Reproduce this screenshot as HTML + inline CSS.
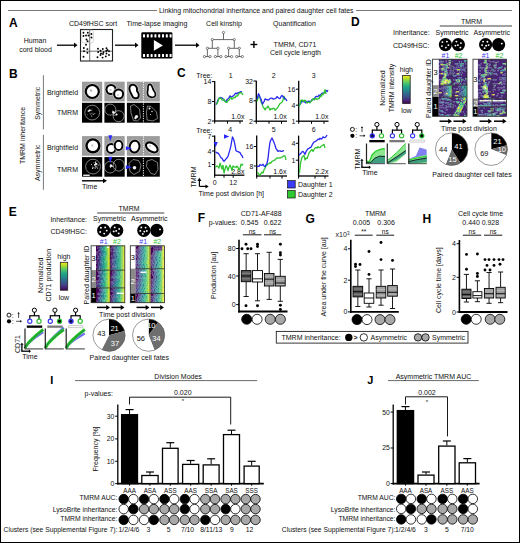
<!DOCTYPE html>
<html><head><meta charset="utf-8"><style>
html,body{margin:0;padding:0;background:#fff;}
svg{display:block;font-family:"Liberation Sans",sans-serif;}
</style></head><body>
<svg width="520" height="543" viewBox="0 0 520 543">
<rect x="0" y="0" width="520" height="543" fill="#fff"/>
<rect x="0.50" y="0.50" width="519.00" height="542.00" fill="none" stroke="#000" stroke-width="1" />
<line x1="8.00" y1="10.50" x2="157.00" y2="10.50" stroke="#555" stroke-width="0.8" />
<text x="159.00" y="12.82" font-size="7" text-anchor="start" font-weight="normal" fill="#111" textLength="194.5" lengthAdjust="spacingAndGlyphs">Linking mitochondrial inheritance and paired daughter cell fates</text>
<line x1="356.00" y1="10.50" x2="512.00" y2="10.50" stroke="#555" stroke-width="0.8" />
<text x="9.00" y="27.45" font-size="12" font-weight="bold" fill="#000">A</text>
<text x="35.00" y="43.02" font-size="7" text-anchor="middle" font-weight="normal" fill="#111" >Human</text>
<text x="35.50" y="51.52" font-size="7" text-anchor="middle" font-weight="normal" fill="#111" >cord blood</text>
<line x1="57.00" y1="45.20" x2="74.50" y2="45.20" stroke="#000" stroke-width="1.3" />
<polygon points="74.00,42.60 77.50,45.20 74.00,47.80" fill="#000" stroke="none" stroke-width="1" />
<text x="93.00" y="25.72" font-size="7" text-anchor="middle" font-weight="normal" fill="#111" >CD49fHSC sort</text>
<rect x="80.50" y="29.50" width="32.00" height="31.50" fill="none" stroke="#222" stroke-width="1.1" />
<line x1="89.70" y1="29.50" x2="89.70" y2="61.00" stroke="#333" stroke-width="0.7" />
<line x1="80.50" y1="51.20" x2="112.50" y2="51.20" stroke="#333" stroke-width="0.7" />
<rect x="81.80" y="30.20" width="11.50" height="12.60" fill="none" stroke="#bbb" stroke-width="0.6" rx="1.5"/>
<circle cx="83.50" cy="32.70" r="0.95" fill="#000" stroke="none" stroke-width="1" />
<circle cx="87.80" cy="32.70" r="0.95" fill="#000" stroke="none" stroke-width="1" />
<circle cx="91.40" cy="34.00" r="0.95" fill="#000" stroke="none" stroke-width="1" />
<circle cx="83.50" cy="36.00" r="0.95" fill="#000" stroke="none" stroke-width="1" />
<circle cx="86.00" cy="35.50" r="0.95" fill="#000" stroke="none" stroke-width="1" />
<circle cx="88.50" cy="35.50" r="0.95" fill="#000" stroke="none" stroke-width="1" />
<circle cx="91.50" cy="37.50" r="0.95" fill="#000" stroke="none" stroke-width="1" />
<circle cx="86.50" cy="39.50" r="0.95" fill="#000" stroke="none" stroke-width="1" />
<circle cx="87.60" cy="41.30" r="0.95" fill="#000" stroke="none" stroke-width="1" />
<circle cx="86.00" cy="44.70" r="0.95" fill="#000" stroke="none" stroke-width="1" />
<circle cx="83.80" cy="48.00" r="0.95" fill="#000" stroke="none" stroke-width="1" />
<circle cx="87.40" cy="49.10" r="0.95" fill="#000" stroke="none" stroke-width="1" />
<circle cx="84.00" cy="51.30" r="0.95" fill="#000" stroke="none" stroke-width="1" />
<circle cx="87.40" cy="52.80" r="0.95" fill="#000" stroke="none" stroke-width="1" />
<circle cx="83.50" cy="56.80" r="0.95" fill="#000" stroke="none" stroke-width="1" />
<circle cx="98.00" cy="48.80" r="0.95" fill="#000" stroke="none" stroke-width="1" />
<circle cx="100.50" cy="50.80" r="0.95" fill="#000" stroke="none" stroke-width="1" />
<circle cx="102.80" cy="49.00" r="0.95" fill="#000" stroke="none" stroke-width="1" />
<circle cx="106.50" cy="48.30" r="0.95" fill="#000" stroke="none" stroke-width="1" />
<circle cx="98.20" cy="52.00" r="0.95" fill="#000" stroke="none" stroke-width="1" />
<circle cx="101.00" cy="53.50" r="0.95" fill="#000" stroke="none" stroke-width="1" />
<circle cx="103.50" cy="52.20" r="0.95" fill="#000" stroke="none" stroke-width="1" />
<circle cx="106.20" cy="51.00" r="0.95" fill="#000" stroke="none" stroke-width="1" />
<circle cx="109.00" cy="51.20" r="0.95" fill="#000" stroke="none" stroke-width="1" />
<circle cx="100.50" cy="55.00" r="0.95" fill="#000" stroke="none" stroke-width="1" />
<circle cx="103.00" cy="54.00" r="0.95" fill="#000" stroke="none" stroke-width="1" />
<circle cx="106.50" cy="53.50" r="0.95" fill="#000" stroke="none" stroke-width="1" />
<circle cx="109.00" cy="55.00" r="0.95" fill="#000" stroke="none" stroke-width="1" />
<circle cx="97.50" cy="57.30" r="0.95" fill="#000" stroke="none" stroke-width="1" />
<circle cx="102.60" cy="57.60" r="0.95" fill="#000" stroke="none" stroke-width="1" />
<circle cx="105.80" cy="56.40" r="0.95" fill="#000" stroke="none" stroke-width="1" />
<circle cx="107.50" cy="50.00" r="0.95" fill="#000" stroke="none" stroke-width="1" />
<line x1="115.00" y1="45.20" x2="135.50" y2="45.20" stroke="#000" stroke-width="1.3" />
<polygon points="135.00,42.60 138.50,45.20 135.00,47.80" fill="#000" stroke="none" stroke-width="1" />
<text x="157.00" y="25.72" font-size="7" text-anchor="middle" font-weight="normal" fill="#111" >Time-lapse imaging</text>
<rect x="141.30" y="32.20" width="31.10" height="26.40" fill="#000" stroke="none" stroke-width="1" rx="1.3"/>
<rect x="143.00" y="34.20" width="2.00" height="3.20" fill="#fff" stroke="none" stroke-width="1" rx="0.4"/>
<rect x="143.00" y="53.90" width="2.00" height="3.20" fill="#fff" stroke="none" stroke-width="1" rx="0.4"/>
<rect x="146.80" y="34.20" width="2.00" height="3.20" fill="#fff" stroke="none" stroke-width="1" rx="0.4"/>
<rect x="146.80" y="53.90" width="2.00" height="3.20" fill="#fff" stroke="none" stroke-width="1" rx="0.4"/>
<rect x="150.60" y="34.20" width="2.00" height="3.20" fill="#fff" stroke="none" stroke-width="1" rx="0.4"/>
<rect x="150.60" y="53.90" width="2.00" height="3.20" fill="#fff" stroke="none" stroke-width="1" rx="0.4"/>
<rect x="154.40" y="34.20" width="2.00" height="3.20" fill="#fff" stroke="none" stroke-width="1" rx="0.4"/>
<rect x="154.40" y="53.90" width="2.00" height="3.20" fill="#fff" stroke="none" stroke-width="1" rx="0.4"/>
<rect x="158.20" y="34.20" width="2.00" height="3.20" fill="#fff" stroke="none" stroke-width="1" rx="0.4"/>
<rect x="158.20" y="53.90" width="2.00" height="3.20" fill="#fff" stroke="none" stroke-width="1" rx="0.4"/>
<rect x="162.00" y="34.20" width="2.00" height="3.20" fill="#fff" stroke="none" stroke-width="1" rx="0.4"/>
<rect x="162.00" y="53.90" width="2.00" height="3.20" fill="#fff" stroke="none" stroke-width="1" rx="0.4"/>
<rect x="165.80" y="34.20" width="2.00" height="3.20" fill="#fff" stroke="none" stroke-width="1" rx="0.4"/>
<rect x="165.80" y="53.90" width="2.00" height="3.20" fill="#fff" stroke="none" stroke-width="1" rx="0.4"/>
<rect x="169.60" y="34.20" width="2.00" height="3.20" fill="#fff" stroke="none" stroke-width="1" rx="0.4"/>
<rect x="169.60" y="53.90" width="2.00" height="3.20" fill="#fff" stroke="none" stroke-width="1" rx="0.4"/>
<polygon points="153.90,40.00 153.90,50.80 162.90,45.40" fill="#fff" stroke="none" stroke-width="1" />
<line x1="175.00" y1="45.20" x2="196.50" y2="45.20" stroke="#000" stroke-width="1.3" />
<polygon points="196.00,42.60 199.50,45.20 196.00,47.80" fill="#000" stroke="none" stroke-width="1" />
<text x="224.00" y="25.72" font-size="7" text-anchor="middle" font-weight="normal" fill="#111" >Cell kinship</text>
<line x1="223.50" y1="32.50" x2="223.50" y2="39.60" stroke="#444" stroke-width="0.8" />
<line x1="212.30" y1="39.60" x2="234.30" y2="39.60" stroke="#444" stroke-width="0.8" />
<line x1="212.30" y1="39.60" x2="212.30" y2="48.30" stroke="#444" stroke-width="0.8" />
<line x1="234.30" y1="39.60" x2="234.30" y2="48.30" stroke="#444" stroke-width="0.8" />
<line x1="207.40" y1="48.30" x2="217.90" y2="48.30" stroke="#444" stroke-width="0.8" />
<line x1="228.60" y1="48.30" x2="239.30" y2="48.30" stroke="#444" stroke-width="0.8" />
<line x1="207.40" y1="48.30" x2="207.40" y2="56.60" stroke="#444" stroke-width="0.8" />
<line x1="204.40" y1="56.60" x2="210.10" y2="56.60" stroke="#444" stroke-width="0.8" />
<line x1="217.90" y1="48.30" x2="217.90" y2="56.60" stroke="#444" stroke-width="0.8" />
<line x1="215.30" y1="56.60" x2="220.90" y2="56.60" stroke="#444" stroke-width="0.8" />
<line x1="228.60" y1="48.30" x2="228.60" y2="56.60" stroke="#444" stroke-width="0.8" />
<line x1="226.00" y1="56.60" x2="231.60" y2="56.60" stroke="#444" stroke-width="0.8" />
<line x1="239.30" y1="48.30" x2="239.30" y2="56.60" stroke="#444" stroke-width="0.8" />
<line x1="236.70" y1="56.60" x2="242.30" y2="56.60" stroke="#444" stroke-width="0.8" />
<circle cx="223.50" cy="32.50" r="1.15" fill="#fff" stroke="#333" stroke-width="0.6" />
<circle cx="212.30" cy="39.60" r="1.15" fill="#fff" stroke="#333" stroke-width="0.6" />
<circle cx="234.30" cy="39.60" r="1.15" fill="#fff" stroke="#333" stroke-width="0.6" />
<circle cx="207.40" cy="48.30" r="1.15" fill="#fff" stroke="#333" stroke-width="0.6" />
<circle cx="217.90" cy="48.30" r="1.15" fill="#fff" stroke="#333" stroke-width="0.6" />
<circle cx="228.60" cy="48.30" r="1.15" fill="#fff" stroke="#333" stroke-width="0.6" />
<circle cx="239.30" cy="48.30" r="1.15" fill="#fff" stroke="#333" stroke-width="0.6" />
<circle cx="204.40" cy="56.60" r="1.15" fill="#fff" stroke="#333" stroke-width="0.6" />
<circle cx="210.10" cy="56.60" r="1.15" fill="#fff" stroke="#333" stroke-width="0.6" />
<circle cx="215.30" cy="56.60" r="1.15" fill="#fff" stroke="#333" stroke-width="0.6" />
<circle cx="220.90" cy="56.60" r="1.15" fill="#fff" stroke="#333" stroke-width="0.6" />
<circle cx="226.00" cy="56.60" r="1.15" fill="#fff" stroke="#333" stroke-width="0.6" />
<circle cx="231.60" cy="56.60" r="1.15" fill="#fff" stroke="#333" stroke-width="0.6" />
<circle cx="236.70" cy="56.60" r="1.15" fill="#fff" stroke="#333" stroke-width="0.6" />
<circle cx="242.30" cy="56.60" r="1.15" fill="#fff" stroke="#333" stroke-width="0.6" />
<line x1="250.50" y1="44.50" x2="257.30" y2="44.50" stroke="#000" stroke-width="1.4" />
<line x1="253.90" y1="41.10" x2="253.90" y2="47.90" stroke="#000" stroke-width="1.4" />
<text x="294.50" y="25.72" font-size="7" text-anchor="middle" font-weight="normal" fill="#111" >Quantification</text>
<text x="295.00" y="46.92" font-size="7" text-anchor="middle" font-weight="normal" fill="#111" >TMRM, CD71</text>
<text x="295.50" y="54.82" font-size="7" text-anchor="middle" font-weight="normal" fill="#111" >Cell cycle length</text>
<text x="9.00" y="78.25" font-size="12" font-weight="bold" fill="#000">B</text>
<line x1="43.40" y1="75.20" x2="43.40" y2="129.50" stroke="#777" stroke-width="1" />
<line x1="43.40" y1="134.80" x2="43.40" y2="189.80" stroke="#777" stroke-width="1" />
<text x="0" y="2.10" font-size="7" text-anchor="middle" font-weight="normal" fill="#111" transform="translate(38.00,103.30) rotate(-90)" >Symmetric</text>
<text x="0" y="2.10" font-size="7" text-anchor="middle" font-weight="normal" fill="#111" transform="translate(38.00,162.80) rotate(-90)" >Asymmetric</text>
<text x="0" y="2.10" font-size="7" text-anchor="middle" font-weight="normal" fill="#111" transform="translate(23.30,135.50) rotate(-90)" >TMRM inheritance</text>
<text x="62.50" y="94.72" font-size="7" text-anchor="middle" font-weight="normal" fill="#111" >Brightfield</text>
<text x="67.50" y="115.42" font-size="7" text-anchor="middle" font-weight="normal" fill="#111" >TMRM</text>
<text x="62.50" y="150.02" font-size="7" text-anchor="middle" font-weight="normal" fill="#111" >Brightfield</text>
<text x="67.50" y="171.52" font-size="7" text-anchor="middle" font-weight="normal" fill="#111" >TMRM</text>
<rect x="82.00" y="81.70" width="20.20" height="19.80" fill="#9c9c9c" stroke="none" stroke-width="1" />
<ellipse cx="92.3" cy="91.5" rx="8.3" ry="8.3" fill="#c4c4c4" transform="rotate(0 92.3 91.5)"/>
<ellipse cx="92.3" cy="91.5" rx="7.6000000000000005" ry="7.6000000000000005" fill="#000" transform="rotate(0 92.3 91.5)"/>
<ellipse cx="92.3" cy="91.5" rx="5.4" ry="5.4" fill="#fff" transform="rotate(0 92.3 91.5)"/>
<circle cx="91.00" cy="90.50" r="1.30" fill="#bbb" stroke="none" stroke-width="1" />
<rect x="104.40" y="81.70" width="20.30" height="19.80" fill="#9c9c9c" stroke="none" stroke-width="1" />
<ellipse cx="111" cy="89.5" rx="6.2" ry="6.2" fill="#c4c4c4" transform="rotate(0 111 89.5)"/>
<ellipse cx="111" cy="89.5" rx="5.5" ry="5.5" fill="#000" transform="rotate(0 111 89.5)"/>
<ellipse cx="111" cy="89.5" rx="3.5" ry="3.5" fill="#fff" transform="rotate(0 111 89.5)"/>
<ellipse cx="118.6" cy="94" rx="6.2" ry="6.2" fill="#c4c4c4" transform="rotate(0 118.6 94)"/>
<ellipse cx="118.6" cy="94" rx="5.5" ry="5.5" fill="#000" transform="rotate(0 118.6 94)"/>
<ellipse cx="118.6" cy="94" rx="3.5" ry="3.5" fill="#fff" transform="rotate(0 118.6 94)"/>
<circle cx="110.50" cy="90.00" r="1.00" fill="#bbb" stroke="none" stroke-width="1" />
<circle cx="118.00" cy="95.00" r="1.00" fill="#ccc" stroke="none" stroke-width="1" />
<rect x="126.90" y="81.70" width="32.90" height="19.80" fill="#9c9c9c" stroke="none" stroke-width="1" />
<path d="M132,85.8 C134.5,85 136.5,87.5 136,90 C135.6,92 138.5,93.5 137.8,96 C137,98.2 133.5,97.5 132.8,95 C132.2,93 130.6,91.5 130.4,89 C130.3,87.2 131,86.2 132,85.8Z" fill="#c4c4c4" stroke="#c4c4c4" stroke-width="5.199999999999999" stroke-linejoin="round" />
<path d="M132,85.8 C134.5,85 136.5,87.5 136,90 C135.6,92 138.5,93.5 137.8,96 C137,98.2 133.5,97.5 132.8,95 C132.2,93 130.6,91.5 130.4,89 C130.3,87.2 131,86.2 132,85.8Z" fill="#000" stroke="#000" stroke-width="3.8" stroke-linejoin="round" />
<path d="M132,85.8 C134.5,85 136.5,87.5 136,90 C135.6,92 138.5,93.5 137.8,96 C137,98.2 133.5,97.5 132.8,95 C132.2,93 130.6,91.5 130.4,89 C130.3,87.2 131,86.2 132,85.8Z" fill="#fff" />
<path d="M149.5,85.3 C151,85 151.6,87.5 152.2,89.5 C153,91.5 155.2,93 154.6,95.2 C153.8,97.2 149.6,96.8 148.6,94.6 C147.8,92.6 148.8,90.5 148.8,88.5 C148.8,86.8 148.9,85.6 149.5,85.3Z" fill="#c4c4c4" stroke="#c4c4c4" stroke-width="4.8" stroke-linejoin="round" />
<path d="M149.5,85.3 C151,85 151.6,87.5 152.2,89.5 C153,91.5 155.2,93 154.6,95.2 C153.8,97.2 149.6,96.8 148.6,94.6 C147.8,92.6 148.8,90.5 148.8,88.5 C148.8,86.8 148.9,85.6 149.5,85.3Z" fill="#000" stroke="#000" stroke-width="3.4" stroke-linejoin="round" />
<path d="M149.5,85.3 C151,85 151.6,87.5 152.2,89.5 C153,91.5 155.2,93 154.6,95.2 C153.8,97.2 149.6,96.8 148.6,94.6 C147.8,92.6 148.8,90.5 148.8,88.5 C148.8,86.8 148.9,85.6 149.5,85.3Z" fill="#fff" />
<rect x="82.00" y="102.80" width="20.20" height="19.90" fill="#000" stroke="none" stroke-width="1" />
<ellipse cx="92.2" cy="112.6" rx="7.4" ry="7.4" fill="none" stroke="#d0d0d0" stroke-width="0.6" transform="rotate(0 92.2 112.6)"/>
<circle cx="90.22" cy="114.06" r="0.50" fill="#e8e8e8" stroke="none" stroke-width="1" />
<circle cx="93.96" cy="113.95" r="0.41" fill="#e8e8e8" stroke="none" stroke-width="1" />
<circle cx="94.00" cy="113.64" r="0.31" fill="#e8e8e8" stroke="none" stroke-width="1" />
<circle cx="89.91" cy="112.98" r="0.33" fill="#e8e8e8" stroke="none" stroke-width="1" />
<circle cx="87.36" cy="114.37" r="0.34" fill="#e8e8e8" stroke="none" stroke-width="1" />
<circle cx="91.60" cy="116.01" r="0.58" fill="#e8e8e8" stroke="none" stroke-width="1" />
<circle cx="88.49" cy="111.18" r="0.59" fill="#e8e8e8" stroke="none" stroke-width="1" />
<circle cx="94.99" cy="113.70" r="0.39" fill="#e8e8e8" stroke="none" stroke-width="1" />
<circle cx="91.95" cy="113.72" r="0.39" fill="#e8e8e8" stroke="none" stroke-width="1" />
<circle cx="91.77" cy="110.75" r="0.47" fill="#e8e8e8" stroke="none" stroke-width="1" />
<circle cx="89.24" cy="110.40" r="0.46" fill="#e8e8e8" stroke="none" stroke-width="1" />
<circle cx="92.01" cy="112.92" r="0.36" fill="#e8e8e8" stroke="none" stroke-width="1" />
<circle cx="89.75" cy="109.83" r="0.39" fill="#e8e8e8" stroke="none" stroke-width="1" />
<circle cx="88.40" cy="110.95" r="0.39" fill="#e8e8e8" stroke="none" stroke-width="1" />
<circle cx="92.04" cy="108.88" r="0.37" fill="#e8e8e8" stroke="none" stroke-width="1" />
<circle cx="88.09" cy="111.03" r="0.56" fill="#e8e8e8" stroke="none" stroke-width="1" />
<circle cx="90.69" cy="110.11" r="0.59" fill="#e8e8e8" stroke="none" stroke-width="1" />
<circle cx="93.15" cy="114.47" r="0.53" fill="#e8e8e8" stroke="none" stroke-width="1" />
<circle cx="89.50" cy="110.50" r="1.00" fill="#fff" stroke="none" stroke-width="1" />
<rect x="104.40" y="102.80" width="20.30" height="19.90" fill="#000" stroke="none" stroke-width="1" />
<ellipse cx="110.3" cy="109.6" rx="5.5" ry="5.5" fill="none" stroke="#d0d0d0" stroke-width="0.6" transform="rotate(0 110.3 109.6)"/>
<ellipse cx="118.6" cy="116.2" rx="5.5" ry="5.5" fill="none" stroke="#d0d0d0" stroke-width="0.6" transform="rotate(0 118.6 116.2)"/>
<circle cx="113.50" cy="112.50" r="1.30" fill="#f4f4f4" stroke="none" stroke-width="1" />
<circle cx="116.50" cy="114.50" r="1.10" fill="#f4f4f4" stroke="none" stroke-width="1" />
<circle cx="115.71" cy="115.21" r="0.31" fill="#e8e8e8" stroke="none" stroke-width="1" />
<circle cx="113.21" cy="111.22" r="0.47" fill="#e8e8e8" stroke="none" stroke-width="1" />
<circle cx="115.69" cy="112.32" r="0.51" fill="#e8e8e8" stroke="none" stroke-width="1" />
<circle cx="112.61" cy="112.22" r="0.44" fill="#e8e8e8" stroke="none" stroke-width="1" />
<circle cx="116.06" cy="111.04" r="0.44" fill="#e8e8e8" stroke="none" stroke-width="1" />
<circle cx="114.12" cy="112.87" r="0.51" fill="#e8e8e8" stroke="none" stroke-width="1" />
<circle cx="112.70" cy="111.11" r="0.55" fill="#e8e8e8" stroke="none" stroke-width="1" />
<circle cx="114.10" cy="115.32" r="0.50" fill="#e8e8e8" stroke="none" stroke-width="1" />
<rect x="126.90" y="102.80" width="32.90" height="19.90" fill="#000" stroke="none" stroke-width="1" />
<path d="M130.5,106 L134,104.5 L139.5,109 L140.5,118 L137.5,121 L133.5,120.5 L131,113 Z" fill="none" stroke="#d0d0d0" stroke-width="0.6" stroke-linejoin="round"/>
<circle cx="136.50" cy="116.50" r="1.60" fill="#f0f0f0" stroke="none" stroke-width="1" />
<circle cx="135.50" cy="118.00" r="1.20" fill="#f0f0f0" stroke="none" stroke-width="1" />
<path d="M147.5,106 L151,106.5 L156.5,112 L157.5,118.5 L153,121 L147,120 L146.5,112 Z" fill="none" stroke="#d0d0d0" stroke-width="0.6" stroke-linejoin="round"/>
<circle cx="149.50" cy="108.50" r="1.00" fill="#f0f0f0" stroke="none" stroke-width="1" />
<circle cx="152.00" cy="111.50" r="0.70" fill="#f0f0f0" stroke="none" stroke-width="1" />
<circle cx="150.50" cy="114.50" r="0.50" fill="#f0f0f0" stroke="none" stroke-width="1" />
<rect x="82.00" y="136.10" width="20.20" height="19.70" fill="#9c9c9c" stroke="none" stroke-width="1" />
<ellipse cx="92.9" cy="145.8" rx="8.299999999999999" ry="8.299999999999999" fill="#c4c4c4" transform="rotate(0 92.9 145.8)"/>
<ellipse cx="92.9" cy="145.8" rx="7.6" ry="7.6" fill="#000" transform="rotate(0 92.9 145.8)"/>
<ellipse cx="92.9" cy="145.8" rx="5.2" ry="5.2" fill="#fff" transform="rotate(0 92.9 145.8)"/>
<circle cx="92.30" cy="145.50" r="1.20" fill="#ccc" stroke="none" stroke-width="1" />
<rect x="104.40" y="136.10" width="20.30" height="19.70" fill="#9c9c9c" stroke="none" stroke-width="1" />
<ellipse cx="111.2" cy="148.4" rx="6.0" ry="6.2" fill="#c4c4c4" transform="rotate(0 111.2 148.4)"/>
<ellipse cx="111.2" cy="148.4" rx="5.3" ry="5.5" fill="#000" transform="rotate(0 111.2 148.4)"/>
<ellipse cx="111.2" cy="148.4" rx="3.3" ry="3.5" fill="#fff" transform="rotate(0 111.2 148.4)"/>
<ellipse cx="118.6" cy="145.4" rx="5.5" ry="6.3" fill="#c4c4c4" transform="rotate(0 118.6 145.4)"/>
<ellipse cx="118.6" cy="145.4" rx="4.8" ry="5.6" fill="#000" transform="rotate(0 118.6 145.4)"/>
<ellipse cx="118.6" cy="145.4" rx="2.9" ry="3.7" fill="#fff" transform="rotate(0 118.6 145.4)"/>
<rect x="126.90" y="136.10" width="32.90" height="19.70" fill="#9c9c9c" stroke="none" stroke-width="1" />
<ellipse cx="134.6" cy="146.6" rx="6.6000000000000005" ry="7.6000000000000005" fill="#c4c4c4" transform="rotate(10 134.6 146.6)"/>
<ellipse cx="134.6" cy="146.6" rx="5.9" ry="6.9" fill="#000" transform="rotate(10 134.6 146.6)"/>
<ellipse cx="134.6" cy="146.6" rx="3.9" ry="4.9" fill="#fff" transform="rotate(10 134.6 146.6)"/>
<ellipse cx="151.8" cy="147.4" rx="5.8" ry="8.299999999999999" fill="#c4c4c4" transform="rotate(-55 151.8 147.4)"/>
<ellipse cx="151.8" cy="147.4" rx="5.1" ry="7.6" fill="#000" transform="rotate(-55 151.8 147.4)"/>
<ellipse cx="151.8" cy="147.4" rx="3.0" ry="5.5" fill="#fff" transform="rotate(-55 151.8 147.4)"/>
<circle cx="150.00" cy="146.00" r="1.00" fill="#ccc" stroke="none" stroke-width="1" />
<rect x="82.00" y="157.10" width="20.20" height="19.60" fill="#000" stroke="none" stroke-width="1" />
<ellipse cx="93" cy="166.6" rx="7.4" ry="7.4" fill="none" stroke="#d0d0d0" stroke-width="0.6" transform="rotate(0 93 166.6)"/>
<circle cx="97.69" cy="165.88" r="0.35" fill="#e8e8e8" stroke="none" stroke-width="1" />
<circle cx="95.72" cy="166.15" r="0.53" fill="#e8e8e8" stroke="none" stroke-width="1" />
<circle cx="96.37" cy="166.95" r="0.42" fill="#e8e8e8" stroke="none" stroke-width="1" />
<circle cx="95.78" cy="164.68" r="0.43" fill="#e8e8e8" stroke="none" stroke-width="1" />
<circle cx="91.42" cy="164.35" r="0.55" fill="#e8e8e8" stroke="none" stroke-width="1" />
<circle cx="96.39" cy="163.91" r="0.42" fill="#e8e8e8" stroke="none" stroke-width="1" />
<circle cx="92.62" cy="168.42" r="0.59" fill="#e8e8e8" stroke="none" stroke-width="1" />
<circle cx="95.98" cy="166.86" r="0.37" fill="#e8e8e8" stroke="none" stroke-width="1" />
<circle cx="95.29" cy="168.27" r="0.48" fill="#e8e8e8" stroke="none" stroke-width="1" />
<circle cx="94.98" cy="165.76" r="0.43" fill="#e8e8e8" stroke="none" stroke-width="1" />
<circle cx="92.95" cy="167.70" r="0.59" fill="#e8e8e8" stroke="none" stroke-width="1" />
<circle cx="93.95" cy="162.83" r="0.49" fill="#e8e8e8" stroke="none" stroke-width="1" />
<circle cx="94.58" cy="164.67" r="0.57" fill="#e8e8e8" stroke="none" stroke-width="1" />
<circle cx="95.70" cy="161.83" r="0.54" fill="#e8e8e8" stroke="none" stroke-width="1" />
<circle cx="93.03" cy="167.08" r="0.33" fill="#e8e8e8" stroke="none" stroke-width="1" />
<circle cx="94.34" cy="164.75" r="0.32" fill="#e8e8e8" stroke="none" stroke-width="1" />
<circle cx="95.41" cy="167.06" r="0.40" fill="#e8e8e8" stroke="none" stroke-width="1" />
<circle cx="95.06" cy="165.52" r="0.35" fill="#e8e8e8" stroke="none" stroke-width="1" />
<circle cx="96.94" cy="166.94" r="0.31" fill="#e8e8e8" stroke="none" stroke-width="1" />
<circle cx="97.21" cy="163.27" r="0.34" fill="#e8e8e8" stroke="none" stroke-width="1" />
<circle cx="94.97" cy="167.86" r="0.41" fill="#e8e8e8" stroke="none" stroke-width="1" />
<circle cx="97.64" cy="168.07" r="0.60" fill="#e8e8e8" stroke="none" stroke-width="1" />
<circle cx="92.28" cy="166.09" r="0.33" fill="#e8e8e8" stroke="none" stroke-width="1" />
<circle cx="96.88" cy="166.90" r="0.38" fill="#e8e8e8" stroke="none" stroke-width="1" />
<circle cx="95.76" cy="164.09" r="0.31" fill="#e8e8e8" stroke="none" stroke-width="1" />
<circle cx="97.77" cy="164.62" r="0.34" fill="#e8e8e8" stroke="none" stroke-width="1" />
<circle cx="94.37" cy="165.32" r="0.46" fill="#e8e8e8" stroke="none" stroke-width="1" />
<circle cx="98.68" cy="165.00" r="0.51" fill="#e8e8e8" stroke="none" stroke-width="1" />
<circle cx="94.83" cy="167.92" r="0.35" fill="#e8e8e8" stroke="none" stroke-width="1" />
<circle cx="95.40" cy="162.61" r="0.53" fill="#e8e8e8" stroke="none" stroke-width="1" />
<circle cx="96.00" cy="164.00" r="1.20" fill="#eee" stroke="none" stroke-width="1" />
<rect x="83.20" y="174.60" width="6.50" height="1.30" fill="#fff" stroke="none" stroke-width="1" />
<rect x="104.40" y="157.10" width="20.30" height="19.60" fill="#000" stroke="none" stroke-width="1" />
<ellipse cx="110.2" cy="167.2" rx="5.8" ry="5.8" fill="none" stroke="#d0d0d0" stroke-width="0.6" transform="rotate(0 110.2 167.2)"/>
<ellipse cx="118.8" cy="165.2" rx="5.6" ry="5.9" fill="none" stroke="#d0d0d0" stroke-width="0.6" transform="rotate(0 118.8 165.2)"/>
<circle cx="111.00" cy="165.80" r="1.30" fill="#eee" stroke="none" stroke-width="1" />
<circle cx="110.59" cy="167.25" r="0.54" fill="#e8e8e8" stroke="none" stroke-width="1" />
<circle cx="112.65" cy="166.34" r="0.54" fill="#e8e8e8" stroke="none" stroke-width="1" />
<circle cx="111.64" cy="165.09" r="0.37" fill="#e8e8e8" stroke="none" stroke-width="1" />
<circle cx="109.93" cy="166.38" r="0.31" fill="#e8e8e8" stroke="none" stroke-width="1" />
<circle cx="111.94" cy="166.67" r="0.38" fill="#e8e8e8" stroke="none" stroke-width="1" />
<circle cx="110.38" cy="164.85" r="0.43" fill="#e8e8e8" stroke="none" stroke-width="1" />
<rect x="126.90" y="157.10" width="32.90" height="19.60" fill="#000" stroke="none" stroke-width="1" />
<path d="M129,163.5 L133,159.5 L138.5,160.5 L141,165 L139.5,171.5 L134,174.5 L130,171.5 Z" fill="none" stroke="#d0d0d0" stroke-width="0.6" stroke-linejoin="round"/>
<circle cx="134.50" cy="167.80" r="1.80" fill="#f0f0f0" stroke="none" stroke-width="1" />
<path d="M147,161 L152,159.5 L157.5,162.5 L158,169.5 L155,174.5 L151,173.5 L146.5,166.5 Z" fill="none" stroke="#d0d0d0" stroke-width="0.6" stroke-linejoin="round"/>
<line x1="143.40" y1="79.50" x2="143.40" y2="123.50" stroke="#fff" stroke-width="1.0" stroke-dasharray="1.2 1.2"/>
<line x1="143.40" y1="134.00" x2="143.40" y2="177.50" stroke="#fff" stroke-width="1.0" stroke-dasharray="1.2 1.2"/>
<polygon points="108.40,135.20 112.30,135.20 110.30,141.30" fill="#2a2aff" stroke="none" stroke-width="1" />
<polygon points="108.40,156.80 112.30,156.80 110.30,163.00" fill="#2a2aff" stroke="none" stroke-width="1" />
<polygon points="125.80,146.20 125.80,150.20 132.00,148.20" fill="#2a2aff" stroke="none" stroke-width="1" />
<polygon points="125.80,165.30 125.80,169.30 132.00,167.30" fill="#2a2aff" stroke="none" stroke-width="1" />
<line x1="82.00" y1="180.80" x2="103.50" y2="180.80" stroke="#000" stroke-width="1.4" />
<polygon points="103.00,178.40 107.00,180.80 103.00,183.20" fill="#000" stroke="none" stroke-width="1" />
<text x="82.00" y="188.82" font-size="7" text-anchor="start" font-weight="normal" fill="#111" >Time</text>
<text x="177.00" y="76.55" font-size="12" font-weight="bold" fill="#000">C</text>
<text x="196.30" y="78.42" font-size="7" text-anchor="start" font-weight="normal" fill="#111" >Tree:</text>
<text x="196.30" y="132.72" font-size="7" text-anchor="start" font-weight="normal" fill="#111" >Tree:</text>
<text x="230.60" y="77.92" font-size="7" text-anchor="middle" font-weight="normal" fill="#111" >1</text>
<text x="273.60" y="77.92" font-size="7" text-anchor="middle" font-weight="normal" fill="#111" >2</text>
<text x="313.60" y="77.92" font-size="7" text-anchor="middle" font-weight="normal" fill="#111" >3</text>
<text x="230.20" y="132.32" font-size="7" text-anchor="middle" font-weight="normal" fill="#111" >4</text>
<text x="273.70" y="132.32" font-size="7" text-anchor="middle" font-weight="normal" fill="#111" >5</text>
<text x="313.70" y="132.32" font-size="7" text-anchor="middle" font-weight="normal" fill="#111" >6</text>
<line x1="214.70" y1="81.00" x2="214.70" y2="121.60" stroke="#000" stroke-width="1.3" />
<line x1="214.10" y1="121.00" x2="243.00" y2="121.00" stroke="#000" stroke-width="1.3" />
<line x1="211.90" y1="81.60" x2="214.70" y2="81.60" stroke="#000" stroke-width="1.0" />
<text x="211.40" y="84.12" font-size="7" text-anchor="end" font-weight="normal" fill="#111" >14</text>
<line x1="211.90" y1="101.50" x2="214.70" y2="101.50" stroke="#000" stroke-width="1.0" />
<text x="211.40" y="104.02" font-size="7" text-anchor="end" font-weight="normal" fill="#111" >8</text>
<line x1="211.90" y1="121.00" x2="214.70" y2="121.00" stroke="#000" stroke-width="1.0" />
<text x="211.40" y="123.52" font-size="7" text-anchor="end" font-weight="normal" fill="#111" >2</text>
<line x1="214.70" y1="121.00" x2="214.70" y2="123.60" stroke="#000" stroke-width="1.0" />
<line x1="227.50" y1="121.00" x2="227.50" y2="123.60" stroke="#000" stroke-width="1.0" />
<line x1="240.00" y1="121.00" x2="240.00" y2="123.60" stroke="#000" stroke-width="1.0" />
<line x1="256.30" y1="80.80" x2="256.30" y2="121.80" stroke="#000" stroke-width="1.3" />
<line x1="255.70" y1="121.20" x2="287.00" y2="121.20" stroke="#000" stroke-width="1.3" />
<line x1="253.50" y1="81.00" x2="256.30" y2="81.00" stroke="#000" stroke-width="1.0" />
<text x="253.00" y="83.52" font-size="7" text-anchor="end" font-weight="normal" fill="#111" >32</text>
<line x1="253.50" y1="100.80" x2="256.30" y2="100.80" stroke="#000" stroke-width="1.0" />
<text x="253.00" y="103.32" font-size="7" text-anchor="end" font-weight="normal" fill="#111" >8</text>
<line x1="253.50" y1="121.20" x2="256.30" y2="121.20" stroke="#000" stroke-width="1.0" />
<text x="253.00" y="123.72" font-size="7" text-anchor="end" font-weight="normal" fill="#111" >2</text>
<line x1="256.30" y1="121.20" x2="256.30" y2="123.80" stroke="#000" stroke-width="1.0" />
<line x1="269.00" y1="121.20" x2="269.00" y2="123.80" stroke="#000" stroke-width="1.0" />
<line x1="281.50" y1="121.20" x2="281.50" y2="123.80" stroke="#000" stroke-width="1.0" />
<line x1="298.70" y1="80.80" x2="298.70" y2="121.80" stroke="#000" stroke-width="1.3" />
<line x1="298.10" y1="121.20" x2="328.50" y2="121.20" stroke="#000" stroke-width="1.3" />
<line x1="295.90" y1="89.20" x2="298.70" y2="89.20" stroke="#000" stroke-width="1.0" />
<text x="295.40" y="91.72" font-size="7" text-anchor="end" font-weight="normal" fill="#111" >16</text>
<line x1="295.90" y1="105.20" x2="298.70" y2="105.20" stroke="#000" stroke-width="1.0" />
<text x="295.40" y="107.72" font-size="7" text-anchor="end" font-weight="normal" fill="#111" >4</text>
<line x1="295.90" y1="121.20" x2="298.70" y2="121.20" stroke="#000" stroke-width="1.0" />
<text x="295.40" y="123.72" font-size="7" text-anchor="end" font-weight="normal" fill="#111" >1</text>
<line x1="298.70" y1="121.20" x2="298.70" y2="123.80" stroke="#000" stroke-width="1.0" />
<line x1="311.50" y1="121.20" x2="311.50" y2="123.80" stroke="#000" stroke-width="1.0" />
<line x1="324.00" y1="121.20" x2="324.00" y2="123.80" stroke="#000" stroke-width="1.0" />
<line x1="214.70" y1="135.50" x2="214.70" y2="175.80" stroke="#000" stroke-width="1.3" />
<line x1="214.10" y1="175.20" x2="244.40" y2="175.20" stroke="#000" stroke-width="1.3" />
<line x1="211.90" y1="136.20" x2="214.70" y2="136.20" stroke="#000" stroke-width="1.0" />
<text x="211.40" y="138.72" font-size="7" text-anchor="end" font-weight="normal" fill="#111" >7</text>
<line x1="211.90" y1="151.00" x2="214.70" y2="151.00" stroke="#000" stroke-width="1.0" />
<text x="211.40" y="153.52" font-size="7" text-anchor="end" font-weight="normal" fill="#111" >4</text>
<line x1="211.90" y1="164.50" x2="214.70" y2="164.50" stroke="#000" stroke-width="1.0" />
<text x="211.40" y="167.02" font-size="7" text-anchor="end" font-weight="normal" fill="#111" >1</text>
<line x1="214.70" y1="175.20" x2="214.70" y2="177.80" stroke="#000" stroke-width="1.0" />
<line x1="224.00" y1="175.20" x2="224.00" y2="177.80" stroke="#000" stroke-width="1.0" />
<line x1="233.20" y1="175.20" x2="233.20" y2="177.80" stroke="#000" stroke-width="1.0" />
<line x1="256.70" y1="135.60" x2="256.70" y2="176.60" stroke="#000" stroke-width="1.3" />
<line x1="256.10" y1="176.00" x2="287.00" y2="176.00" stroke="#000" stroke-width="1.3" />
<line x1="253.90" y1="146.50" x2="256.70" y2="146.50" stroke="#000" stroke-width="1.0" />
<text x="253.40" y="149.02" font-size="7" text-anchor="end" font-weight="normal" fill="#111" >16</text>
<line x1="253.90" y1="166.00" x2="256.70" y2="166.00" stroke="#000" stroke-width="1.0" />
<text x="253.40" y="168.52" font-size="7" text-anchor="end" font-weight="normal" fill="#111" >8</text>
<line x1="256.70" y1="176.00" x2="256.70" y2="178.60" stroke="#000" stroke-width="1.0" />
<line x1="270.00" y1="176.00" x2="270.00" y2="178.60" stroke="#000" stroke-width="1.0" />
<line x1="282.00" y1="176.00" x2="282.00" y2="178.60" stroke="#000" stroke-width="1.0" />
<line x1="298.60" y1="135.60" x2="298.60" y2="176.60" stroke="#000" stroke-width="1.3" />
<line x1="298.00" y1="176.00" x2="328.50" y2="176.00" stroke="#000" stroke-width="1.3" />
<line x1="295.80" y1="143.30" x2="298.60" y2="143.30" stroke="#000" stroke-width="1.0" />
<text x="295.30" y="145.82" font-size="7" text-anchor="end" font-weight="normal" fill="#111" >4</text>
<line x1="295.80" y1="160.20" x2="298.60" y2="160.20" stroke="#000" stroke-width="1.0" />
<text x="295.30" y="162.72" font-size="7" text-anchor="end" font-weight="normal" fill="#111" >1</text>
<line x1="298.60" y1="176.00" x2="298.60" y2="178.60" stroke="#000" stroke-width="1.0" />
<line x1="315.00" y1="176.00" x2="315.00" y2="178.60" stroke="#000" stroke-width="1.0" />
<line x1="325.00" y1="176.00" x2="325.00" y2="178.60" stroke="#000" stroke-width="1.0" />
<text x="214.70" y="184.82" font-size="7" text-anchor="middle" font-weight="normal" fill="#111" >0</text>
<text x="233.20" y="184.82" font-size="7" text-anchor="middle" font-weight="normal" fill="#111" >12</text>
<text x="244.40" y="118.72" font-size="7" text-anchor="end" font-weight="normal" fill="#111" >1.0x</text>
<text x="286.70" y="119.22" font-size="7" text-anchor="end" font-weight="normal" fill="#111" >1.0x</text>
<text x="328.50" y="119.22" font-size="7" text-anchor="end" font-weight="normal" fill="#111" >1.0x</text>
<text x="244.40" y="173.92" font-size="7" text-anchor="end" font-weight="normal" fill="#111" >2.8x</text>
<text x="286.50" y="173.72" font-size="7" text-anchor="end" font-weight="normal" fill="#111" >1.6x</text>
<text x="328.50" y="173.72" font-size="7" text-anchor="end" font-weight="normal" fill="#111" >2.2x</text>
<polyline points="216.00,104.87 217.00,102.48 218.00,99.91 219.00,98.40 220.00,97.77 221.00,97.45 222.00,98.06 223.00,98.74 224.00,100.25 225.00,101.30 226.00,101.68 227.00,99.63 228.00,98.64 229.00,97.60 230.00,95.84 231.00,96.65 232.00,96.82 233.00,95.90 234.00,95.17 235.00,93.96 236.00,93.02 237.00,93.91 238.00,92.67 239.00,92.60 240.00,91.94 241.00,91.54 242.00,92.50" fill="none" stroke="#2828f0" stroke-width="1.3" stroke-linejoin="round" />
<polyline points="216.00,104.28 217.00,103.65 218.00,101.33 219.00,98.27 220.00,98.18 221.00,98.23 222.00,99.89 223.00,100.17 224.00,99.22 225.00,101.22 226.00,102.31 227.00,102.35 228.00,100.67 229.00,100.11 230.00,98.19 231.00,97.60 232.00,99.37 233.00,98.33 234.00,97.39 235.00,97.62 236.00,95.85 237.00,96.15 238.00,95.38 239.00,93.36 240.00,92.95 241.00,92.54 242.00,93.43 243.00,95.00" fill="none" stroke="#2fc42f" stroke-width="1.3" stroke-linejoin="round" />
<polyline points="257.00,101.19 258.00,97.97 259.00,95.82 260.00,97.69 261.00,101.90 262.00,103.68 263.00,106.91 264.00,108.18 265.00,109.89 266.00,107.83 267.00,107.92 268.00,106.00 269.00,108.07 270.00,110.05 271.00,108.61 272.00,109.20 273.00,108.30 274.00,108.24 275.00,110.32 276.00,109.28 277.00,108.28 278.00,107.16 279.00,105.12 280.00,103.62 281.00,103.04 282.00,102.12 283.00,100.13 284.00,96.13 285.00,100.00" fill="none" stroke="#2fc42f" stroke-width="1.3" stroke-linejoin="round" />
<polyline points="257.00,99.10 258.50,93.60 259.33,95.31 260.17,97.77 261.00,99.01 262.50,104.10 263.33,102.75 264.17,101.33 265.00,98.91 266.00,99.51 267.00,99.68 268.00,100.02 269.00,99.64 270.00,98.59 271.00,98.05 272.00,98.13 273.00,99.04 274.00,98.82 275.00,98.60 276.00,98.21 277.00,96.62 278.00,97.43 279.00,98.38 280.00,98.54 281.00,96.42 282.00,95.39 283.00,96.91 284.00,97.32 285.00,98.59 286.00,99.32 287.00,101.00" fill="none" stroke="#2828f0" stroke-width="1.3" stroke-linejoin="round" />
<polyline points="299.00,105.34 300.00,104.23 301.00,103.13 302.00,100.31 302.80,101.63 303.60,101.72 304.40,100.89 305.20,102.57 306.00,102.94 306.80,101.24 307.60,102.51 308.40,101.20 309.20,101.17 310.00,101.98 311.00,101.33 312.00,99.66 313.00,99.86 314.00,99.03 315.00,97.68 316.00,96.39 317.00,96.30 318.00,96.78 319.00,95.04 320.00,95.44 321.00,94.55 322.00,93.04 323.00,93.00 324.00,92.91 325.00,92.02 326.00,90.46 327.00,91.64 328.00,90.00" fill="none" stroke="#2828f0" stroke-width="1.3" stroke-linejoin="round" />
<polyline points="299.00,106.63 300.00,104.54 301.00,100.13 301.80,100.48 302.60,99.99 303.40,101.61 304.20,100.49 305.00,100.19 305.80,101.23 306.60,102.71 307.40,102.90 308.20,102.07 309.00,102.23 310.00,102.92 311.00,101.16 312.00,100.44 312.80,98.90 313.60,98.63 314.40,99.81 315.20,99.04 316.00,98.06 317.00,99.63 318.00,98.63 319.00,98.66 320.00,96.08 321.00,96.78 322.00,94.05 323.00,94.80 324.00,92.90 325.00,89.65 326.00,94.00" fill="none" stroke="#2fc42f" stroke-width="1.3" stroke-linejoin="round" />
<polyline points="215.50,167.12 217.00,165.94 218.00,166.49 219.00,168.18 220.00,163.06 221.00,165.92 222.00,169.14 223.00,165.26 224.00,173.01 225.00,169.34 226.00,165.59 227.00,167.57 228.00,170.57 229.00,167.04 230.00,165.00 231.00,167.29 232.00,170.66 233.00,165.94 234.00,166.95 235.00,166.93 236.00,167.51 237.00,166.11 238.00,167.32 239.00,169.94 240.00,168.46 241.00,164.13 242.00,165.20 243.00,164.00" fill="none" stroke="#2fc42f" stroke-width="1.3" stroke-linejoin="round" />
<polyline points="215.50,151.89 216.33,152.33 217.17,153.20 218.00,152.83 219.00,154.34 220.00,155.97 221.00,157.77 222.00,158.08 223.00,160.20 224.00,161.33 225.00,160.22 226.00,158.85 227.00,157.76 228.00,156.29 229.00,152.91 230.00,149.31 230.83,146.22 231.67,141.28 232.50,136.96 233.50,139.09 234.50,142.55 236.00,150.59 237.00,151.27 238.00,151.65 239.00,152.09 240.00,152.67 241.00,154.60 242.00,155.79 243.00,158.00" fill="none" stroke="#2828f0" stroke-width="1.3" stroke-linejoin="round" />
<polyline points="257.00,172.88 258.00,172.81 259.00,174.68 260.00,175.04 261.00,173.44 262.00,172.10 263.00,173.02 264.00,169.91 265.00,168.35 266.00,165.90 267.00,165.24 268.00,163.94 269.00,163.67 270.00,162.68 271.00,163.01 272.00,161.24 273.00,161.15 274.00,160.10 275.00,160.11 276.00,158.66 277.00,157.95 278.00,158.24 279.00,157.75 280.00,158.19 281.00,157.40 282.00,157.22 283.00,156.35 284.00,155.98 285.00,155.83 286.00,160.00" fill="none" stroke="#2fc42f" stroke-width="1.3" stroke-linejoin="round" />
<polyline points="257.00,166.82 258.00,166.06 259.00,166.44 260.00,164.44 261.00,165.36 262.00,165.23 263.00,164.27 264.00,166.04 265.00,166.63 266.00,164.70 267.00,163.37 268.00,158.50 269.00,149.42 270.00,142.04 271.00,139.76 272.00,138.04 273.00,140.24 274.00,142.52 275.00,145.13 276.00,148.63 277.00,149.79 278.00,151.31 279.00,150.90 280.00,150.92 281.00,151.41 282.00,151.44 283.00,150.70 284.00,151.00" fill="none" stroke="#2828f0" stroke-width="1.3" stroke-linejoin="round" />
<polyline points="299.50,172.74 300.50,163.13 302.00,157.28 303.00,156.28 304.00,155.40 305.00,159.98 306.00,157.91 307.00,158.65 308.00,156.05 309.00,153.01 310.00,151.58 311.00,150.35 312.00,149.55 313.00,151.52 314.00,149.45 315.00,148.06 316.00,147.48 317.00,148.17 318.00,146.68 319.00,147.53 320.00,147.71 321.00,146.32 322.00,145.74 323.00,144.95 324.00,144.40 325.00,148.00" fill="none" stroke="#2fc42f" stroke-width="1.3" stroke-linejoin="round" />
<polyline points="299.00,155.43 300.00,154.19 301.00,153.23 302.00,151.82 303.00,151.44 304.00,152.61 305.00,154.39 306.00,151.69 307.00,150.11 308.00,148.72 309.00,148.30 310.00,147.63 311.00,147.28 312.00,145.31 313.00,143.28 314.00,142.00 315.00,141.69 316.00,140.94 317.00,140.28 318.00,139.06 319.00,139.63 320.00,138.19 321.00,139.10 322.00,138.70 323.00,136.89 324.00,137.27 325.00,137.51 326.00,136.75 327.00,135.00" fill="none" stroke="#2828f0" stroke-width="1.3" stroke-linejoin="round" />
<polygon points="213.60,142.00 217.80,142.00 215.70,147.20" fill="#2a2aff" stroke="none" stroke-width="1" />
<polygon points="224.00,134.30 224.00,138.70 229.30,136.50" fill="#2a2aff" stroke="none" stroke-width="1" />
<line x1="199.40" y1="186.40" x2="199.40" y2="180.50" stroke="#000" stroke-width="1.2" />
<polygon points="197.40,181.00 201.40,181.00 199.40,177.80" fill="#000" stroke="none" stroke-width="1" />
<line x1="199.40" y1="186.40" x2="206.00" y2="186.40" stroke="#000" stroke-width="1.2" />
<polygon points="205.50,184.40 205.50,188.40 208.70,186.40" fill="#000" stroke="none" stroke-width="1" />
<text x="0" y="2.10" font-size="7" text-anchor="middle" font-weight="normal" fill="#111" transform="translate(194.20,177.00) rotate(-90)" >TMRM</text>
<text x="198.50" y="195.92" font-size="7" text-anchor="start" font-weight="normal" fill="#111" >Time post division [h]</text>
<rect x="287.60" y="180.60" width="7.60" height="7.40" fill="#3c3cf5" stroke="#111" stroke-width="0.7" />
<rect x="287.60" y="190.60" width="7.60" height="7.40" fill="#30c830" stroke="#111" stroke-width="0.7" />
<text x="298.00" y="187.02" font-size="7" text-anchor="start" font-weight="normal" fill="#111" >Daughter 1</text>
<text x="298.00" y="196.82" font-size="7" text-anchor="start" font-weight="normal" fill="#111" >Daughter 2</text>
<text x="351.00" y="25.95" font-size="12" font-weight="bold" fill="#000">D</text>
<text x="471.50" y="24.32" font-size="7" text-anchor="middle" font-weight="normal" fill="#111" >TMRM</text>
<line x1="439.80" y1="26.00" x2="512.00" y2="26.00" stroke="#808080" stroke-width="1.4" />
<text x="393.00" y="35.12" font-size="7" text-anchor="start" font-weight="normal" fill="#111" >Inheritance:</text>
<text x="452.00" y="35.12" font-size="7" text-anchor="middle" font-weight="normal" fill="#111" >Symmetric</text>
<text x="491.80" y="35.12" font-size="7" text-anchor="middle" font-weight="normal" fill="#111" >Asymmetric</text>
<text x="393.00" y="47.52" font-size="7" text-anchor="start" font-weight="normal" fill="#111" >CD49fHSC:</text>
<circle cx="445.40" cy="44.60" r="6.60" fill="#000" stroke="none" stroke-width="1" />
<circle cx="458.40" cy="44.60" r="6.60" fill="#000" stroke="none" stroke-width="1" />
<circle cx="442.40" cy="42.10" r="0.95" fill="#fff" stroke="none" stroke-width="1" />
<circle cx="446.90" cy="41.60" r="0.95" fill="#fff" stroke="none" stroke-width="1" />
<circle cx="441.90" cy="46.10" r="0.95" fill="#fff" stroke="none" stroke-width="1" />
<circle cx="445.90" cy="47.60" r="0.95" fill="#fff" stroke="none" stroke-width="1" />
<circle cx="448.40" cy="45.10" r="0.95" fill="#fff" stroke="none" stroke-width="1" />
<circle cx="456.40" cy="41.60" r="0.95" fill="#fff" stroke="none" stroke-width="1" />
<circle cx="460.90" cy="43.10" r="0.95" fill="#fff" stroke="none" stroke-width="1" />
<circle cx="455.40" cy="45.60" r="0.95" fill="#fff" stroke="none" stroke-width="1" />
<circle cx="460.40" cy="47.60" r="0.95" fill="#fff" stroke="none" stroke-width="1" />
<circle cx="457.90" cy="45.10" r="0.95" fill="#fff" stroke="none" stroke-width="1" />
<circle cx="485.60" cy="44.60" r="6.60" fill="#000" stroke="none" stroke-width="1" />
<circle cx="498.60" cy="44.60" r="6.60" fill="#000" stroke="none" stroke-width="1" />
<circle cx="483.10" cy="41.60" r="0.95" fill="#fff" stroke="none" stroke-width="1" />
<circle cx="487.40" cy="41.80" r="0.95" fill="#fff" stroke="none" stroke-width="1" />
<circle cx="482.10" cy="45.10" r="0.95" fill="#fff" stroke="none" stroke-width="1" />
<circle cx="486.10" cy="45.80" r="0.95" fill="#fff" stroke="none" stroke-width="1" />
<circle cx="488.60" cy="45.10" r="0.95" fill="#fff" stroke="none" stroke-width="1" />
<circle cx="484.60" cy="48.10" r="0.95" fill="#fff" stroke="none" stroke-width="1" />
<circle cx="501.80" cy="43.60" r="0.95" fill="#fff" stroke="none" stroke-width="1" />
<text x="445.40" y="58.32" font-size="7" text-anchor="middle" font-weight="normal" fill="#3a3af0" >#1</text>
<text x="458.60" y="58.32" font-size="7" text-anchor="middle" font-weight="normal" fill="#33c433" >#2</text>
<text x="485.60" y="58.32" font-size="7" text-anchor="middle" font-weight="normal" fill="#3a3af0" >#1</text>
<text x="499.50" y="58.32" font-size="7" text-anchor="middle" font-weight="normal" fill="#33c433" >#2</text>
<path fill="#440154" d="M444.69 69.22h1.01v1.05h-1.01zM456.86 83.24h1.01v1.05h-1.01z"/>
<path fill="#482475" d="M438.60 59.20h2.03v1.05h-2.03zM441.64 59.20h4.06v1.05h-4.06zM446.71 59.20h20.29v1.05h-20.29zM438.60 60.20h10.14v1.05h-10.14zM450.77 60.20h13.19v1.05h-13.19zM443.67 61.20h2.03v1.05h-2.03zM446.71 61.20h5.07v1.05h-5.07zM452.80 61.20h6.09v1.05h-6.09zM459.90 61.20h1.01v1.05h-1.01zM461.93 61.20h2.03v1.05h-2.03zM465.99 61.20h1.01v1.05h-1.01zM438.60 62.21h10.14v1.05h-10.14zM450.77 62.21h16.23v1.05h-16.23zM438.60 63.21h2.03v1.05h-2.03zM442.66 63.21h4.06v1.05h-4.06zM450.77 63.21h4.06v1.05h-4.06zM463.96 63.21h1.01v1.05h-1.01zM438.60 64.21h2.03v1.05h-2.03zM446.71 64.21h2.03v1.05h-2.03zM449.76 64.21h7.10v1.05h-7.10zM461.93 64.21h5.07v1.05h-5.07zM439.61 65.21h6.09v1.05h-6.09zM447.73 65.21h2.03v1.05h-2.03zM450.77 65.21h1.01v1.05h-1.01zM452.80 65.21h4.06v1.05h-4.06zM457.87 65.21h1.01v1.05h-1.01zM463.96 65.21h3.04v1.05h-3.04zM438.60 66.21h4.06v1.05h-4.06zM447.73 66.21h2.03v1.05h-2.03zM451.79 66.21h1.01v1.05h-1.01zM453.81 66.21h3.04v1.05h-3.04zM461.93 66.21h1.01v1.05h-1.01zM463.96 66.21h2.03v1.05h-2.03zM438.60 67.21h4.06v1.05h-4.06zM443.67 67.21h1.01v1.05h-1.01zM450.77 67.21h3.04v1.05h-3.04zM454.83 67.21h1.01v1.05h-1.01zM457.87 67.21h2.03v1.05h-2.03zM460.91 67.21h2.03v1.05h-2.03zM463.96 67.21h1.01v1.05h-1.01zM439.61 68.22h1.01v1.05h-1.01zM443.67 68.22h1.01v1.05h-1.01zM446.71 68.22h4.06v1.05h-4.06zM451.79 68.22h1.01v1.05h-1.01zM456.86 68.22h4.06v1.05h-4.06zM461.93 68.22h2.03v1.05h-2.03zM464.97 68.22h2.03v1.05h-2.03zM438.60 69.22h3.04v1.05h-3.04zM446.71 69.22h10.14v1.05h-10.14zM464.97 69.22h2.03v1.05h-2.03zM438.60 70.22h3.04v1.05h-3.04zM442.66 70.22h2.03v1.05h-2.03zM447.73 70.22h2.03v1.05h-2.03zM453.81 70.22h3.04v1.05h-3.04zM457.87 70.22h1.01v1.05h-1.01zM459.90 70.22h1.01v1.05h-1.01zM461.93 70.22h2.03v1.05h-2.03zM465.99 70.22h1.01v1.05h-1.01zM438.60 71.22h6.09v1.05h-6.09zM446.71 71.22h20.29v1.05h-20.29zM438.60 72.22h4.06v1.05h-4.06zM444.69 72.22h2.03v1.05h-2.03zM447.73 72.22h2.03v1.05h-2.03zM450.77 72.22h1.01v1.05h-1.01zM452.80 72.22h1.01v1.05h-1.01zM454.83 72.22h4.06v1.05h-4.06zM460.91 72.22h1.01v1.05h-1.01zM462.94 72.22h4.06v1.05h-4.06zM439.61 73.22h1.01v1.05h-1.01zM447.73 73.22h2.03v1.05h-2.03zM453.81 73.22h3.04v1.05h-3.04zM458.89 73.22h8.11v1.05h-8.11zM438.60 74.23h5.07v1.05h-5.07zM448.74 74.23h7.10v1.05h-7.10zM459.90 74.23h1.01v1.05h-1.01zM461.93 74.23h5.07v1.05h-5.07zM438.60 75.23h6.09v1.05h-6.09zM446.71 75.23h6.09v1.05h-6.09zM455.84 75.23h11.16v1.05h-11.16zM438.60 76.23h5.07v1.05h-5.07zM445.70 76.23h21.30v1.05h-21.30zM438.60 77.23h4.06v1.05h-4.06zM445.70 77.23h12.17v1.05h-12.17zM461.93 77.23h5.07v1.05h-5.07zM438.60 78.23h4.06v1.05h-4.06zM443.67 78.23h1.01v1.05h-1.01zM446.71 78.23h18.26v1.05h-18.26zM439.61 79.24h1.01v1.05h-1.01zM441.64 79.24h1.01v1.05h-1.01zM447.73 79.24h1.01v1.05h-1.01zM450.77 79.24h2.03v1.05h-2.03zM453.81 79.24h1.01v1.05h-1.01zM459.90 79.24h1.01v1.05h-1.01zM463.96 79.24h1.01v1.05h-1.01zM438.60 80.24h3.04v1.05h-3.04zM443.67 80.24h1.01v1.05h-1.01zM450.77 80.24h5.07v1.05h-5.07zM457.87 80.24h1.01v1.05h-1.01zM459.90 80.24h1.01v1.05h-1.01zM461.93 80.24h2.03v1.05h-2.03zM464.97 80.24h2.03v1.05h-2.03zM438.60 81.24h2.03v1.05h-2.03zM445.70 81.24h1.01v1.05h-1.01zM451.79 81.24h5.07v1.05h-5.07zM459.90 81.24h1.01v1.05h-1.01zM461.93 81.24h4.06v1.05h-4.06zM438.60 82.24h3.04v1.05h-3.04zM446.71 82.24h1.01v1.05h-1.01zM450.77 82.24h4.06v1.05h-4.06zM456.86 82.24h1.01v1.05h-1.01zM458.89 82.24h8.11v1.05h-8.11zM438.60 83.24h2.03v1.05h-2.03zM443.67 83.24h1.01v1.05h-1.01zM446.71 83.24h1.01v1.05h-1.01zM449.76 83.24h4.06v1.05h-4.06zM454.83 83.24h2.03v1.05h-2.03zM457.87 83.24h2.03v1.05h-2.03zM460.91 83.24h2.03v1.05h-2.03zM465.99 83.24h1.01v1.05h-1.01zM438.60 84.24h2.03v1.05h-2.03zM444.69 84.24h2.03v1.05h-2.03zM447.73 84.24h4.06v1.05h-4.06zM454.83 84.24h4.06v1.05h-4.06zM459.90 84.24h1.01v1.05h-1.01zM461.93 84.24h3.04v1.05h-3.04zM465.99 84.24h1.01v1.05h-1.01zM438.60 85.25h6.09v1.05h-6.09zM451.79 85.25h9.13v1.05h-9.13zM438.60 86.25h5.07v1.05h-5.07zM444.69 86.25h1.01v1.05h-1.01zM451.79 86.25h6.09v1.05h-6.09zM438.60 87.25h3.04v1.05h-3.04zM444.69 87.25h1.01v1.05h-1.01zM451.79 87.25h7.10v1.05h-7.10zM438.60 88.25h1.01v1.05h-1.01zM441.64 88.25h2.03v1.05h-2.03zM451.79 88.25h2.03v1.05h-2.03zM454.83 88.25h1.01v1.05h-1.01zM457.87 88.25h2.03v1.05h-2.03zM438.60 89.25h5.07v1.05h-5.07zM451.79 89.25h7.10v1.05h-7.10zM438.60 90.25h4.06v1.05h-4.06zM452.80 90.25h8.11v1.05h-8.11zM438.60 91.26h5.07v1.05h-5.07zM451.79 91.26h4.06v1.05h-4.06zM459.90 91.26h1.01v1.05h-1.01zM441.64 92.26h4.06v1.05h-4.06zM452.80 92.26h2.03v1.05h-2.03zM456.86 92.26h2.03v1.05h-2.03zM438.60 93.26h5.07v1.05h-5.07zM444.69 93.26h1.01v1.05h-1.01zM451.79 93.26h8.11v1.05h-8.11zM438.60 94.26h6.09v1.05h-6.09zM451.79 94.26h7.10v1.05h-7.10zM459.90 94.26h1.01v1.05h-1.01zM438.60 95.26h5.07v1.05h-5.07zM451.79 95.26h3.04v1.05h-3.04zM458.89 95.26h2.03v1.05h-2.03zM438.60 96.26h3.04v1.05h-3.04zM442.66 96.26h2.03v1.05h-2.03zM451.79 96.26h5.07v1.05h-5.07zM457.87 96.26h1.01v1.05h-1.01zM438.60 97.27h8.11v1.05h-8.11zM448.74 97.27h14.20v1.05h-14.20zM438.60 98.27h3.04v1.05h-3.04zM446.71 98.27h9.13v1.05h-9.13zM457.87 98.27h1.01v1.05h-1.01zM462.94 98.27h1.01v1.05h-1.01zM438.60 99.27h1.01v1.05h-1.01zM440.63 99.27h2.03v1.05h-2.03zM443.67 99.27h2.03v1.05h-2.03zM450.77 99.27h12.17v1.05h-12.17zM438.60 100.27h12.17v1.05h-12.17zM451.79 100.27h9.13v1.05h-9.13zM462.94 100.27h2.03v1.05h-2.03zM465.99 100.27h1.01v1.05h-1.01zM438.60 101.27h1.01v1.05h-1.01zM443.67 101.27h7.10v1.05h-7.10zM451.79 101.27h1.01v1.05h-1.01zM454.83 101.27h1.01v1.05h-1.01zM459.90 101.27h3.04v1.05h-3.04zM465.99 101.27h1.01v1.05h-1.01zM438.60 102.28h1.01v1.05h-1.01zM443.67 102.28h1.01v1.05h-1.01zM448.74 102.28h8.11v1.05h-8.11zM458.89 102.28h1.01v1.05h-1.01zM461.93 102.28h1.01v1.05h-1.01zM464.97 102.28h2.03v1.05h-2.03zM438.60 103.28h11.16v1.05h-11.16zM451.79 103.28h8.11v1.05h-8.11zM464.97 103.28h2.03v1.05h-2.03zM438.60 104.28h4.06v1.05h-4.06zM443.67 104.28h4.06v1.05h-4.06zM448.74 104.28h1.01v1.05h-1.01zM450.77 104.28h1.01v1.05h-1.01zM453.81 104.28h5.07v1.05h-5.07zM462.94 104.28h2.03v1.05h-2.03zM465.99 104.28h1.01v1.05h-1.01zM438.60 105.28h1.01v1.05h-1.01zM440.63 105.28h1.01v1.05h-1.01zM442.66 105.28h3.04v1.05h-3.04zM446.71 105.28h3.04v1.05h-3.04zM450.77 105.28h4.06v1.05h-4.06zM455.84 105.28h3.04v1.05h-3.04zM463.96 105.28h2.03v1.05h-2.03zM438.60 106.28h8.11v1.05h-8.11zM448.74 106.28h1.01v1.05h-1.01zM451.79 106.28h1.01v1.05h-1.01zM453.81 106.28h4.06v1.05h-4.06zM462.94 106.28h4.06v1.05h-4.06zM439.61 107.28h1.01v1.05h-1.01zM441.64 107.28h1.01v1.05h-1.01zM443.67 107.28h1.01v1.05h-1.01zM446.71 107.28h5.07v1.05h-5.07zM452.80 107.28h4.06v1.05h-4.06zM462.94 107.28h3.04v1.05h-3.04zM438.60 108.29h18.26v1.05h-18.26zM461.93 108.29h5.07v1.05h-5.07zM439.61 109.29h6.09v1.05h-6.09zM447.73 109.29h9.13v1.05h-9.13zM461.93 109.29h5.07v1.05h-5.07zM438.60 110.29h1.01v1.05h-1.01zM442.66 110.29h13.19v1.05h-13.19zM460.91 110.29h6.09v1.05h-6.09zM438.60 111.29h3.04v1.05h-3.04zM443.67 111.29h12.17v1.05h-12.17zM461.93 111.29h1.01v1.05h-1.01zM463.96 111.29h2.03v1.05h-2.03zM438.60 112.29h6.09v1.05h-6.09zM445.70 112.29h9.13v1.05h-9.13zM455.84 112.29h3.04v1.05h-3.04zM459.90 112.29h7.10v1.05h-7.10zM439.61 113.29h15.21v1.05h-15.21zM455.84 113.29h1.01v1.05h-1.01zM458.89 113.29h5.07v1.05h-5.07zM464.97 113.29h2.03v1.05h-2.03zM439.61 114.30h1.01v1.05h-1.01zM443.67 114.30h3.04v1.05h-3.04zM448.74 114.30h1.01v1.05h-1.01zM450.77 114.30h2.03v1.05h-2.03zM456.86 114.30h1.01v1.05h-1.01zM459.90 114.30h6.09v1.05h-6.09zM438.60 115.30h2.03v1.05h-2.03zM442.66 115.30h2.03v1.05h-2.03zM449.76 115.30h2.03v1.05h-2.03zM458.89 115.30h5.07v1.05h-5.07zM465.99 115.30h1.01v1.05h-1.01z"/>
<path fill="#414487" d="M440.63 59.20h1.01v1.05h-1.01zM445.70 59.20h1.01v1.05h-1.01zM440.63 61.20h1.01v1.05h-1.01zM445.70 61.20h1.01v1.05h-1.01zM451.79 61.20h1.01v1.05h-1.01zM460.91 61.20h1.01v1.05h-1.01zM463.96 61.20h2.03v1.05h-2.03zM440.63 63.21h2.03v1.05h-2.03zM447.73 63.21h3.04v1.05h-3.04zM454.83 63.21h1.01v1.05h-1.01zM457.87 63.21h3.04v1.05h-3.04zM464.97 63.21h2.03v1.05h-2.03zM456.86 64.21h3.04v1.05h-3.04zM438.60 65.21h1.01v1.05h-1.01zM445.70 65.21h1.01v1.05h-1.01zM449.76 65.21h1.01v1.05h-1.01zM451.79 65.21h1.01v1.05h-1.01zM456.86 65.21h1.01v1.05h-1.01zM458.89 65.21h1.01v1.05h-1.01zM461.93 65.21h2.03v1.05h-2.03zM442.66 66.21h4.06v1.05h-4.06zM449.76 66.21h2.03v1.05h-2.03zM452.80 66.21h1.01v1.05h-1.01zM456.86 66.21h5.07v1.05h-5.07zM462.94 66.21h1.01v1.05h-1.01zM465.99 66.21h1.01v1.05h-1.01zM442.66 67.21h1.01v1.05h-1.01zM448.74 67.21h2.03v1.05h-2.03zM453.81 67.21h1.01v1.05h-1.01zM455.84 67.21h2.03v1.05h-2.03zM459.90 67.21h1.01v1.05h-1.01zM462.94 67.21h1.01v1.05h-1.01zM464.97 67.21h2.03v1.05h-2.03zM438.60 68.22h1.01v1.05h-1.01zM440.63 68.22h1.01v1.05h-1.01zM444.69 68.22h2.03v1.05h-2.03zM450.77 68.22h1.01v1.05h-1.01zM452.80 68.22h4.06v1.05h-4.06zM460.91 68.22h1.01v1.05h-1.01zM463.96 68.22h1.01v1.05h-1.01zM459.90 69.22h2.03v1.05h-2.03zM441.64 70.22h1.01v1.05h-1.01zM446.71 70.22h1.01v1.05h-1.01zM449.76 70.22h1.01v1.05h-1.01zM451.79 70.22h2.03v1.05h-2.03zM456.86 70.22h1.01v1.05h-1.01zM458.89 70.22h1.01v1.05h-1.01zM460.91 70.22h1.01v1.05h-1.01zM463.96 70.22h2.03v1.05h-2.03zM442.66 72.22h2.03v1.05h-2.03zM449.76 72.22h1.01v1.05h-1.01zM451.79 72.22h1.01v1.05h-1.01zM453.81 72.22h1.01v1.05h-1.01zM458.89 72.22h2.03v1.05h-2.03zM461.93 72.22h1.01v1.05h-1.01zM438.60 73.22h1.01v1.05h-1.01zM442.66 73.22h1.01v1.05h-1.01zM446.71 73.22h1.01v1.05h-1.01zM449.76 73.22h2.03v1.05h-2.03zM452.80 73.22h1.01v1.05h-1.01zM446.71 74.23h1.01v1.05h-1.01zM455.84 74.23h1.01v1.05h-1.01zM438.60 79.24h1.01v1.05h-1.01zM440.63 79.24h1.01v1.05h-1.01zM449.76 79.24h1.01v1.05h-1.01zM452.80 79.24h1.01v1.05h-1.01zM454.83 79.24h1.01v1.05h-1.01zM462.94 79.24h1.01v1.05h-1.01zM464.97 79.24h2.03v1.05h-2.03zM456.86 80.24h1.01v1.05h-1.01zM463.96 80.24h1.01v1.05h-1.01zM450.77 81.24h1.01v1.05h-1.01zM460.91 81.24h1.01v1.05h-1.01zM465.99 81.24h1.01v1.05h-1.01zM454.83 82.24h2.03v1.05h-2.03zM457.87 82.24h1.01v1.05h-1.01zM464.97 83.24h1.01v1.05h-1.01zM443.67 84.24h1.01v1.05h-1.01zM446.71 84.24h1.01v1.05h-1.01zM451.79 84.24h3.04v1.05h-3.04zM458.89 84.24h1.01v1.05h-1.01zM460.91 84.24h1.01v1.05h-1.01zM464.97 84.24h1.01v1.05h-1.01zM444.69 85.25h2.03v1.05h-2.03zM443.67 86.25h1.01v1.05h-1.01zM445.70 86.25h1.01v1.05h-1.01zM457.87 86.25h3.04v1.05h-3.04zM441.64 87.25h3.04v1.05h-3.04zM458.89 87.25h2.03v1.05h-2.03zM439.61 88.25h2.03v1.05h-2.03zM443.67 88.25h2.03v1.05h-2.03zM453.81 88.25h1.01v1.05h-1.01zM455.84 88.25h2.03v1.05h-2.03zM459.90 88.25h1.01v1.05h-1.01zM461.93 88.25h1.01v1.05h-1.01zM443.67 89.25h3.04v1.05h-3.04zM458.89 89.25h4.06v1.05h-4.06zM442.66 90.25h4.06v1.05h-4.06zM451.79 90.25h1.01v1.05h-1.01zM460.91 90.25h2.03v1.05h-2.03zM443.67 91.26h2.03v1.05h-2.03zM458.89 91.26h1.01v1.05h-1.01zM445.70 92.26h1.01v1.05h-1.01zM451.79 92.26h1.01v1.05h-1.01zM454.83 92.26h2.03v1.05h-2.03zM458.89 92.26h3.04v1.05h-3.04zM443.67 93.26h1.01v1.05h-1.01zM444.69 94.26h1.01v1.05h-1.01zM458.89 94.26h1.01v1.05h-1.01zM461.93 94.26h1.01v1.05h-1.01zM443.67 95.26h2.03v1.05h-2.03zM457.87 95.26h1.01v1.05h-1.01zM441.64 96.26h1.01v1.05h-1.01zM444.69 96.26h1.01v1.05h-1.01zM456.86 96.26h1.01v1.05h-1.01zM458.89 96.26h1.01v1.05h-1.01zM458.89 98.27h1.01v1.05h-1.01zM439.61 99.27h1.01v1.05h-1.01zM442.66 99.27h1.01v1.05h-1.01zM449.76 99.27h1.01v1.05h-1.01zM465.99 99.27h1.01v1.05h-1.01zM450.77 100.27h1.01v1.05h-1.01zM461.93 100.27h1.01v1.05h-1.01zM439.61 101.27h4.06v1.05h-4.06zM450.77 101.27h1.01v1.05h-1.01zM452.80 101.27h2.03v1.05h-2.03zM458.89 101.27h1.01v1.05h-1.01zM442.66 104.28h1.01v1.05h-1.01zM447.73 104.28h1.01v1.05h-1.01zM449.76 104.28h1.01v1.05h-1.01zM451.79 104.28h2.03v1.05h-2.03zM464.97 104.28h1.01v1.05h-1.01zM439.61 105.28h1.01v1.05h-1.01zM441.64 105.28h1.01v1.05h-1.01zM445.70 105.28h1.01v1.05h-1.01zM449.76 105.28h1.01v1.05h-1.01zM454.83 105.28h1.01v1.05h-1.01zM465.99 105.28h1.01v1.05h-1.01zM446.71 106.28h2.03v1.05h-2.03zM450.77 106.28h1.01v1.05h-1.01zM452.80 106.28h1.01v1.05h-1.01zM438.60 107.28h1.01v1.05h-1.01zM440.63 107.28h1.01v1.05h-1.01zM442.66 107.28h1.01v1.05h-1.01zM444.69 107.28h2.03v1.05h-2.03zM451.79 107.28h1.01v1.05h-1.01zM456.86 107.28h1.01v1.05h-1.01zM465.99 107.28h1.01v1.05h-1.01zM438.60 109.29h1.01v1.05h-1.01zM445.70 109.29h2.03v1.05h-2.03zM457.87 109.29h1.01v1.05h-1.01zM442.66 111.29h1.01v1.05h-1.01zM460.91 111.29h1.01v1.05h-1.01zM462.94 111.29h1.01v1.05h-1.01zM465.99 111.29h1.01v1.05h-1.01zM444.69 112.29h1.01v1.05h-1.01zM438.60 113.29h1.01v1.05h-1.01zM463.96 113.29h1.01v1.05h-1.01zM438.60 114.30h1.01v1.05h-1.01zM446.71 114.30h2.03v1.05h-2.03zM449.76 114.30h1.01v1.05h-1.01zM452.80 114.30h1.01v1.05h-1.01zM457.87 114.30h2.03v1.05h-2.03zM465.99 114.30h1.01v1.05h-1.01zM440.63 115.30h2.03v1.05h-2.03zM444.69 115.30h1.01v1.05h-1.01zM448.74 115.30h1.01v1.05h-1.01zM451.79 115.30h2.03v1.05h-2.03z"/>
<path fill="#355f8d" d="M438.60 61.20h2.03v1.05h-2.03zM441.64 61.20h2.03v1.05h-2.03zM455.84 63.21h2.03v1.05h-2.03zM459.90 64.21h2.03v1.05h-2.03zM461.93 69.22h3.04v1.05h-3.04zM450.77 70.22h1.01v1.05h-1.01zM451.79 73.22h1.01v1.05h-1.01zM447.73 74.23h1.01v1.05h-1.01zM456.86 74.23h3.04v1.05h-3.04zM457.87 77.23h4.06v1.05h-4.06zM462.94 83.24h2.03v1.05h-2.03zM446.71 85.25h1.01v1.05h-1.01zM460.91 85.25h1.01v1.05h-1.01zM460.91 86.25h2.03v1.05h-2.03zM445.70 87.25h2.03v1.05h-2.03zM460.91 87.25h1.01v1.05h-1.01zM445.70 88.25h2.03v1.05h-2.03zM460.91 88.25h1.01v1.05h-1.01zM462.94 88.25h2.03v1.05h-2.03zM446.71 89.25h1.01v1.05h-1.01zM462.94 89.25h1.01v1.05h-1.01zM445.70 91.26h2.03v1.05h-2.03zM460.91 91.26h1.01v1.05h-1.01zM462.94 91.26h1.01v1.05h-1.01zM459.90 93.26h4.06v1.05h-4.06zM445.70 94.26h2.03v1.05h-2.03zM460.91 94.26h1.01v1.05h-1.01zM462.94 94.26h1.01v1.05h-1.01zM445.70 95.26h1.01v1.05h-1.01zM447.73 95.26h1.01v1.05h-1.01zM460.91 95.26h1.01v1.05h-1.01zM462.94 95.26h1.01v1.05h-1.01zM445.70 96.26h3.04v1.05h-3.04zM459.90 96.26h4.06v1.05h-4.06zM446.71 97.27h2.03v1.05h-2.03zM459.90 98.27h2.03v1.05h-2.03zM439.61 102.28h2.03v1.05h-2.03zM442.66 102.28h1.01v1.05h-1.01zM444.69 102.28h4.06v1.05h-4.06z"/>
<path fill="#2a788e" d="M444.69 67.21h2.03v1.05h-2.03zM444.69 70.22h2.03v1.05h-2.03zM452.80 75.23h3.04v1.05h-3.04zM461.93 85.25h3.04v1.05h-3.04zM446.71 86.25h2.03v1.05h-2.03zM463.96 86.25h1.01v1.05h-1.01zM447.73 87.25h1.01v1.05h-1.01zM461.93 87.25h3.04v1.05h-3.04zM447.73 88.25h2.03v1.05h-2.03zM463.96 89.25h1.01v1.05h-1.01zM446.71 90.25h1.01v1.05h-1.01zM462.94 90.25h1.01v1.05h-1.01zM447.73 91.26h1.01v1.05h-1.01zM461.93 91.26h1.01v1.05h-1.01zM463.96 91.26h1.01v1.05h-1.01zM446.71 92.26h2.03v1.05h-2.03zM461.93 92.26h3.04v1.05h-3.04zM464.97 93.26h1.01v1.05h-1.01zM447.73 94.26h1.01v1.05h-1.01zM446.71 95.26h1.01v1.05h-1.01zM461.93 95.26h1.01v1.05h-1.01zM463.96 95.26h2.03v1.05h-2.03zM464.97 96.26h1.01v1.05h-1.01zM443.67 98.27h3.04v1.05h-3.04zM445.70 99.27h2.03v1.05h-2.03zM441.64 102.28h1.01v1.05h-1.01zM449.76 106.28h1.01v1.05h-1.01zM439.61 110.29h3.04v1.05h-3.04zM441.64 111.29h1.01v1.05h-1.01z"/>
<path fill="#21918c" d="M458.89 61.20h1.01v1.05h-1.01zM460.91 74.23h1.01v1.05h-1.01zM445.70 78.23h1.01v1.05h-1.01zM455.84 79.24h1.01v1.05h-1.01zM460.91 79.24h2.03v1.05h-2.03zM460.91 80.24h1.01v1.05h-1.01zM448.74 83.24h1.01v1.05h-1.01zM447.73 85.25h2.03v1.05h-2.03zM464.97 85.25h1.01v1.05h-1.01zM448.74 86.25h1.01v1.05h-1.01zM462.94 86.25h1.01v1.05h-1.01zM464.97 86.25h1.01v1.05h-1.01zM464.97 87.25h1.01v1.05h-1.01zM464.97 88.25h1.01v1.05h-1.01zM447.73 89.25h1.01v1.05h-1.01zM447.73 90.25h3.04v1.05h-3.04zM463.96 90.25h2.03v1.05h-2.03zM465.99 91.26h1.01v1.05h-1.01zM447.73 93.26h3.04v1.05h-3.04zM463.96 93.26h1.01v1.05h-1.01zM463.96 94.26h1.01v1.05h-1.01zM463.96 96.26h1.01v1.05h-1.01zM449.76 103.28h2.03v1.05h-2.03zM463.96 103.28h1.01v1.05h-1.01zM462.94 105.28h1.01v1.05h-1.01zM458.89 108.29h1.01v1.05h-1.01zM455.84 110.29h1.01v1.05h-1.01zM454.83 113.29h1.01v1.05h-1.01zM440.63 114.30h3.04v1.05h-3.04zM454.83 114.30h1.01v1.05h-1.01zM445.70 115.30h3.04v1.05h-3.04z"/>
<path fill="#22a884" d="M463.96 60.20h3.04v1.05h-3.04zM460.91 63.21h3.04v1.05h-3.04zM459.90 65.21h2.03v1.05h-2.03zM446.71 66.21h1.01v1.05h-1.01zM446.71 67.21h1.01v1.05h-1.01zM441.64 69.22h3.04v1.05h-3.04zM445.70 69.22h1.01v1.05h-1.01zM446.71 72.22h1.01v1.05h-1.01zM443.67 73.22h1.01v1.05h-1.01zM445.70 73.22h1.01v1.05h-1.01zM443.67 74.23h1.01v1.05h-1.01zM445.70 74.23h1.01v1.05h-1.01zM445.70 75.23h1.01v1.05h-1.01zM442.66 78.23h1.01v1.05h-1.01zM456.86 79.24h1.01v1.05h-1.01zM458.89 79.24h1.01v1.05h-1.01zM441.64 80.24h1.01v1.05h-1.01zM449.76 80.24h1.01v1.05h-1.01zM440.63 81.24h1.01v1.05h-1.01zM456.86 81.24h1.01v1.05h-1.01zM441.64 82.24h1.01v1.05h-1.01zM449.76 82.24h1.01v1.05h-1.01zM459.90 83.24h1.01v1.05h-1.01zM440.63 84.24h1.01v1.05h-1.01zM465.99 85.25h1.01v1.05h-1.01zM448.74 87.25h1.01v1.05h-1.01zM449.76 88.25h1.01v1.05h-1.01zM448.74 89.25h2.03v1.05h-2.03zM464.97 89.25h2.03v1.05h-2.03zM465.99 90.25h1.01v1.05h-1.01zM448.74 91.26h1.01v1.05h-1.01zM464.97 91.26h1.01v1.05h-1.01zM448.74 92.26h1.01v1.05h-1.01zM464.97 92.26h1.01v1.05h-1.01zM465.99 93.26h1.01v1.05h-1.01zM448.74 94.26h1.01v1.05h-1.01zM464.97 94.26h2.03v1.05h-2.03zM448.74 95.26h1.01v1.05h-1.01zM465.99 95.26h1.01v1.05h-1.01zM448.74 96.26h1.01v1.05h-1.01zM465.99 97.27h1.01v1.05h-1.01zM441.64 98.27h2.03v1.05h-2.03zM461.93 98.27h1.01v1.05h-1.01zM465.99 98.27h1.01v1.05h-1.01zM447.73 99.27h2.03v1.05h-2.03zM464.97 99.27h1.01v1.05h-1.01zM455.84 101.27h3.04v1.05h-3.04zM462.94 101.27h2.03v1.05h-2.03zM459.90 103.28h1.01v1.05h-1.01zM461.93 103.28h1.01v1.05h-1.01zM459.90 104.28h3.04v1.05h-3.04zM458.89 106.28h1.01v1.05h-1.01zM458.89 110.29h1.01v1.05h-1.01zM456.86 113.29h2.03v1.05h-2.03zM453.81 115.30h1.01v1.05h-1.01zM463.96 115.30h2.03v1.05h-2.03z"/>
<path fill="#44bf70" d="M448.74 60.20h2.03v1.05h-2.03zM449.76 62.21h1.01v1.05h-1.01zM446.71 63.21h1.01v1.05h-1.01zM443.67 64.21h3.04v1.05h-3.04zM444.69 71.22h1.01v1.05h-1.01zM442.66 77.23h1.01v1.05h-1.01zM444.69 77.23h1.01v1.05h-1.01zM444.69 78.23h1.01v1.05h-1.01zM464.97 78.23h2.03v1.05h-2.03zM448.74 79.24h1.01v1.05h-1.01zM457.87 79.24h1.01v1.05h-1.01zM449.76 81.24h1.01v1.05h-1.01zM457.87 81.24h2.03v1.05h-2.03zM448.74 82.24h1.01v1.05h-1.01zM447.73 83.24h1.01v1.05h-1.01zM453.81 83.24h1.01v1.05h-1.01zM449.76 85.25h1.01v1.05h-1.01zM449.76 86.25h2.03v1.05h-2.03zM465.99 86.25h1.01v1.05h-1.01zM449.76 87.25h2.03v1.05h-2.03zM465.99 87.25h1.01v1.05h-1.01zM450.77 88.25h1.01v1.05h-1.01zM465.99 88.25h1.01v1.05h-1.01zM449.76 91.26h1.01v1.05h-1.01zM449.76 92.26h2.03v1.05h-2.03zM465.99 92.26h1.01v1.05h-1.01zM449.76 94.26h2.03v1.05h-2.03zM449.76 95.26h1.01v1.05h-1.01zM465.99 96.26h1.01v1.05h-1.01zM455.84 98.27h2.03v1.05h-2.03zM464.97 98.27h1.01v1.05h-1.01zM464.97 100.27h1.01v1.05h-1.01zM456.86 102.28h2.03v1.05h-2.03zM459.90 102.28h2.03v1.05h-2.03zM462.94 102.28h1.01v1.05h-1.01zM460.91 103.28h1.01v1.05h-1.01zM462.94 103.28h1.01v1.05h-1.01zM459.90 105.28h2.03v1.05h-2.03zM457.87 106.28h1.01v1.05h-1.01zM460.91 106.28h2.03v1.05h-2.03zM459.90 107.28h2.03v1.05h-2.03zM459.90 108.29h1.01v1.05h-1.01zM456.86 109.29h1.01v1.05h-1.01zM458.89 109.29h1.01v1.05h-1.01zM455.84 111.29h1.01v1.05h-1.01zM458.89 111.29h1.01v1.05h-1.01zM458.89 112.29h1.01v1.05h-1.01zM455.84 115.30h1.01v1.05h-1.01z"/>
<path fill="#7ad151" d="M446.71 65.21h1.01v1.05h-1.01zM445.70 71.22h1.01v1.05h-1.01zM443.67 76.23h2.03v1.05h-2.03zM443.67 77.23h1.01v1.05h-1.01zM442.66 79.24h4.06v1.05h-4.06zM442.66 80.24h1.01v1.05h-1.01zM447.73 80.24h1.01v1.05h-1.01zM455.84 80.24h1.01v1.05h-1.01zM442.66 81.24h1.01v1.05h-1.01zM442.66 82.24h1.01v1.05h-1.01zM445.70 83.24h1.01v1.05h-1.01zM442.66 84.24h1.01v1.05h-1.01zM450.77 85.25h1.01v1.05h-1.01zM450.77 90.25h1.01v1.05h-1.01zM450.77 91.26h1.01v1.05h-1.01zM450.77 93.26h1.01v1.05h-1.01zM462.94 97.27h3.04v1.05h-3.04zM462.94 99.27h1.01v1.05h-1.01zM460.91 100.27h1.01v1.05h-1.01zM458.89 104.28h1.01v1.05h-1.01zM458.89 105.28h1.01v1.05h-1.01zM461.93 105.28h1.01v1.05h-1.01zM459.90 106.28h1.01v1.05h-1.01zM456.86 108.29h1.01v1.05h-1.01zM456.86 110.29h1.01v1.05h-1.01zM456.86 111.29h2.03v1.05h-2.03zM459.90 111.29h1.01v1.05h-1.01zM454.83 112.29h1.01v1.05h-1.01zM453.81 114.30h1.01v1.05h-1.01zM454.83 115.30h1.01v1.05h-1.01zM456.86 115.30h1.01v1.05h-1.01z"/>
<path fill="#bddf26" d="M448.74 62.21h1.01v1.05h-1.01zM440.63 64.21h3.04v1.05h-3.04zM448.74 64.21h1.01v1.05h-1.01zM447.73 67.21h1.01v1.05h-1.01zM441.64 68.22h2.03v1.05h-2.03zM456.86 69.22h3.04v1.05h-3.04zM444.69 73.22h1.01v1.05h-1.01zM456.86 73.22h2.03v1.05h-2.03zM444.69 75.23h1.01v1.05h-1.01zM446.71 79.24h1.01v1.05h-1.01zM446.71 80.24h1.01v1.05h-1.01zM448.74 80.24h1.01v1.05h-1.01zM458.89 80.24h1.01v1.05h-1.01zM441.64 81.24h1.01v1.05h-1.01zM443.67 81.24h1.01v1.05h-1.01zM446.71 81.24h3.04v1.05h-3.04zM444.69 82.24h2.03v1.05h-2.03zM441.64 83.24h2.03v1.05h-2.03zM444.69 83.24h1.01v1.05h-1.01zM441.64 84.24h1.01v1.05h-1.01zM450.77 89.25h1.01v1.05h-1.01zM455.84 91.26h3.04v1.05h-3.04zM438.60 92.26h3.04v1.05h-3.04zM450.77 95.26h1.01v1.05h-1.01zM454.83 95.26h1.01v1.05h-1.01zM463.96 98.27h1.01v1.05h-1.01zM463.96 99.27h1.01v1.05h-1.01zM464.97 101.27h1.01v1.05h-1.01zM463.96 102.28h1.01v1.05h-1.01zM461.93 107.28h1.01v1.05h-1.01zM460.91 108.29h1.01v1.05h-1.01zM459.90 109.29h2.03v1.05h-2.03zM457.87 110.29h1.01v1.05h-1.01zM459.90 110.29h1.01v1.05h-1.01zM455.84 114.30h1.01v1.05h-1.01zM457.87 115.30h1.01v1.05h-1.01z"/>
<path fill="#fde725" d="M440.63 73.22h2.03v1.05h-2.03zM444.69 74.23h1.01v1.05h-1.01zM444.69 80.24h2.03v1.05h-2.03zM443.67 82.24h1.01v1.05h-1.01zM447.73 82.24h1.01v1.05h-1.01zM440.63 83.24h1.01v1.05h-1.01zM445.70 93.26h2.03v1.05h-2.03zM455.84 95.26h2.03v1.05h-2.03zM449.76 96.26h2.03v1.05h-2.03zM457.87 107.28h2.03v1.05h-2.03zM457.87 108.29h1.01v1.05h-1.01z"/>
<path fill="#ffffff" d="M444.69 81.24h1.01v1.05h-1.01z"/>
<path fill="#440154" d="M488.62 60.20h0.99v1.05h-0.99zM480.68 63.21h0.99v1.05h-0.99zM488.62 63.21h0.99v1.05h-0.99zM501.53 82.24h0.99v1.05h-0.99zM486.64 85.25h0.99v1.05h-0.99zM493.59 85.25h0.99v1.05h-0.99zM489.62 91.26h0.99v1.05h-0.99zM492.60 91.26h0.99v1.05h-0.99zM477.70 106.28h0.99v1.05h-0.99zM499.55 111.29h0.99v1.05h-0.99zM485.64 115.30h0.99v1.05h-0.99z"/>
<path fill="#482475" d="M477.70 59.20h6.95v1.05h-6.95zM486.64 59.20h19.86v1.05h-19.86zM477.70 60.20h6.95v1.05h-6.95zM486.64 60.20h1.99v1.05h-1.99zM489.62 60.20h16.88v1.05h-16.88zM477.70 61.20h6.95v1.05h-6.95zM486.64 61.20h3.97v1.05h-3.97zM491.60 61.20h0.99v1.05h-0.99zM494.58 61.20h2.98v1.05h-2.98zM498.56 61.20h7.94v1.05h-7.94zM477.70 62.21h5.96v1.05h-5.96zM486.64 62.21h8.94v1.05h-8.94zM496.57 62.21h9.93v1.05h-9.93zM477.70 63.21h2.98v1.05h-2.98zM481.67 63.21h4.97v1.05h-4.97zM487.63 63.21h0.99v1.05h-0.99zM489.62 63.21h12.91v1.05h-12.91zM477.70 64.21h0.99v1.05h-0.99zM479.69 64.21h6.95v1.05h-6.95zM487.63 64.21h1.99v1.05h-1.99zM490.61 64.21h3.97v1.05h-3.97zM496.57 64.21h8.94v1.05h-8.94zM478.69 65.21h0.99v1.05h-0.99zM480.68 65.21h4.97v1.05h-4.97zM486.64 65.21h1.99v1.05h-1.99zM489.62 65.21h3.97v1.05h-3.97zM496.57 65.21h9.93v1.05h-9.93zM477.70 66.21h8.94v1.05h-8.94zM487.63 66.21h13.90v1.05h-13.90zM502.53 66.21h3.97v1.05h-3.97zM477.70 67.21h1.99v1.05h-1.99zM480.68 67.21h0.99v1.05h-0.99zM482.67 67.21h0.99v1.05h-0.99zM484.65 67.21h0.99v1.05h-0.99zM487.63 67.21h0.99v1.05h-0.99zM489.62 67.21h0.99v1.05h-0.99zM491.60 67.21h2.98v1.05h-2.98zM496.57 67.21h1.99v1.05h-1.99zM501.53 67.21h2.98v1.05h-2.98zM505.51 67.21h0.99v1.05h-0.99zM477.70 68.22h3.97v1.05h-3.97zM482.67 68.22h1.99v1.05h-1.99zM487.63 68.22h3.97v1.05h-3.97zM492.60 68.22h4.97v1.05h-4.97zM499.55 68.22h4.97v1.05h-4.97zM505.51 68.22h0.99v1.05h-0.99zM477.70 69.22h6.95v1.05h-6.95zM485.64 69.22h5.96v1.05h-5.96zM493.59 69.22h8.94v1.05h-8.94zM505.51 69.22h0.99v1.05h-0.99zM477.70 70.22h1.99v1.05h-1.99zM480.68 70.22h3.97v1.05h-3.97zM486.64 70.22h0.99v1.05h-0.99zM488.62 70.22h1.99v1.05h-1.99zM491.60 70.22h0.99v1.05h-0.99zM495.58 70.22h1.99v1.05h-1.99zM498.56 70.22h1.99v1.05h-1.99zM503.52 70.22h0.99v1.05h-0.99zM505.51 70.22h0.99v1.05h-0.99zM477.70 71.22h6.95v1.05h-6.95zM486.64 71.22h19.86v1.05h-19.86zM477.70 72.22h7.94v1.05h-7.94zM492.60 72.22h7.94v1.05h-7.94zM502.53 72.22h3.97v1.05h-3.97zM477.70 73.22h0.99v1.05h-0.99zM480.68 73.22h3.97v1.05h-3.97zM485.64 73.22h3.97v1.05h-3.97zM492.60 73.22h0.99v1.05h-0.99zM496.57 73.22h7.94v1.05h-7.94zM505.51 73.22h0.99v1.05h-0.99zM477.70 74.23h3.97v1.05h-3.97zM488.62 74.23h1.99v1.05h-1.99zM491.60 74.23h4.97v1.05h-4.97zM497.56 74.23h4.97v1.05h-4.97zM477.70 75.23h2.98v1.05h-2.98zM483.66 75.23h0.99v1.05h-0.99zM485.64 75.23h20.86v1.05h-20.86zM477.70 76.23h4.97v1.05h-4.97zM484.65 76.23h21.85v1.05h-21.85zM477.70 77.23h2.98v1.05h-2.98zM481.67 77.23h0.99v1.05h-0.99zM484.65 77.23h14.90v1.05h-14.90zM500.54 77.23h0.99v1.05h-0.99zM477.70 78.23h1.99v1.05h-1.99zM480.68 78.23h3.97v1.05h-3.97zM485.64 78.23h1.99v1.05h-1.99zM490.61 78.23h11.92v1.05h-11.92zM503.52 78.23h2.98v1.05h-2.98zM477.70 79.24h1.99v1.05h-1.99zM487.63 79.24h2.98v1.05h-2.98zM491.60 79.24h0.99v1.05h-0.99zM496.57 79.24h2.98v1.05h-2.98zM500.54 79.24h0.99v1.05h-0.99zM503.52 79.24h0.99v1.05h-0.99zM505.51 79.24h0.99v1.05h-0.99zM477.70 80.24h0.99v1.05h-0.99zM481.67 80.24h1.99v1.05h-1.99zM484.65 80.24h20.86v1.05h-20.86zM477.70 81.24h5.96v1.05h-5.96zM484.65 81.24h3.97v1.05h-3.97zM489.62 81.24h10.92v1.05h-10.92zM501.53 81.24h1.99v1.05h-1.99zM504.51 81.24h1.99v1.05h-1.99zM477.70 82.24h6.95v1.05h-6.95zM486.64 82.24h1.99v1.05h-1.99zM489.62 82.24h9.93v1.05h-9.93zM502.53 82.24h3.97v1.05h-3.97zM480.68 83.24h1.99v1.05h-1.99zM483.66 83.24h0.99v1.05h-0.99zM485.64 83.24h1.99v1.05h-1.99zM488.62 83.24h3.97v1.05h-3.97zM493.59 83.24h0.99v1.05h-0.99zM495.58 83.24h0.99v1.05h-0.99zM497.56 83.24h0.99v1.05h-0.99zM499.55 83.24h0.99v1.05h-0.99zM501.53 83.24h1.99v1.05h-1.99zM505.51 83.24h0.99v1.05h-0.99zM477.70 84.24h6.95v1.05h-6.95zM486.64 84.24h0.99v1.05h-0.99zM488.62 84.24h12.91v1.05h-12.91zM502.53 84.24h3.97v1.05h-3.97zM477.70 85.25h5.96v1.05h-5.96zM487.63 85.25h5.96v1.05h-5.96zM495.58 85.25h10.92v1.05h-10.92zM477.70 86.25h2.98v1.05h-2.98zM487.63 86.25h15.89v1.05h-15.89zM504.51 86.25h1.99v1.05h-1.99zM477.70 87.25h4.97v1.05h-4.97zM487.63 87.25h5.96v1.05h-5.96zM494.58 87.25h2.98v1.05h-2.98zM498.56 87.25h0.99v1.05h-0.99zM502.53 87.25h0.99v1.05h-0.99zM504.51 87.25h1.99v1.05h-1.99zM477.70 88.25h4.97v1.05h-4.97zM483.66 88.25h0.99v1.05h-0.99zM487.63 88.25h18.87v1.05h-18.87zM480.68 89.25h0.99v1.05h-0.99zM482.67 89.25h0.99v1.05h-0.99zM484.65 89.25h0.99v1.05h-0.99zM487.63 89.25h4.97v1.05h-4.97zM493.59 89.25h0.99v1.05h-0.99zM495.58 89.25h2.98v1.05h-2.98zM499.55 89.25h2.98v1.05h-2.98zM503.52 89.25h0.99v1.05h-0.99zM505.51 89.25h0.99v1.05h-0.99zM477.70 90.25h6.95v1.05h-6.95zM487.63 90.25h14.90v1.05h-14.90zM505.51 90.25h0.99v1.05h-0.99zM477.70 91.26h4.97v1.05h-4.97zM484.65 91.26h0.99v1.05h-0.99zM488.62 91.26h0.99v1.05h-0.99zM490.61 91.26h1.99v1.05h-1.99zM493.59 91.26h12.91v1.05h-12.91zM477.70 92.26h0.99v1.05h-0.99zM480.68 92.26h1.99v1.05h-1.99zM483.66 92.26h1.99v1.05h-1.99zM487.63 92.26h12.91v1.05h-12.91zM504.51 92.26h1.99v1.05h-1.99zM478.69 93.26h1.99v1.05h-1.99zM481.67 93.26h4.97v1.05h-4.97zM487.63 93.26h9.93v1.05h-9.93zM498.56 93.26h7.94v1.05h-7.94zM477.70 94.26h6.95v1.05h-6.95zM486.64 94.26h4.97v1.05h-4.97zM494.58 94.26h11.92v1.05h-11.92zM478.69 95.26h1.99v1.05h-1.99zM482.67 95.26h0.99v1.05h-0.99zM488.62 95.26h7.94v1.05h-7.94zM497.56 95.26h3.97v1.05h-3.97zM502.53 95.26h3.97v1.05h-3.97zM477.70 96.26h4.97v1.05h-4.97zM488.62 96.26h17.88v1.05h-17.88zM477.70 97.27h0.99v1.05h-0.99zM479.69 97.27h3.97v1.05h-3.97zM490.61 97.27h8.94v1.05h-8.94zM501.53 97.27h4.97v1.05h-4.97zM477.70 98.27h5.96v1.05h-5.96zM486.64 98.27h0.99v1.05h-0.99zM494.58 98.27h6.95v1.05h-6.95zM502.53 98.27h3.97v1.05h-3.97zM477.70 99.27h28.80v1.05h-28.80zM477.70 100.27h0.99v1.05h-0.99zM477.70 101.27h0.99v1.05h-0.99zM480.68 101.27h0.99v1.05h-0.99zM483.66 101.27h6.95v1.05h-6.95zM491.60 101.27h1.99v1.05h-1.99zM495.58 101.27h0.99v1.05h-0.99zM502.53 101.27h2.98v1.05h-2.98zM477.70 102.28h9.93v1.05h-9.93zM491.60 102.28h14.90v1.05h-14.90zM477.70 103.28h5.96v1.05h-5.96zM489.62 103.28h16.88v1.05h-16.88zM477.70 104.28h2.98v1.05h-2.98zM481.67 104.28h2.98v1.05h-2.98zM486.64 104.28h1.99v1.05h-1.99zM490.61 104.28h0.99v1.05h-0.99zM493.59 104.28h1.99v1.05h-1.99zM497.56 104.28h2.98v1.05h-2.98zM505.51 104.28h0.99v1.05h-0.99zM493.59 105.28h0.99v1.05h-0.99zM495.58 105.28h1.99v1.05h-1.99zM499.55 105.28h0.99v1.05h-0.99zM501.53 105.28h4.97v1.05h-4.97zM478.69 106.28h27.81v1.05h-27.81zM477.70 107.28h0.99v1.05h-0.99zM479.69 107.28h3.97v1.05h-3.97zM484.65 107.28h9.93v1.05h-9.93zM495.58 107.28h0.99v1.05h-0.99zM497.56 107.28h1.99v1.05h-1.99zM505.51 107.28h0.99v1.05h-0.99zM477.70 108.29h12.91v1.05h-12.91zM493.59 108.29h3.97v1.05h-3.97zM500.54 108.29h5.96v1.05h-5.96zM477.70 109.29h17.88v1.05h-17.88zM500.54 109.29h0.99v1.05h-0.99zM504.51 109.29h1.99v1.05h-1.99zM477.70 110.29h2.98v1.05h-2.98zM482.67 110.29h4.97v1.05h-4.97zM489.62 110.29h0.99v1.05h-0.99zM493.59 110.29h2.98v1.05h-2.98zM498.56 110.29h0.99v1.05h-0.99zM500.54 110.29h1.99v1.05h-1.99zM503.52 110.29h2.98v1.05h-2.98zM477.70 111.29h10.92v1.05h-10.92zM490.61 111.29h8.94v1.05h-8.94zM500.54 111.29h1.99v1.05h-1.99zM504.51 111.29h1.99v1.05h-1.99zM477.70 112.29h3.97v1.05h-3.97zM482.67 112.29h11.92v1.05h-11.92zM497.56 112.29h2.98v1.05h-2.98zM505.51 112.29h0.99v1.05h-0.99zM477.70 113.29h6.95v1.05h-6.95zM488.62 113.29h1.99v1.05h-1.99zM495.58 113.29h3.97v1.05h-3.97zM502.53 113.29h3.97v1.05h-3.97zM477.70 114.30h0.99v1.05h-0.99zM483.66 114.30h0.99v1.05h-0.99zM495.58 114.30h10.92v1.05h-10.92zM477.70 115.30h7.94v1.05h-7.94zM486.64 115.30h0.99v1.05h-0.99zM489.62 115.30h0.99v1.05h-0.99zM494.58 115.30h1.99v1.05h-1.99zM499.55 115.30h6.95v1.05h-6.95z"/>
<path fill="#414487" d="M490.61 61.20h0.99v1.05h-0.99zM492.60 61.20h1.99v1.05h-1.99zM497.56 61.20h0.99v1.05h-0.99zM478.69 64.21h0.99v1.05h-0.99zM489.62 64.21h0.99v1.05h-0.99zM494.58 64.21h1.99v1.05h-1.99zM477.70 65.21h0.99v1.05h-0.99zM479.69 65.21h0.99v1.05h-0.99zM488.62 65.21h0.99v1.05h-0.99zM495.58 65.21h0.99v1.05h-0.99zM501.53 66.21h0.99v1.05h-0.99zM481.67 67.21h0.99v1.05h-0.99zM483.66 67.21h0.99v1.05h-0.99zM488.62 67.21h0.99v1.05h-0.99zM490.61 67.21h0.99v1.05h-0.99zM495.58 67.21h0.99v1.05h-0.99zM504.51 67.21h0.99v1.05h-0.99zM481.67 68.22h0.99v1.05h-0.99zM484.65 68.22h0.99v1.05h-0.99zM486.64 68.22h0.99v1.05h-0.99zM491.60 68.22h0.99v1.05h-0.99zM497.56 68.22h1.99v1.05h-1.99zM479.69 70.22h0.99v1.05h-0.99zM487.63 70.22h0.99v1.05h-0.99zM490.61 70.22h0.99v1.05h-0.99zM492.60 70.22h2.98v1.05h-2.98zM497.56 70.22h0.99v1.05h-0.99zM504.51 70.22h0.99v1.05h-0.99zM488.62 72.22h0.99v1.05h-0.99zM478.69 73.22h1.99v1.05h-1.99zM484.65 73.22h0.99v1.05h-0.99zM493.59 73.22h0.99v1.05h-0.99zM504.51 73.22h0.99v1.05h-0.99zM486.64 74.23h1.99v1.05h-1.99zM490.61 74.23h0.99v1.05h-0.99zM496.57 74.23h0.99v1.05h-0.99zM502.53 74.23h3.97v1.05h-3.97zM480.68 77.23h0.99v1.05h-0.99zM482.67 77.23h1.99v1.05h-1.99zM499.55 77.23h0.99v1.05h-0.99zM479.69 78.23h0.99v1.05h-0.99zM502.53 78.23h0.99v1.05h-0.99zM479.69 79.24h3.97v1.05h-3.97zM485.64 79.24h1.99v1.05h-1.99zM490.61 79.24h0.99v1.05h-0.99zM492.60 79.24h3.97v1.05h-3.97zM499.55 79.24h0.99v1.05h-0.99zM501.53 79.24h1.99v1.05h-1.99zM504.51 79.24h0.99v1.05h-0.99zM479.69 80.24h1.99v1.05h-1.99zM505.51 80.24h0.99v1.05h-0.99zM488.62 81.24h0.99v1.05h-0.99zM500.54 81.24h0.99v1.05h-0.99zM503.52 81.24h0.99v1.05h-0.99zM488.62 82.24h0.99v1.05h-0.99zM477.70 83.24h2.98v1.05h-2.98zM482.67 83.24h0.99v1.05h-0.99zM487.63 83.24h0.99v1.05h-0.99zM492.60 83.24h0.99v1.05h-0.99zM494.58 83.24h0.99v1.05h-0.99zM496.57 83.24h0.99v1.05h-0.99zM500.54 83.24h0.99v1.05h-0.99zM503.52 83.24h1.99v1.05h-1.99zM487.63 84.24h0.99v1.05h-0.99zM501.53 84.24h0.99v1.05h-0.99zM480.68 86.25h0.99v1.05h-0.99zM503.52 86.25h0.99v1.05h-0.99zM493.59 87.25h0.99v1.05h-0.99zM497.56 87.25h0.99v1.05h-0.99zM499.55 87.25h2.98v1.05h-2.98zM503.52 87.25h0.99v1.05h-0.99zM477.70 89.25h2.98v1.05h-2.98zM481.67 89.25h0.99v1.05h-0.99zM492.60 89.25h0.99v1.05h-0.99zM494.58 89.25h0.99v1.05h-0.99zM498.56 89.25h0.99v1.05h-0.99zM502.53 89.25h0.99v1.05h-0.99zM504.51 89.25h0.99v1.05h-0.99zM478.69 92.26h1.99v1.05h-1.99zM482.67 92.26h0.99v1.05h-0.99zM503.52 92.26h0.99v1.05h-0.99zM477.70 93.26h0.99v1.05h-0.99zM480.68 93.26h0.99v1.05h-0.99zM497.56 93.26h0.99v1.05h-0.99zM477.70 95.26h0.99v1.05h-0.99zM480.68 95.26h1.99v1.05h-1.99zM496.57 95.26h0.99v1.05h-0.99zM501.53 95.26h0.99v1.05h-0.99zM478.69 97.27h0.99v1.05h-0.99zM488.62 97.27h1.99v1.05h-1.99zM499.55 97.27h1.99v1.05h-1.99zM483.66 98.27h1.99v1.05h-1.99zM501.53 98.27h0.99v1.05h-0.99zM478.69 100.27h0.99v1.05h-0.99zM478.69 101.27h1.99v1.05h-1.99zM481.67 101.27h1.99v1.05h-1.99zM490.61 101.27h0.99v1.05h-0.99zM493.59 101.27h1.99v1.05h-1.99zM496.57 101.27h5.96v1.05h-5.96zM505.51 101.27h0.99v1.05h-0.99zM480.68 104.28h0.99v1.05h-0.99zM484.65 104.28h1.99v1.05h-1.99zM488.62 104.28h1.99v1.05h-1.99zM491.60 104.28h1.99v1.05h-1.99zM495.58 104.28h1.99v1.05h-1.99zM500.54 104.28h0.99v1.05h-0.99zM477.70 105.28h0.99v1.05h-0.99zM494.58 105.28h0.99v1.05h-0.99zM497.56 105.28h1.99v1.05h-1.99zM500.54 105.28h0.99v1.05h-0.99zM478.69 107.28h0.99v1.05h-0.99zM483.66 107.28h0.99v1.05h-0.99zM494.58 107.28h0.99v1.05h-0.99zM496.57 107.28h0.99v1.05h-0.99zM480.68 110.29h0.99v1.05h-0.99zM487.63 110.29h0.99v1.05h-0.99zM492.60 110.29h0.99v1.05h-0.99zM496.57 110.29h0.99v1.05h-0.99zM499.55 110.29h0.99v1.05h-0.99zM502.53 110.29h0.99v1.05h-0.99zM481.67 112.29h0.99v1.05h-0.99zM494.58 112.29h1.99v1.05h-1.99zM500.54 112.29h1.99v1.05h-1.99zM481.67 114.30h0.99v1.05h-0.99zM484.65 114.30h0.99v1.05h-0.99zM487.63 114.30h0.99v1.05h-0.99z"/>
<path fill="#355f8d" d="M487.63 72.22h0.99v1.05h-0.99zM489.62 72.22h2.98v1.05h-2.98zM494.58 73.22h1.99v1.05h-1.99zM501.53 77.23h4.97v1.05h-4.97zM490.61 98.27h0.99v1.05h-0.99zM493.59 98.27h0.99v1.05h-0.99zM487.63 102.28h3.97v1.05h-3.97zM484.65 103.28h3.97v1.05h-3.97zM491.60 105.28h1.99v1.05h-1.99zM499.55 107.28h0.99v1.05h-0.99zM501.53 107.28h3.97v1.05h-3.97zM498.56 109.29h0.99v1.05h-0.99zM496.57 112.29h0.99v1.05h-0.99zM484.65 113.29h3.97v1.05h-3.97zM490.61 113.29h1.99v1.05h-1.99zM494.58 113.29h0.99v1.05h-0.99zM480.68 114.30h0.99v1.05h-0.99zM482.67 114.30h0.99v1.05h-0.99zM485.64 114.30h1.99v1.05h-1.99zM488.62 114.30h0.99v1.05h-0.99zM491.60 114.30h0.99v1.05h-0.99zM493.59 114.30h0.99v1.05h-0.99zM490.61 115.30h0.99v1.05h-0.99zM493.59 115.30h0.99v1.05h-0.99z"/>
<path fill="#2a788e" d="M487.63 98.27h2.98v1.05h-2.98zM491.60 98.27h1.99v1.05h-1.99zM483.66 103.28h0.99v1.05h-0.99zM488.62 103.28h0.99v1.05h-0.99zM488.62 105.28h0.99v1.05h-0.99zM490.61 105.28h0.99v1.05h-0.99zM500.54 107.28h0.99v1.05h-0.99zM495.58 109.29h1.99v1.05h-1.99zM479.69 114.30h0.99v1.05h-0.99zM492.60 114.30h0.99v1.05h-0.99zM494.58 114.30h0.99v1.05h-0.99z"/>
<path fill="#21918c" d="M498.56 67.21h2.98v1.05h-2.98zM491.60 69.22h1.99v1.05h-1.99zM502.53 69.22h2.98v1.05h-2.98zM500.54 70.22h2.98v1.05h-2.98zM484.65 71.22h1.99v1.05h-1.99zM489.62 73.22h2.98v1.05h-2.98zM481.67 75.23h1.99v1.05h-1.99zM485.64 82.24h0.99v1.05h-0.99zM481.67 86.25h0.99v1.05h-0.99zM482.67 91.26h1.99v1.05h-1.99zM487.63 91.26h0.99v1.05h-0.99zM503.52 104.28h1.99v1.05h-1.99zM478.69 105.28h0.99v1.05h-0.99zM482.67 105.28h0.99v1.05h-0.99zM486.64 105.28h1.99v1.05h-1.99zM489.62 105.28h0.99v1.05h-0.99zM497.56 108.29h2.98v1.05h-2.98zM497.56 109.29h0.99v1.05h-0.99zM499.55 109.29h0.99v1.05h-0.99zM501.53 109.29h2.98v1.05h-2.98zM487.63 115.30h1.99v1.05h-1.99zM491.60 115.30h1.99v1.05h-1.99z"/>
<path fill="#22a884" d="M485.64 59.20h0.99v1.05h-0.99zM484.65 61.20h1.99v1.05h-1.99zM486.64 63.21h0.99v1.05h-0.99zM502.53 63.21h0.99v1.05h-0.99zM505.51 64.21h0.99v1.05h-0.99zM479.69 67.21h0.99v1.05h-0.99zM484.65 69.22h0.99v1.05h-0.99zM484.65 79.24h0.99v1.05h-0.99zM478.69 80.24h0.99v1.05h-0.99zM484.65 82.24h0.99v1.05h-0.99zM484.65 83.24h0.99v1.05h-0.99zM485.64 84.24h0.99v1.05h-0.99zM486.64 86.25h0.99v1.05h-0.99zM485.64 87.25h0.99v1.05h-0.99zM484.65 90.25h0.99v1.05h-0.99zM502.53 90.25h1.99v1.05h-1.99zM486.64 91.26h0.99v1.05h-0.99zM482.67 96.26h0.99v1.05h-0.99zM485.64 98.27h0.99v1.05h-0.99zM501.53 104.28h1.99v1.05h-1.99zM479.69 105.28h2.98v1.05h-2.98zM483.66 105.28h2.98v1.05h-2.98zM481.67 110.29h0.99v1.05h-0.99zM488.62 110.29h0.99v1.05h-0.99zM478.69 114.30h0.99v1.05h-0.99z"/>
<path fill="#44bf70" d="M485.64 60.20h0.99v1.05h-0.99zM486.64 64.21h0.99v1.05h-0.99zM485.64 65.21h0.99v1.05h-0.99zM493.59 65.21h1.99v1.05h-1.99zM485.64 67.21h1.99v1.05h-1.99zM494.58 67.21h0.99v1.05h-0.99zM486.64 72.22h0.99v1.05h-0.99zM481.67 74.23h3.97v1.05h-3.97zM480.68 75.23h0.99v1.05h-0.99zM484.65 75.23h0.99v1.05h-0.99zM482.67 76.23h1.99v1.05h-1.99zM484.65 78.23h0.99v1.05h-0.99zM499.55 82.24h1.99v1.05h-1.99zM484.65 84.24h0.99v1.05h-0.99zM485.64 85.25h0.99v1.05h-0.99zM494.58 85.25h0.99v1.05h-0.99zM482.67 87.25h0.99v1.05h-0.99zM482.67 88.25h0.99v1.05h-0.99zM483.66 89.25h0.99v1.05h-0.99zM485.64 89.25h0.99v1.05h-0.99zM485.64 90.25h1.99v1.05h-1.99zM504.51 90.25h0.99v1.05h-0.99zM485.64 92.26h1.99v1.05h-1.99zM500.54 92.26h2.98v1.05h-2.98zM497.56 110.29h0.99v1.05h-0.99zM488.62 111.29h1.99v1.05h-1.99zM493.59 113.29h0.99v1.05h-0.99zM489.62 114.30h1.99v1.05h-1.99zM496.57 115.30h2.98v1.05h-2.98z"/>
<path fill="#7ad151" d="M484.65 59.20h0.99v1.05h-0.99zM484.65 60.20h0.99v1.05h-0.99zM483.66 62.21h2.98v1.05h-2.98zM495.58 62.21h0.99v1.05h-0.99zM503.52 63.21h2.98v1.05h-2.98zM484.65 70.22h1.99v1.05h-1.99zM485.64 72.22h0.99v1.05h-0.99zM483.66 85.25h1.99v1.05h-1.99zM482.67 86.25h0.99v1.05h-0.99zM485.64 86.25h0.99v1.05h-0.99zM486.64 87.25h0.99v1.05h-0.99zM486.64 89.25h0.99v1.05h-0.99zM485.64 91.26h0.99v1.05h-0.99zM485.64 94.26h0.99v1.05h-0.99zM487.63 95.26h0.99v1.05h-0.99zM483.66 96.26h0.99v1.05h-0.99zM487.63 96.26h0.99v1.05h-0.99zM483.66 97.27h0.99v1.05h-0.99zM487.63 97.27h0.99v1.05h-0.99zM490.61 108.29h2.98v1.05h-2.98zM490.61 110.29h1.99v1.05h-1.99zM502.53 111.29h1.99v1.05h-1.99zM502.53 112.29h2.98v1.05h-2.98zM492.60 113.29h0.99v1.05h-0.99zM499.55 113.29h2.98v1.05h-2.98z"/>
<path fill="#bddf26" d="M486.64 66.21h0.99v1.05h-0.99zM485.64 68.22h0.99v1.05h-0.99zM504.51 68.22h0.99v1.05h-0.99zM500.54 72.22h1.99v1.05h-1.99zM485.64 74.23h0.99v1.05h-0.99zM483.66 81.24h0.99v1.05h-0.99zM498.56 83.24h0.99v1.05h-0.99zM483.66 87.25h0.99v1.05h-0.99zM485.64 88.25h1.99v1.05h-1.99zM484.65 94.26h0.99v1.05h-0.99zM483.66 95.26h3.97v1.05h-3.97zM485.64 96.26h0.99v1.05h-0.99zM485.64 97.27h1.99v1.05h-1.99zM481.67 100.27h0.99v1.05h-0.99zM488.62 100.27h0.99v1.05h-0.99zM491.60 100.27h0.99v1.05h-0.99zM497.56 100.27h0.99v1.05h-0.99zM504.51 100.27h0.99v1.05h-0.99z"/>
<path fill="#fde725" d="M487.63 78.23h2.98v1.05h-2.98zM483.66 79.24h0.99v1.05h-0.99zM483.66 80.24h0.99v1.05h-0.99zM483.66 86.25h1.99v1.05h-1.99zM486.64 93.26h0.99v1.05h-0.99zM491.60 94.26h2.98v1.05h-2.98zM484.65 96.26h0.99v1.05h-0.99zM486.64 96.26h0.99v1.05h-0.99zM484.65 97.27h0.99v1.05h-0.99z"/>
<path fill="#ffffff" d="M484.65 87.25h0.99v1.05h-0.99zM484.65 88.25h0.99v1.05h-0.99zM479.69 100.27h1.99v1.05h-1.99zM482.67 100.27h5.96v1.05h-5.96zM489.62 100.27h1.99v1.05h-1.99zM492.60 100.27h4.97v1.05h-4.97zM498.56 100.27h5.96v1.05h-5.96zM505.51 100.27h0.99v1.05h-0.99z"/>
<line x1="438.60" y1="85.20" x2="467.00" y2="85.20" stroke="#333" stroke-width="0.8" />
<line x1="438.60" y1="97.00" x2="467.00" y2="97.00" stroke="#333" stroke-width="0.8" />
<line x1="477.70" y1="98.60" x2="506.50" y2="98.60" stroke="#333" stroke-width="0.8" />
<line x1="477.70" y1="107.00" x2="506.50" y2="107.00" stroke="#333" stroke-width="0.8" />
<line x1="452.00" y1="59.20" x2="452.00" y2="116.30" stroke="#333" stroke-width="0.7" />
<line x1="492.00" y1="59.20" x2="492.00" y2="116.30" stroke="#333" stroke-width="0.7" />
<rect x="432.60" y="59.20" width="6.00" height="26.00" fill="#fff" stroke="none" stroke-width="1" />
<text x="435.60" y="74.94" font-size="7.6" text-anchor="middle" font-weight="normal" fill="#000" >3</text>
<rect x="432.60" y="85.20" width="6.00" height="11.80" fill="#8a8a8a" stroke="none" stroke-width="1" />
<text x="435.60" y="93.84" font-size="7.6" text-anchor="middle" font-weight="normal" fill="#fff" >2</text>
<rect x="432.60" y="97.00" width="6.00" height="19.30" fill="#000" stroke="none" stroke-width="1" />
<text x="435.60" y="109.39" font-size="7.6" text-anchor="middle" font-weight="normal" fill="#fff" >1</text>
<rect x="473.00" y="59.20" width="4.70" height="39.40" fill="#fff" stroke="none" stroke-width="1" />
<text x="475.35" y="81.64" font-size="7.6" text-anchor="middle" font-weight="normal" fill="#000" >3</text>
<rect x="473.00" y="98.60" width="4.70" height="8.40" fill="#8a8a8a" stroke="none" stroke-width="1" />
<text x="475.35" y="105.54" font-size="7.6" text-anchor="middle" font-weight="normal" fill="#fff" >2</text>
<rect x="473.00" y="107.00" width="4.70" height="9.30" fill="#000" stroke="none" stroke-width="1" />
<text x="475.35" y="114.39" font-size="7.6" text-anchor="middle" font-weight="normal" fill="#fff" >1</text>
<rect x="432.60" y="59.20" width="34.40" height="57.10" fill="none" stroke="#222" stroke-width="0.8" />
<rect x="473.00" y="59.20" width="33.50" height="57.10" fill="none" stroke="#222" stroke-width="0.8" />
<line x1="439.50" y1="121.20" x2="448.70" y2="121.20" stroke="#000" stroke-width="1.5" />
<polygon points="448.20,118.70 452.00,121.20 448.20,123.70" fill="#000" stroke="none" stroke-width="1" />
<line x1="453.50" y1="121.20" x2="463.20" y2="121.20" stroke="#000" stroke-width="1.5" />
<polygon points="462.70,118.70 466.50,121.20 462.70,123.70" fill="#000" stroke="none" stroke-width="1" />
<line x1="479.50" y1="121.20" x2="488.70" y2="121.20" stroke="#000" stroke-width="1.5" />
<polygon points="488.20,118.70 492.00,121.20 488.20,123.70" fill="#000" stroke="none" stroke-width="1" />
<line x1="494.00" y1="121.20" x2="503.20" y2="121.20" stroke="#000" stroke-width="1.5" />
<polygon points="502.70,118.70 506.50,121.20 502.70,123.70" fill="#000" stroke="none" stroke-width="1" />
<text x="469.00" y="131.32" font-size="7" text-anchor="middle" font-weight="normal" fill="#111" >Time post division</text>
<text x="0" y="2.10" font-size="7" text-anchor="middle" font-weight="normal" fill="#111" transform="translate(428.60,88.50) rotate(-90)" >Paired daughter ID</text>
<defs><linearGradient id="vir" x1="0" y1="1" x2="0" y2="0"><stop offset="0.0" stop-color="#440154"/><stop offset="0.1" stop-color="#482475"/><stop offset="0.2" stop-color="#414487"/><stop offset="0.3" stop-color="#355f8d"/><stop offset="0.4" stop-color="#2a788e"/><stop offset="0.5" stop-color="#21918c"/><stop offset="0.6" stop-color="#22a884"/><stop offset="0.7" stop-color="#44bf70"/><stop offset="0.8" stop-color="#7ad151"/><stop offset="0.9" stop-color="#bddf26"/><stop offset="1.0" stop-color="#fde725"/></linearGradient></defs>
<rect x="402.60" y="75.40" width="7.60" height="28.10" fill="url(#vir)" stroke="#222" stroke-width="0.8" />
<text x="406.40" y="71.72" font-size="7" text-anchor="middle" font-weight="normal" fill="#111" >high</text>
<text x="406.40" y="113.12" font-size="7" text-anchor="middle" font-weight="normal" fill="#111" >low</text>
<text x="0" y="2.10" font-size="7" text-anchor="middle" font-weight="normal" fill="#111" transform="translate(383.30,88.00) rotate(-90)" >Normalized</text>
<text x="0" y="2.10" font-size="7" text-anchor="middle" font-weight="normal" fill="#111" transform="translate(392.20,88.00) rotate(-90)" >TMRM intensity</text>
<path d="M451.70 149.20L451.70 132.90A16.3 16.3 0 0 1 460.43 162.96Z" fill="#000" stroke="none" stroke-width="1" />
<path d="M451.70 149.20L460.43 162.96A16.3 16.3 0 0 1 445.70 164.36Z" fill="#6a6a6a" stroke="none" stroke-width="1" />
<path d="M451.70 149.20L445.70 164.36A16.3 16.3 0 0 1 451.70 132.90Z" fill="#fff" stroke="none" stroke-width="1" />
<circle cx="451.70" cy="149.20" r="16.30" fill="none" stroke="#555" stroke-width="0.6" />
<path d="M491.20 149.20L491.20 132.90A16.3 16.3 0 0 1 506.99 145.15Z" fill="#000" stroke="none" stroke-width="1" />
<path d="M491.20 149.20L506.99 145.15A16.3 16.3 0 0 1 506.36 155.20Z" fill="#6a6a6a" stroke="none" stroke-width="1" />
<path d="M491.20 149.20L506.36 155.20A16.3 16.3 0 1 1 491.20 132.90Z" fill="#fff" stroke="none" stroke-width="1" />
<circle cx="491.20" cy="149.20" r="16.30" fill="none" stroke="#555" stroke-width="0.6" />
<text x="458.50" y="148.70" font-size="7.5" text-anchor="middle" font-weight="normal" fill="#fff" >41</text>
<text x="452.50" y="162.20" font-size="7.5" text-anchor="middle" font-weight="normal" fill="#fff" >15</text>
<text x="443.20" y="151.50" font-size="7.5" text-anchor="middle" font-weight="normal" fill="#111" >44</text>
<text x="497.50" y="144.20" font-size="7.5" text-anchor="middle" font-weight="normal" fill="#fff" >21</text>
<text x="501.80" y="151.90" font-size="7.5" text-anchor="middle" font-weight="normal" fill="#fff" >10</text>
<text x="484.30" y="156.30" font-size="7.5" text-anchor="middle" font-weight="normal" fill="#111" >69</text>
<text x="472.00" y="176.52" font-size="7" text-anchor="middle" font-weight="normal" fill="#111" >Paired daughter cell fates</text>
<circle cx="352.40" cy="129.40" r="2.00" fill="#fff" stroke="#000" stroke-width="0.9" />
<text x="355.20" y="131.92" font-size="7" text-anchor="start" font-weight="normal" fill="#111" >:</text>
<line x1="362.00" y1="132.20" x2="362.00" y2="127.60" stroke="#000" stroke-width="0.7" />
<polygon points="360.90,128.00 363.10,128.00 362.00,126.20" fill="#000" stroke="none" stroke-width="1" />
<circle cx="352.40" cy="135.80" r="2.10" fill="#000" stroke="none" stroke-width="1" />
<text x="355.20" y="138.32" font-size="7" text-anchor="start" font-weight="normal" fill="#111" >:</text>
<line x1="359.50" y1="135.80" x2="364.00" y2="135.80" stroke="#000" stroke-width="0.7" />
<polygon points="363.60,134.60 363.60,137.00 365.40,135.80" fill="#000" stroke="none" stroke-width="1" />
<line x1="376.90" y1="126.30" x2="376.90" y2="130.15" stroke="#000" stroke-width="1.2" />
<line x1="372.30" y1="130.15" x2="381.50" y2="130.15" stroke="#000" stroke-width="1.2" />
<line x1="372.30" y1="129.55" x2="372.30" y2="134.00" stroke="#000" stroke-width="1.2" />
<line x1="381.50" y1="129.55" x2="381.50" y2="134.00" stroke="#000" stroke-width="1.2" />
<circle cx="376.90" cy="124.50" r="2.10" fill="#fff" stroke="#000" stroke-width="1.0" />
<circle cx="372.30" cy="135.80" r="2.10" fill="#0d0d4a" stroke="#3535f0" stroke-width="1.15" />
<circle cx="381.50" cy="135.80" r="2.10" fill="#fff" stroke="#2ec02e" stroke-width="1.15" />
<rect x="369.30" y="140.00" width="15.40" height="2.30" fill="#000" stroke="none" stroke-width="1" />
<line x1="397.00" y1="126.30" x2="397.00" y2="130.15" stroke="#000" stroke-width="1.2" />
<line x1="392.40" y1="130.15" x2="401.60" y2="130.15" stroke="#000" stroke-width="1.2" />
<line x1="392.40" y1="129.55" x2="392.40" y2="134.00" stroke="#000" stroke-width="1.2" />
<line x1="401.60" y1="129.55" x2="401.60" y2="134.00" stroke="#000" stroke-width="1.2" />
<circle cx="397.00" cy="124.50" r="2.10" fill="#fff" stroke="#000" stroke-width="1.0" />
<circle cx="392.40" cy="135.80" r="2.10" fill="#fff" stroke="#3535f0" stroke-width="1.15" />
<circle cx="401.60" cy="135.80" r="2.10" fill="#fff" stroke="#2ec02e" stroke-width="1.15" />
<rect x="389.40" y="140.00" width="15.40" height="2.30" fill="#7a7a7a" stroke="none" stroke-width="1" />
<line x1="417.20" y1="126.30" x2="417.20" y2="130.15" stroke="#000" stroke-width="1.2" />
<line x1="412.60" y1="130.15" x2="421.80" y2="130.15" stroke="#000" stroke-width="1.2" />
<line x1="412.60" y1="129.55" x2="412.60" y2="134.00" stroke="#000" stroke-width="1.2" />
<line x1="421.80" y1="129.55" x2="421.80" y2="134.00" stroke="#000" stroke-width="1.2" />
<circle cx="417.20" cy="124.50" r="2.10" fill="#fff" stroke="#000" stroke-width="1.0" />
<circle cx="412.60" cy="135.80" r="2.10" fill="#fff" stroke="#3535f0" stroke-width="1.15" />
<circle cx="421.80" cy="135.80" r="2.10" fill="#000" stroke="#2ec02e" stroke-width="1.15" />
<rect x="409.80" y="140.10" width="15.00" height="2.00" fill="#fff" stroke="#aaa" stroke-width="0.6" rx="0.8"/>
<polygon points="366.50,160.93 369.27,161.95 372.05,154.78 375.75,151.29 379.45,149.65 385.00,148.62 385.00,161.95 375.75,162.97 366.50,164.00" fill="#8ee68e" stroke="none" stroke-width="1" fill-opacity="1.0"/>
<polygon points="373.90,161.95 379.45,160.31 385.00,159.90 385.00,164.00 373.90,164.00" fill="#8080f2" stroke="none" stroke-width="1" fill-opacity="1.0"/>
<polygon points="366.50,161.54 370.20,162.36 374.82,157.85 379.45,155.80 385.00,155.80 385.00,162.97 377.60,162.97 372.05,164.00 366.50,164.00" fill="#3f9f7f" stroke="none" stroke-width="1" fill-opacity="1.0"/>
<polyline points="366.50,160.93 369.27,161.95 372.05,154.78 375.75,151.29 379.45,149.65 383.15,148.62 385.00,149.03" fill="none" stroke="#22cc22" stroke-width="1.2" stroke-linejoin="round" />
<polyline points="366.50,162.36 370.20,162.97 374.82,158.26 379.45,156.21 385.00,156.62" fill="none" stroke="#111" stroke-width="0.8" stroke-linejoin="round" />
<line x1="366.50" y1="143.50" x2="366.50" y2="164.00" stroke="#222" stroke-width="1.2" />
<line x1="366.50" y1="163.70" x2="385.00" y2="163.70" stroke="#555" stroke-width="1.0" />
<polygon points="387.30,160.31 396.55,153.75 405.80,144.53 405.80,152.72 396.55,160.93 387.30,164.00" fill="#8080f2" stroke="none" stroke-width="1" fill-opacity="1.0"/>
<polygon points="387.30,160.93 396.55,152.72 405.80,143.50 405.80,153.75 396.55,161.95 387.30,164.00" fill="#8ee68e" stroke="none" stroke-width="1" fill-opacity="1.0"/>
<polygon points="387.30,162.36 396.55,156.21 405.80,149.65 405.80,153.75 396.55,159.90 387.30,164.00" fill="#3f9f7f" stroke="none" stroke-width="1" fill-opacity="1.0"/>
<polyline points="387.30,160.93 396.55,152.72 405.80,143.50" fill="none" stroke="#22cc22" stroke-width="1.0" stroke-linejoin="round" />
<polyline points="387.30,162.97 396.55,157.03 405.80,150.68" fill="none" stroke="#111" stroke-width="0.8" stroke-linejoin="round" />
<line x1="387.30" y1="143.50" x2="387.30" y2="164.00" stroke="#222" stroke-width="1.2" />
<line x1="387.30" y1="163.70" x2="405.80" y2="163.70" stroke="#555" stroke-width="1.0" />
<polygon points="408.80,158.88 415.96,155.80 419.54,147.60 423.12,148.62 426.70,149.65 426.70,164.00 408.80,164.00" fill="#8080f2" stroke="none" stroke-width="1" fill-opacity="1.0"/>
<polygon points="408.80,158.88 417.75,156.82 426.70,154.78 426.70,164.00 408.80,164.00" fill="#8ee68e" stroke="none" stroke-width="1" fill-opacity="1.0"/>
<polygon points="408.80,160.93 417.75,158.88 426.70,156.82 426.70,161.95 417.75,162.97 408.80,164.00" fill="#3f9f7f" stroke="none" stroke-width="1" fill-opacity="1.0"/>
<polyline points="408.80,159.90 417.75,157.85 426.70,156.21" fill="none" stroke="#22cc22" stroke-width="0.9" stroke-linejoin="round" />
<polyline points="408.80,161.54 417.75,159.49 426.70,158.26" fill="none" stroke="#111" stroke-width="0.8" stroke-linejoin="round" />
<line x1="408.80" y1="143.50" x2="408.80" y2="164.00" stroke="#222" stroke-width="1.2" />
<line x1="408.80" y1="163.70" x2="426.70" y2="163.70" stroke="#555" stroke-width="1.0" />
<text x="0" y="2.10" font-size="7" text-anchor="middle" font-weight="normal" fill="#111" transform="translate(357.70,159.20) rotate(-90)" >TMRM</text>
<line x1="361.90" y1="167.30" x2="361.90" y2="160.30" stroke="#000" stroke-width="1.3" />
<polygon points="360.20,160.80 363.60,160.80 361.90,158.80" fill="#000" stroke="none" stroke-width="1" />
<line x1="361.30" y1="167.30" x2="369.40" y2="167.30" stroke="#000" stroke-width="1.3" />
<polygon points="368.90,165.60 368.90,169.00 370.90,167.30" fill="#000" stroke="none" stroke-width="1" />
<text x="362.30" y="175.22" font-size="7" text-anchor="start" font-weight="normal" fill="#111" >Time</text>
<text x="8.70" y="216.35" font-size="12" font-weight="bold" fill="#000">E</text>
<text x="129.10" y="211.02" font-size="7" text-anchor="middle" font-weight="normal" fill="#111" >TMRM</text>
<line x1="97.10" y1="213.00" x2="164.30" y2="213.00" stroke="#808080" stroke-width="1.4" />
<text x="50.40" y="221.52" font-size="7" text-anchor="start" font-weight="normal" fill="#111" >Inheritance:</text>
<text x="109.50" y="221.22" font-size="7" text-anchor="middle" font-weight="normal" fill="#111" >Symmetric</text>
<text x="149.30" y="221.22" font-size="7" text-anchor="middle" font-weight="normal" fill="#111" >Asymmetric</text>
<text x="50.40" y="233.72" font-size="7" text-anchor="start" font-weight="normal" fill="#111" >CD49fHSC:</text>
<circle cx="103.70" cy="230.40" r="6.60" fill="#000" stroke="none" stroke-width="1" />
<circle cx="116.70" cy="230.40" r="6.60" fill="#000" stroke="none" stroke-width="1" />
<circle cx="100.90" cy="227.80" r="0.95" fill="#fff" stroke="none" stroke-width="1" />
<circle cx="105.20" cy="227.40" r="0.95" fill="#fff" stroke="none" stroke-width="1" />
<circle cx="100.20" cy="231.90" r="0.95" fill="#fff" stroke="none" stroke-width="1" />
<circle cx="104.20" cy="233.60" r="0.95" fill="#fff" stroke="none" stroke-width="1" />
<circle cx="106.70" cy="230.60" r="0.95" fill="#fff" stroke="none" stroke-width="1" />
<circle cx="114.70" cy="227.40" r="0.95" fill="#fff" stroke="none" stroke-width="1" />
<circle cx="119.20" cy="228.90" r="0.95" fill="#fff" stroke="none" stroke-width="1" />
<circle cx="113.70" cy="231.40" r="0.95" fill="#fff" stroke="none" stroke-width="1" />
<circle cx="118.70" cy="233.40" r="0.95" fill="#fff" stroke="none" stroke-width="1" />
<circle cx="116.20" cy="230.90" r="0.95" fill="#fff" stroke="none" stroke-width="1" />
<circle cx="143.80" cy="230.40" r="6.60" fill="#000" stroke="none" stroke-width="1" />
<circle cx="156.80" cy="230.40" r="6.60" fill="#000" stroke="none" stroke-width="1" />
<circle cx="141.30" cy="227.40" r="0.95" fill="#fff" stroke="none" stroke-width="1" />
<circle cx="145.60" cy="227.60" r="0.95" fill="#fff" stroke="none" stroke-width="1" />
<circle cx="140.30" cy="230.90" r="0.95" fill="#fff" stroke="none" stroke-width="1" />
<circle cx="144.30" cy="231.60" r="0.95" fill="#fff" stroke="none" stroke-width="1" />
<circle cx="146.80" cy="230.90" r="0.95" fill="#fff" stroke="none" stroke-width="1" />
<circle cx="142.80" cy="233.90" r="0.95" fill="#fff" stroke="none" stroke-width="1" />
<circle cx="160.00" cy="229.40" r="0.95" fill="#fff" stroke="none" stroke-width="1" />
<text x="103.70" y="244.02" font-size="7" text-anchor="middle" font-weight="normal" fill="#3a3af0" >#1</text>
<text x="117.00" y="244.02" font-size="7" text-anchor="middle" font-weight="normal" fill="#33c433" >#2</text>
<text x="143.20" y="244.02" font-size="7" text-anchor="middle" font-weight="normal" fill="#3a3af0" >#1</text>
<text x="157.30" y="244.02" font-size="7" text-anchor="middle" font-weight="normal" fill="#33c433" >#2</text>
<path fill="#440154" d="M96.00 245.80h0.99v1.05h-0.99zM97.99 245.80h0.99v1.05h-0.99zM109.90 245.80h1.99v1.05h-1.99zM96.00 246.80h2.98v1.05h-2.98zM109.90 246.80h2.98v1.05h-2.98zM96.00 247.80h0.99v1.05h-0.99zM109.90 247.80h0.99v1.05h-0.99zM96.00 248.79h1.99v1.05h-1.99zM110.90 248.79h0.99v1.05h-0.99zM96.00 249.79h1.99v1.05h-1.99zM109.90 249.79h1.99v1.05h-1.99zM96.00 250.79h2.98v1.05h-2.98zM109.90 251.79h1.99v1.05h-1.99zM96.00 252.79h1.99v1.05h-1.99zM109.90 252.79h1.99v1.05h-1.99zM109.90 253.79h1.99v1.05h-1.99zM96.00 254.78h0.99v1.05h-0.99zM109.90 254.78h1.99v1.05h-1.99zM96.00 255.78h1.99v1.05h-1.99zM109.90 255.78h0.99v1.05h-0.99zM96.00 256.78h0.99v1.05h-0.99zM109.90 256.78h1.99v1.05h-1.99zM96.00 257.78h0.99v1.05h-0.99zM109.90 257.78h1.99v1.05h-1.99zM96.00 258.78h1.99v1.05h-1.99zM109.90 258.78h1.99v1.05h-1.99zM96.00 259.78h0.99v1.05h-0.99zM109.90 259.78h0.99v1.05h-0.99zM96.00 261.77h0.99v1.05h-0.99zM109.90 261.77h0.99v1.05h-0.99zM109.90 262.77h0.99v1.05h-0.99zM96.00 263.77h0.99v1.05h-0.99zM109.90 263.77h1.99v1.05h-1.99zM96.00 264.77h0.99v1.05h-0.99zM96.00 265.76h0.99v1.05h-0.99zM109.90 266.76h0.99v1.05h-0.99zM96.00 267.76h0.99v1.05h-0.99zM109.90 267.76h0.99v1.05h-0.99zM96.00 268.76h0.99v1.05h-0.99zM96.00 269.76h2.98v1.05h-2.98zM110.90 269.76h2.98v1.05h-2.98zM96.00 270.76h0.99v1.05h-0.99zM97.99 270.76h0.99v1.05h-0.99zM109.90 270.76h2.98v1.05h-2.98zM96.00 271.75h1.99v1.05h-1.99zM109.90 271.75h1.99v1.05h-1.99zM96.00 272.75h2.98v1.05h-2.98zM109.90 272.75h2.98v1.05h-2.98zM96.00 273.75h1.99v1.05h-1.99zM109.90 273.75h1.99v1.05h-1.99zM96.00 274.75h1.99v1.05h-1.99zM109.90 274.75h1.99v1.05h-1.99zM96.00 275.75h0.99v1.05h-0.99zM109.90 275.75h1.99v1.05h-1.99zM96.00 276.75h1.99v1.05h-1.99zM109.90 276.75h0.99v1.05h-0.99zM96.00 277.74h1.99v1.05h-1.99zM109.90 277.74h0.99v1.05h-0.99zM96.00 278.74h1.99v1.05h-1.99zM109.90 278.74h1.99v1.05h-1.99zM96.00 279.74h1.99v1.05h-1.99zM109.90 279.74h1.99v1.05h-1.99zM109.90 280.74h1.99v1.05h-1.99zM96.00 281.74h1.99v1.05h-1.99zM109.90 282.74h1.99v1.05h-1.99zM96.00 284.73h0.99v1.05h-0.99zM96.00 286.73h0.99v1.05h-0.99zM96.00 287.73h1.99v1.05h-1.99zM109.90 287.73h2.98v1.05h-2.98zM96.00 288.72h2.98v1.05h-2.98zM109.90 288.72h1.99v1.05h-1.99zM96.00 289.72h3.97v1.05h-3.97zM109.90 289.72h1.99v1.05h-1.99zM96.00 290.72h2.98v1.05h-2.98zM109.90 290.72h0.99v1.05h-0.99zM96.00 291.72h2.98v1.05h-2.98zM109.90 291.72h2.98v1.05h-2.98zM96.00 292.72h1.99v1.05h-1.99zM109.90 292.72h2.98v1.05h-2.98zM96.00 293.72h0.99v1.05h-0.99zM109.90 293.72h2.98v1.05h-2.98zM96.00 294.71h1.99v1.05h-1.99zM110.90 294.71h0.99v1.05h-0.99zM96.00 295.71h1.99v1.05h-1.99zM109.90 295.71h0.99v1.05h-0.99zM96.00 296.71h1.99v1.05h-1.99zM109.90 296.71h1.99v1.05h-1.99zM96.00 297.71h0.99v1.05h-0.99zM109.90 297.71h0.99v1.05h-0.99zM96.00 298.71h0.99v1.05h-0.99zM96.00 299.71h0.99v1.05h-0.99zM109.90 299.71h0.99v1.05h-0.99z"/>
<path fill="#482475" d="M96.99 245.80h0.99v1.05h-0.99zM98.98 245.80h0.99v1.05h-0.99zM111.89 245.80h1.99v1.05h-1.99zM98.98 246.80h0.99v1.05h-0.99zM112.88 246.80h0.99v1.05h-0.99zM96.99 247.80h1.99v1.05h-1.99zM110.90 247.80h1.99v1.05h-1.99zM97.99 248.79h0.99v1.05h-0.99zM109.90 248.79h0.99v1.05h-0.99zM111.89 248.79h1.99v1.05h-1.99zM97.99 249.79h0.99v1.05h-0.99zM111.89 249.79h2.98v1.05h-2.98zM98.98 250.79h0.99v1.05h-0.99zM109.90 250.79h2.98v1.05h-2.98zM96.00 251.79h3.97v1.05h-3.97zM111.89 251.79h1.99v1.05h-1.99zM97.99 252.79h1.99v1.05h-1.99zM111.89 252.79h1.99v1.05h-1.99zM96.00 253.79h2.98v1.05h-2.98zM111.89 253.79h1.99v1.05h-1.99zM96.99 254.78h1.99v1.05h-1.99zM111.89 254.78h0.99v1.05h-0.99zM97.99 255.78h0.99v1.05h-0.99zM110.90 255.78h1.99v1.05h-1.99zM96.99 256.78h0.99v1.05h-0.99zM111.89 256.78h0.99v1.05h-0.99zM96.99 257.78h0.99v1.05h-0.99zM111.89 257.78h0.99v1.05h-0.99zM97.99 258.78h0.99v1.05h-0.99zM111.89 258.78h0.99v1.05h-0.99zM96.99 259.78h1.99v1.05h-1.99zM110.90 259.78h0.99v1.05h-0.99zM96.00 260.77h2.98v1.05h-2.98zM109.90 260.77h2.98v1.05h-2.98zM96.99 261.77h1.99v1.05h-1.99zM110.90 261.77h0.99v1.05h-0.99zM96.00 262.77h1.99v1.05h-1.99zM110.90 262.77h1.99v1.05h-1.99zM96.99 263.77h0.99v1.05h-0.99zM111.89 263.77h0.99v1.05h-0.99zM96.99 264.77h0.99v1.05h-0.99zM109.90 264.77h2.98v1.05h-2.98zM96.99 265.76h0.99v1.05h-0.99zM109.90 265.76h1.99v1.05h-1.99zM96.00 266.76h1.99v1.05h-1.99zM110.90 266.76h1.99v1.05h-1.99zM96.99 267.76h0.99v1.05h-0.99zM110.90 267.76h0.99v1.05h-0.99zM96.99 268.76h0.99v1.05h-0.99zM109.90 268.76h1.99v1.05h-1.99zM98.98 269.76h0.99v1.05h-0.99zM109.90 269.76h0.99v1.05h-0.99zM113.88 269.76h0.99v1.05h-0.99zM96.99 270.76h0.99v1.05h-0.99zM98.98 270.76h0.99v1.05h-0.99zM112.88 270.76h0.99v1.05h-0.99zM97.99 271.75h0.99v1.05h-0.99zM111.89 271.75h1.99v1.05h-1.99zM98.98 272.75h0.99v1.05h-0.99zM112.88 272.75h0.99v1.05h-0.99zM97.99 273.75h0.99v1.05h-0.99zM111.89 273.75h1.99v1.05h-1.99zM97.99 274.75h0.99v1.05h-0.99zM111.89 274.75h0.99v1.05h-0.99zM96.99 275.75h0.99v1.05h-0.99zM111.89 275.75h0.99v1.05h-0.99zM97.99 276.75h0.99v1.05h-0.99zM110.90 276.75h0.99v1.05h-0.99zM97.99 277.74h0.99v1.05h-0.99zM110.90 277.74h1.99v1.05h-1.99zM97.99 278.74h0.99v1.05h-0.99zM111.89 278.74h1.99v1.05h-1.99zM97.99 279.74h1.99v1.05h-1.99zM111.89 279.74h1.99v1.05h-1.99zM96.00 280.74h1.99v1.05h-1.99zM111.89 280.74h0.99v1.05h-0.99zM97.99 281.74h0.99v1.05h-0.99zM109.90 281.74h1.99v1.05h-1.99zM96.00 282.74h2.98v1.05h-2.98zM111.89 282.74h0.99v1.05h-0.99zM96.00 283.73h0.99v1.05h-0.99zM109.90 283.73h1.99v1.05h-1.99zM96.99 284.73h0.99v1.05h-0.99zM109.90 284.73h1.99v1.05h-1.99zM96.00 285.73h1.99v1.05h-1.99zM109.90 285.73h1.99v1.05h-1.99zM96.99 286.73h0.99v1.05h-0.99zM109.90 286.73h1.99v1.05h-1.99zM97.99 287.73h1.99v1.05h-1.99zM112.88 287.73h0.99v1.05h-0.99zM98.98 288.72h0.99v1.05h-0.99zM111.89 288.72h1.99v1.05h-1.99zM99.97 289.72h0.99v1.05h-0.99zM111.89 289.72h0.99v1.05h-0.99zM98.98 290.72h0.99v1.05h-0.99zM110.90 290.72h1.99v1.05h-1.99zM98.98 291.72h0.99v1.05h-0.99zM112.88 291.72h0.99v1.05h-0.99zM97.99 292.72h1.99v1.05h-1.99zM112.88 292.72h0.99v1.05h-0.99zM96.99 293.72h0.99v1.05h-0.99zM112.88 293.72h0.99v1.05h-0.99zM97.99 294.71h0.99v1.05h-0.99zM109.90 294.71h0.99v1.05h-0.99zM111.89 294.71h0.99v1.05h-0.99zM97.99 295.71h0.99v1.05h-0.99zM110.90 295.71h1.99v1.05h-1.99zM97.99 296.71h0.99v1.05h-0.99zM111.89 296.71h1.99v1.05h-1.99zM96.99 297.71h0.99v1.05h-0.99zM110.90 297.71h0.99v1.05h-0.99zM96.99 298.71h1.99v1.05h-1.99zM109.90 298.71h2.98v1.05h-2.98zM96.99 299.71h0.99v1.05h-0.99zM110.90 299.71h0.99v1.05h-0.99zM96.00 300.70h1.99v1.05h-1.99zM109.90 300.70h1.99v1.05h-1.99zM96.00 301.70h0.99v1.05h-0.99zM109.90 301.70h1.99v1.05h-1.99z"/>
<path fill="#414487" d="M99.97 245.80h0.99v1.05h-0.99zM113.88 245.80h0.99v1.05h-0.99zM99.97 246.80h0.99v1.05h-0.99zM113.88 246.80h0.99v1.05h-0.99zM98.98 247.80h0.99v1.05h-0.99zM112.88 247.80h0.99v1.05h-0.99zM98.98 248.79h0.99v1.05h-0.99zM113.88 248.79h0.99v1.05h-0.99zM98.98 249.79h0.99v1.05h-0.99zM114.87 249.79h0.99v1.05h-0.99zM99.97 250.79h0.99v1.05h-0.99zM112.88 250.79h0.99v1.05h-0.99zM99.97 251.79h0.99v1.05h-0.99zM113.88 251.79h0.99v1.05h-0.99zM99.97 252.79h0.99v1.05h-0.99zM113.88 252.79h0.99v1.05h-0.99zM98.98 253.79h0.99v1.05h-0.99zM113.88 253.79h0.99v1.05h-0.99zM98.98 254.78h1.99v1.05h-1.99zM112.88 254.78h0.99v1.05h-0.99zM98.98 255.78h0.99v1.05h-0.99zM112.88 255.78h1.99v1.05h-1.99zM97.99 256.78h1.99v1.05h-1.99zM112.88 256.78h1.99v1.05h-1.99zM97.99 257.78h1.99v1.05h-1.99zM112.88 257.78h1.99v1.05h-1.99zM98.98 258.78h0.99v1.05h-0.99zM112.88 258.78h1.99v1.05h-1.99zM98.98 259.78h0.99v1.05h-0.99zM111.89 259.78h0.99v1.05h-0.99zM98.98 260.77h0.99v1.05h-0.99zM112.88 260.77h0.99v1.05h-0.99zM98.98 261.77h1.99v1.05h-1.99zM111.89 261.77h1.99v1.05h-1.99zM97.99 262.77h1.99v1.05h-1.99zM112.88 262.77h0.99v1.05h-0.99zM97.99 263.77h1.99v1.05h-1.99zM112.88 263.77h0.99v1.05h-0.99zM97.99 264.77h1.99v1.05h-1.99zM112.88 264.77h0.99v1.05h-0.99zM97.99 265.76h1.99v1.05h-1.99zM111.89 265.76h0.99v1.05h-0.99zM97.99 266.76h0.99v1.05h-0.99zM112.88 266.76h1.99v1.05h-1.99zM97.99 267.76h1.99v1.05h-1.99zM111.89 267.76h0.99v1.05h-0.99zM97.99 268.76h0.99v1.05h-0.99zM111.89 268.76h0.99v1.05h-0.99zM99.97 269.76h0.99v1.05h-0.99zM114.87 269.76h0.99v1.05h-0.99zM99.97 270.76h0.99v1.05h-0.99zM113.88 270.76h0.99v1.05h-0.99zM98.98 271.75h0.99v1.05h-0.99zM113.88 271.75h1.99v1.05h-1.99zM99.97 272.75h0.99v1.05h-0.99zM113.88 272.75h0.99v1.05h-0.99zM98.98 273.75h0.99v1.05h-0.99zM113.88 273.75h0.99v1.05h-0.99zM98.98 274.75h0.99v1.05h-0.99zM112.88 274.75h0.99v1.05h-0.99zM97.99 275.75h0.99v1.05h-0.99zM112.88 275.75h1.99v1.05h-1.99zM98.98 276.75h0.99v1.05h-0.99zM111.89 276.75h0.99v1.05h-0.99zM98.98 277.74h1.99v1.05h-1.99zM112.88 277.74h0.99v1.05h-0.99zM98.98 278.74h1.99v1.05h-1.99zM113.88 278.74h0.99v1.05h-0.99zM99.97 279.74h0.99v1.05h-0.99zM113.88 279.74h0.99v1.05h-0.99zM97.99 280.74h1.99v1.05h-1.99zM112.88 280.74h0.99v1.05h-0.99zM98.98 281.74h0.99v1.05h-0.99zM111.89 281.74h1.99v1.05h-1.99zM98.98 282.74h0.99v1.05h-0.99zM112.88 282.74h0.99v1.05h-0.99zM96.99 283.73h1.99v1.05h-1.99zM111.89 283.73h0.99v1.05h-0.99zM97.99 284.73h1.99v1.05h-1.99zM111.89 284.73h0.99v1.05h-0.99zM97.99 285.73h1.99v1.05h-1.99zM111.89 285.73h1.99v1.05h-1.99zM97.99 286.73h1.99v1.05h-1.99zM111.89 286.73h1.99v1.05h-1.99zM99.97 287.73h0.99v1.05h-0.99zM113.88 287.73h1.99v1.05h-1.99zM99.97 288.72h0.99v1.05h-0.99zM113.88 288.72h0.99v1.05h-0.99zM100.97 289.72h0.99v1.05h-0.99zM112.88 289.72h1.99v1.05h-1.99zM99.97 290.72h0.99v1.05h-0.99zM112.88 290.72h1.99v1.05h-1.99zM99.97 291.72h0.99v1.05h-0.99zM113.88 291.72h0.99v1.05h-0.99zM99.97 292.72h0.99v1.05h-0.99zM113.88 292.72h0.99v1.05h-0.99zM97.99 293.72h0.99v1.05h-0.99zM113.88 293.72h0.99v1.05h-0.99zM98.98 294.71h0.99v1.05h-0.99zM112.88 294.71h1.99v1.05h-1.99zM98.98 295.71h0.99v1.05h-0.99zM112.88 295.71h0.99v1.05h-0.99zM98.98 296.71h1.99v1.05h-1.99zM113.88 296.71h0.99v1.05h-0.99zM97.99 297.71h0.99v1.05h-0.99zM111.89 297.71h1.99v1.05h-1.99zM98.98 298.71h0.99v1.05h-0.99zM112.88 298.71h0.99v1.05h-0.99zM97.99 299.71h0.99v1.05h-0.99zM111.89 299.71h1.99v1.05h-1.99zM97.99 300.70h0.99v1.05h-0.99zM111.89 300.70h0.99v1.05h-0.99zM96.99 301.70h1.99v1.05h-1.99zM111.89 301.70h1.99v1.05h-1.99z"/>
<path fill="#355f8d" d="M100.97 245.80h0.99v1.05h-0.99zM114.87 245.80h0.99v1.05h-0.99zM100.97 246.80h0.99v1.05h-0.99zM114.87 246.80h0.99v1.05h-0.99zM99.97 247.80h0.99v1.05h-0.99zM113.88 247.80h1.99v1.05h-1.99zM99.97 248.79h0.99v1.05h-0.99zM114.87 248.79h0.99v1.05h-0.99zM99.97 249.79h1.99v1.05h-1.99zM115.86 249.79h0.99v1.05h-0.99zM100.97 250.79h0.99v1.05h-0.99zM113.88 250.79h0.99v1.05h-0.99zM100.97 251.79h0.99v1.05h-0.99zM114.87 251.79h1.99v1.05h-1.99zM100.97 252.79h0.99v1.05h-0.99zM114.87 252.79h0.99v1.05h-0.99zM99.97 253.79h1.99v1.05h-1.99zM114.87 253.79h1.99v1.05h-1.99zM100.97 254.78h0.99v1.05h-0.99zM113.88 254.78h1.99v1.05h-1.99zM99.97 255.78h1.99v1.05h-1.99zM114.87 255.78h0.99v1.05h-0.99zM99.97 256.78h0.99v1.05h-0.99zM114.87 256.78h0.99v1.05h-0.99zM99.97 257.78h0.99v1.05h-0.99zM114.87 257.78h0.99v1.05h-0.99zM99.97 258.78h0.99v1.05h-0.99zM114.87 258.78h0.99v1.05h-0.99zM99.97 259.78h0.99v1.05h-0.99zM112.88 259.78h1.99v1.05h-1.99zM99.97 260.77h0.99v1.05h-0.99zM113.88 260.77h0.99v1.05h-0.99zM100.97 261.77h0.99v1.05h-0.99zM113.88 261.77h0.99v1.05h-0.99zM99.97 262.77h0.99v1.05h-0.99zM113.88 262.77h0.99v1.05h-0.99zM99.97 263.77h0.99v1.05h-0.99zM113.88 263.77h0.99v1.05h-0.99zM99.97 264.77h0.99v1.05h-0.99zM113.88 264.77h1.99v1.05h-1.99zM99.97 265.76h0.99v1.05h-0.99zM112.88 265.76h1.99v1.05h-1.99zM98.98 266.76h1.99v1.05h-1.99zM114.87 266.76h0.99v1.05h-0.99zM99.97 267.76h0.99v1.05h-0.99zM112.88 267.76h1.99v1.05h-1.99zM98.98 268.76h1.99v1.05h-1.99zM112.88 268.76h1.99v1.05h-1.99zM100.97 269.76h0.99v1.05h-0.99zM115.86 269.76h0.99v1.05h-0.99zM100.97 270.76h0.99v1.05h-0.99zM114.87 270.76h0.99v1.05h-0.99zM99.97 271.75h0.99v1.05h-0.99zM115.86 271.75h0.99v1.05h-0.99zM100.97 272.75h0.99v1.05h-0.99zM114.87 272.75h0.99v1.05h-0.99zM99.97 273.75h1.99v1.05h-1.99zM114.87 273.75h0.99v1.05h-0.99zM99.97 274.75h0.99v1.05h-0.99zM113.88 274.75h1.99v1.05h-1.99zM98.98 275.75h1.99v1.05h-1.99zM114.87 275.75h0.99v1.05h-0.99zM99.97 276.75h0.99v1.05h-0.99zM112.88 276.75h1.99v1.05h-1.99zM100.97 277.74h0.99v1.05h-0.99zM113.88 277.74h0.99v1.05h-0.99zM100.97 278.74h0.99v1.05h-0.99zM114.87 278.74h0.99v1.05h-0.99zM100.97 279.74h0.99v1.05h-0.99zM114.87 279.74h1.99v1.05h-1.99zM99.97 280.74h0.99v1.05h-0.99zM113.88 280.74h1.99v1.05h-1.99zM99.97 281.74h1.99v1.05h-1.99zM113.88 281.74h0.99v1.05h-0.99zM99.97 282.74h0.99v1.05h-0.99zM113.88 282.74h0.99v1.05h-0.99zM98.98 283.73h0.99v1.05h-0.99zM112.88 283.73h1.99v1.05h-1.99zM99.97 284.73h0.99v1.05h-0.99zM112.88 284.73h1.99v1.05h-1.99zM99.97 285.73h0.99v1.05h-0.99zM113.88 285.73h0.99v1.05h-0.99zM99.97 286.73h0.99v1.05h-0.99zM113.88 286.73h0.99v1.05h-0.99zM100.97 287.73h1.99v1.05h-1.99zM115.86 287.73h0.99v1.05h-0.99zM100.97 288.72h0.99v1.05h-0.99zM114.87 288.72h0.99v1.05h-0.99zM101.96 289.72h0.99v1.05h-0.99zM114.87 289.72h0.99v1.05h-0.99zM100.97 290.72h0.99v1.05h-0.99zM114.87 290.72h0.99v1.05h-0.99zM100.97 291.72h1.99v1.05h-1.99zM114.87 291.72h1.99v1.05h-1.99zM100.97 292.72h0.99v1.05h-0.99zM114.87 292.72h0.99v1.05h-0.99zM98.98 293.72h1.99v1.05h-1.99zM114.87 293.72h1.99v1.05h-1.99zM99.97 294.71h1.99v1.05h-1.99zM114.87 294.71h0.99v1.05h-0.99zM99.97 295.71h1.99v1.05h-1.99zM113.88 295.71h1.99v1.05h-1.99zM100.97 296.71h0.99v1.05h-0.99zM114.87 296.71h1.99v1.05h-1.99zM98.98 297.71h1.99v1.05h-1.99zM113.88 297.71h0.99v1.05h-0.99zM99.97 298.71h1.99v1.05h-1.99zM113.88 298.71h0.99v1.05h-0.99zM98.98 299.71h0.99v1.05h-0.99zM113.88 299.71h0.99v1.05h-0.99zM98.98 300.70h1.99v1.05h-1.99zM112.88 300.70h1.99v1.05h-1.99zM98.98 301.70h0.99v1.05h-0.99zM113.88 301.70h0.99v1.05h-0.99z"/>
<path fill="#2a788e" d="M101.96 245.80h1.99v1.05h-1.99zM115.86 245.80h0.99v1.05h-0.99zM101.96 246.80h0.99v1.05h-0.99zM115.86 246.80h1.99v1.05h-1.99zM100.97 247.80h1.99v1.05h-1.99zM115.86 247.80h0.99v1.05h-0.99zM100.97 248.79h0.99v1.05h-0.99zM115.86 248.79h1.99v1.05h-1.99zM101.96 249.79h0.99v1.05h-0.99zM116.86 249.79h1.99v1.05h-1.99zM101.96 250.79h0.99v1.05h-0.99zM114.87 250.79h1.99v1.05h-1.99zM101.96 251.79h0.99v1.05h-0.99zM116.86 251.79h0.99v1.05h-0.99zM101.96 252.79h0.99v1.05h-0.99zM115.86 252.79h0.99v1.05h-0.99zM101.96 253.79h0.99v1.05h-0.99zM116.86 253.79h0.99v1.05h-0.99zM101.96 254.78h1.99v1.05h-1.99zM115.86 254.78h0.99v1.05h-0.99zM101.96 255.78h0.99v1.05h-0.99zM115.86 255.78h1.99v1.05h-1.99zM100.97 256.78h0.99v1.05h-0.99zM115.86 256.78h1.99v1.05h-1.99zM100.97 257.78h0.99v1.05h-0.99zM115.86 257.78h0.99v1.05h-0.99zM100.97 258.78h0.99v1.05h-0.99zM115.86 258.78h0.99v1.05h-0.99zM100.97 259.78h0.99v1.05h-0.99zM114.87 259.78h1.99v1.05h-1.99zM100.97 260.77h1.99v1.05h-1.99zM114.87 260.77h1.99v1.05h-1.99zM101.96 261.77h0.99v1.05h-0.99zM114.87 261.77h1.99v1.05h-1.99zM100.97 262.77h0.99v1.05h-0.99zM114.87 262.77h1.99v1.05h-1.99zM100.97 263.77h1.99v1.05h-1.99zM114.87 263.77h1.99v1.05h-1.99zM100.97 264.77h1.99v1.05h-1.99zM115.86 264.77h0.99v1.05h-0.99zM100.97 265.76h0.99v1.05h-0.99zM114.87 265.76h0.99v1.05h-0.99zM100.97 266.76h0.99v1.05h-0.99zM115.86 266.76h0.99v1.05h-0.99zM100.97 267.76h0.99v1.05h-0.99zM114.87 267.76h1.99v1.05h-1.99zM100.97 268.76h0.99v1.05h-0.99zM114.87 268.76h1.99v1.05h-1.99zM101.96 269.76h0.99v1.05h-0.99zM116.86 269.76h0.99v1.05h-0.99zM101.96 270.76h0.99v1.05h-0.99zM115.86 270.76h1.99v1.05h-1.99zM100.97 271.75h1.99v1.05h-1.99zM116.86 271.75h0.99v1.05h-0.99zM101.96 272.75h1.99v1.05h-1.99zM115.86 272.75h0.99v1.05h-0.99zM101.96 273.75h0.99v1.05h-0.99zM115.86 273.75h1.99v1.05h-1.99zM100.97 274.75h1.99v1.05h-1.99zM115.86 274.75h0.99v1.05h-0.99zM100.97 275.75h0.99v1.05h-0.99zM115.86 275.75h0.99v1.05h-0.99zM100.97 276.75h1.99v1.05h-1.99zM114.87 276.75h0.99v1.05h-0.99zM101.96 277.74h1.99v1.05h-1.99zM114.87 277.74h1.99v1.05h-1.99zM101.96 278.74h0.99v1.05h-0.99zM115.86 278.74h1.99v1.05h-1.99zM101.96 279.74h0.99v1.05h-0.99zM116.86 279.74h0.99v1.05h-0.99zM100.97 280.74h0.99v1.05h-0.99zM115.86 280.74h0.99v1.05h-0.99zM101.96 281.74h0.99v1.05h-0.99zM114.87 281.74h1.99v1.05h-1.99zM100.97 282.74h0.99v1.05h-0.99zM114.87 282.74h1.99v1.05h-1.99zM99.97 283.73h1.99v1.05h-1.99zM114.87 283.73h0.99v1.05h-0.99zM100.97 284.73h1.99v1.05h-1.99zM114.87 284.73h0.99v1.05h-0.99zM100.97 285.73h1.99v1.05h-1.99zM114.87 285.73h1.99v1.05h-1.99zM100.97 286.73h0.99v1.05h-0.99zM114.87 286.73h1.99v1.05h-1.99zM102.95 287.73h0.99v1.05h-0.99zM116.86 287.73h0.99v1.05h-0.99zM101.96 288.72h0.99v1.05h-0.99zM115.86 288.72h1.99v1.05h-1.99zM102.95 289.72h0.99v1.05h-0.99zM115.86 289.72h0.99v1.05h-0.99zM101.96 290.72h0.99v1.05h-0.99zM115.86 290.72h0.99v1.05h-0.99zM102.95 291.72h0.99v1.05h-0.99zM116.86 291.72h0.99v1.05h-0.99zM101.96 292.72h0.99v1.05h-0.99zM115.86 292.72h0.99v1.05h-0.99zM100.97 293.72h0.99v1.05h-0.99zM116.86 293.72h0.99v1.05h-0.99zM101.96 294.71h0.99v1.05h-0.99zM115.86 294.71h0.99v1.05h-0.99zM101.96 295.71h0.99v1.05h-0.99zM115.86 295.71h0.99v1.05h-0.99zM101.96 296.71h0.99v1.05h-0.99zM116.86 296.71h0.99v1.05h-0.99zM100.97 297.71h0.99v1.05h-0.99zM114.87 297.71h1.99v1.05h-1.99zM101.96 298.71h0.99v1.05h-0.99zM114.87 298.71h1.99v1.05h-1.99zM99.97 299.71h1.99v1.05h-1.99zM114.87 299.71h1.99v1.05h-1.99zM100.97 300.70h1.99v1.05h-1.99zM114.87 300.70h1.99v1.05h-1.99zM99.97 301.70h1.99v1.05h-1.99zM114.87 301.70h1.99v1.05h-1.99z"/>
<path fill="#21918c" d="M103.94 245.80h0.99v1.05h-0.99zM116.86 245.80h1.99v1.05h-1.99zM102.95 246.80h0.99v1.05h-0.99zM117.85 246.80h0.99v1.05h-0.99zM102.95 247.80h0.99v1.05h-0.99zM116.86 247.80h0.99v1.05h-0.99zM101.96 248.79h1.99v1.05h-1.99zM117.85 248.79h0.99v1.05h-0.99zM102.95 249.79h0.99v1.05h-0.99zM118.84 249.79h0.99v1.05h-0.99zM102.95 250.79h1.99v1.05h-1.99zM116.86 250.79h0.99v1.05h-0.99zM102.95 251.79h1.99v1.05h-1.99zM117.85 251.79h1.99v1.05h-1.99zM102.95 252.79h1.99v1.05h-1.99zM116.86 252.79h1.99v1.05h-1.99zM102.95 253.79h0.99v1.05h-0.99zM117.85 253.79h0.99v1.05h-0.99zM103.94 254.78h0.99v1.05h-0.99zM116.86 254.78h0.99v1.05h-0.99zM102.95 255.78h0.99v1.05h-0.99zM117.85 255.78h0.99v1.05h-0.99zM101.96 256.78h1.99v1.05h-1.99zM117.85 256.78h0.99v1.05h-0.99zM101.96 257.78h1.99v1.05h-1.99zM116.86 257.78h0.99v1.05h-0.99zM101.96 258.78h1.99v1.05h-1.99zM116.86 258.78h0.99v1.05h-0.99zM101.96 259.78h1.99v1.05h-1.99zM116.86 259.78h0.99v1.05h-0.99zM102.95 260.77h0.99v1.05h-0.99zM116.86 260.77h0.99v1.05h-0.99zM102.95 261.77h1.99v1.05h-1.99zM116.86 261.77h0.99v1.05h-0.99zM101.96 262.77h1.99v1.05h-1.99zM116.86 262.77h1.99v1.05h-1.99zM102.95 263.77h0.99v1.05h-0.99zM116.86 263.77h0.99v1.05h-0.99zM102.95 264.77h0.99v1.05h-0.99zM116.86 264.77h1.99v1.05h-1.99zM101.96 265.76h1.99v1.05h-1.99zM115.86 265.76h1.99v1.05h-1.99zM101.96 266.76h1.99v1.05h-1.99zM116.86 266.76h1.99v1.05h-1.99zM101.96 267.76h1.99v1.05h-1.99zM116.86 267.76h1.99v1.05h-1.99zM101.96 268.76h0.99v1.05h-0.99zM116.86 268.76h0.99v1.05h-0.99zM102.95 269.76h0.99v1.05h-0.99zM117.85 269.76h0.99v1.05h-0.99zM102.95 270.76h0.99v1.05h-0.99zM117.85 270.76h0.99v1.05h-0.99zM102.95 271.75h0.99v1.05h-0.99zM117.85 271.75h0.99v1.05h-0.99zM103.94 272.75h0.99v1.05h-0.99zM116.86 272.75h0.99v1.05h-0.99zM102.95 273.75h0.99v1.05h-0.99zM117.85 273.75h0.99v1.05h-0.99zM102.95 274.75h0.99v1.05h-0.99zM116.86 274.75h0.99v1.05h-0.99zM101.96 275.75h0.99v1.05h-0.99zM116.86 275.75h1.99v1.05h-1.99zM102.95 276.75h0.99v1.05h-0.99zM115.86 276.75h0.99v1.05h-0.99zM103.94 277.74h0.99v1.05h-0.99zM116.86 277.74h0.99v1.05h-0.99zM102.95 278.74h0.99v1.05h-0.99zM117.85 278.74h0.99v1.05h-0.99zM102.95 279.74h1.99v1.05h-1.99zM117.85 279.74h0.99v1.05h-0.99zM101.96 280.74h1.99v1.05h-1.99zM116.86 280.74h1.99v1.05h-1.99zM102.95 281.74h0.99v1.05h-0.99zM116.86 281.74h1.99v1.05h-1.99zM101.96 282.74h1.99v1.05h-1.99zM116.86 282.74h0.99v1.05h-0.99zM101.96 283.73h0.99v1.05h-0.99zM115.86 283.73h1.99v1.05h-1.99zM102.95 284.73h0.99v1.05h-0.99zM115.86 284.73h1.99v1.05h-1.99zM102.95 285.73h0.99v1.05h-0.99zM116.86 285.73h0.99v1.05h-0.99zM101.96 286.73h1.99v1.05h-1.99zM116.86 286.73h1.99v1.05h-1.99zM103.94 287.73h0.99v1.05h-0.99zM117.85 287.73h1.99v1.05h-1.99zM102.95 288.72h0.99v1.05h-0.99zM117.85 288.72h0.99v1.05h-0.99zM103.94 289.72h0.99v1.05h-0.99zM116.86 289.72h1.99v1.05h-1.99zM102.95 290.72h0.99v1.05h-0.99zM116.86 290.72h1.99v1.05h-1.99zM103.94 291.72h0.99v1.05h-0.99zM117.85 291.72h0.99v1.05h-0.99zM102.95 292.72h1.99v1.05h-1.99zM101.96 293.72h1.99v1.05h-1.99zM117.85 293.72h0.99v1.05h-0.99zM102.95 294.71h1.99v1.05h-1.99zM116.86 294.71h1.99v1.05h-1.99zM102.95 295.71h0.99v1.05h-0.99zM116.86 295.71h0.99v1.05h-0.99zM102.95 296.71h1.99v1.05h-1.99zM117.85 296.71h0.99v1.05h-0.99zM101.96 297.71h1.99v1.05h-1.99zM116.86 297.71h0.99v1.05h-0.99zM102.95 298.71h0.99v1.05h-0.99zM116.86 298.71h1.99v1.05h-1.99zM101.96 299.71h0.99v1.05h-0.99zM116.86 299.71h0.99v1.05h-0.99zM102.95 300.70h0.99v1.05h-0.99zM116.86 300.70h0.99v1.05h-0.99zM101.96 301.70h0.99v1.05h-0.99zM116.86 301.70h0.99v1.05h-0.99z"/>
<path fill="#22a884" d="M104.94 245.80h0.99v1.05h-0.99zM118.84 245.80h0.99v1.05h-0.99zM103.94 246.80h0.99v1.05h-0.99zM118.84 246.80h0.99v1.05h-0.99zM103.94 247.80h0.99v1.05h-0.99zM117.85 247.80h1.99v1.05h-1.99zM103.94 248.79h0.99v1.05h-0.99zM118.84 248.79h0.99v1.05h-0.99zM103.94 249.79h0.99v1.05h-0.99zM119.83 249.79h0.99v1.05h-0.99zM104.94 250.79h0.99v1.05h-0.99zM117.85 250.79h0.99v1.05h-0.99zM104.94 251.79h0.99v1.05h-0.99zM104.94 252.79h0.99v1.05h-0.99zM118.84 252.79h0.99v1.05h-0.99zM103.94 253.79h1.99v1.05h-1.99zM118.84 253.79h0.99v1.05h-0.99zM104.94 254.78h0.99v1.05h-0.99zM117.85 254.78h1.99v1.05h-1.99zM103.94 255.78h0.99v1.05h-0.99zM118.84 255.78h0.99v1.05h-0.99zM103.94 256.78h0.99v1.05h-0.99zM118.84 256.78h0.99v1.05h-0.99zM103.94 257.78h0.99v1.05h-0.99zM117.85 257.78h1.99v1.05h-1.99zM103.94 258.78h0.99v1.05h-0.99zM117.85 258.78h1.99v1.05h-1.99zM103.94 259.78h0.99v1.05h-0.99zM117.85 259.78h1.99v1.05h-1.99zM103.94 260.77h0.99v1.05h-0.99zM117.85 260.77h1.99v1.05h-1.99zM104.94 261.77h0.99v1.05h-0.99zM117.85 261.77h1.99v1.05h-1.99zM103.94 262.77h0.99v1.05h-0.99zM118.84 262.77h0.99v1.05h-0.99zM103.94 263.77h0.99v1.05h-0.99zM117.85 263.77h1.99v1.05h-1.99zM103.94 264.77h0.99v1.05h-0.99zM118.84 264.77h0.99v1.05h-0.99zM103.94 265.76h0.99v1.05h-0.99zM117.85 265.76h1.99v1.05h-1.99zM103.94 266.76h0.99v1.05h-0.99zM118.84 266.76h0.99v1.05h-0.99zM103.94 267.76h0.99v1.05h-0.99zM118.84 267.76h0.99v1.05h-0.99zM102.95 268.76h1.99v1.05h-1.99zM117.85 268.76h1.99v1.05h-1.99zM103.94 269.76h1.99v1.05h-1.99zM118.84 269.76h0.99v1.05h-0.99zM103.94 270.76h1.99v1.05h-1.99zM118.84 270.76h0.99v1.05h-0.99zM103.94 271.75h0.99v1.05h-0.99zM118.84 271.75h1.99v1.05h-1.99zM104.94 272.75h0.99v1.05h-0.99zM117.85 272.75h1.99v1.05h-1.99zM103.94 273.75h1.99v1.05h-1.99zM118.84 273.75h1.99v1.05h-1.99zM103.94 274.75h0.99v1.05h-0.99zM117.85 274.75h1.99v1.05h-1.99zM102.95 275.75h1.99v1.05h-1.99zM118.84 275.75h0.99v1.05h-0.99zM103.94 276.75h0.99v1.05h-0.99zM116.86 276.75h1.99v1.05h-1.99zM104.94 277.74h0.99v1.05h-0.99zM117.85 277.74h1.99v1.05h-1.99zM103.94 278.74h0.99v1.05h-0.99zM118.84 278.74h0.99v1.05h-0.99zM104.94 279.74h0.99v1.05h-0.99zM118.84 279.74h1.99v1.05h-1.99zM103.94 280.74h0.99v1.05h-0.99zM118.84 280.74h0.99v1.05h-0.99zM103.94 281.74h0.99v1.05h-0.99zM118.84 281.74h0.99v1.05h-0.99zM103.94 282.74h0.99v1.05h-0.99zM117.85 282.74h1.99v1.05h-1.99zM102.95 283.73h1.99v1.05h-1.99zM117.85 283.73h0.99v1.05h-0.99zM103.94 284.73h0.99v1.05h-0.99zM117.85 284.73h0.99v1.05h-0.99zM103.94 285.73h0.99v1.05h-0.99zM117.85 285.73h1.99v1.05h-1.99zM103.94 286.73h0.99v1.05h-0.99zM118.84 286.73h0.99v1.05h-0.99zM104.94 287.73h0.99v1.05h-0.99zM119.83 287.73h0.99v1.05h-0.99zM103.94 288.72h0.99v1.05h-0.99zM118.84 288.72h0.99v1.05h-0.99zM104.94 289.72h0.99v1.05h-0.99zM118.84 289.72h0.99v1.05h-0.99zM103.94 290.72h0.99v1.05h-0.99zM118.84 290.72h0.99v1.05h-0.99zM104.94 291.72h0.99v1.05h-0.99zM118.84 291.72h1.99v1.05h-1.99zM104.94 292.72h0.99v1.05h-0.99zM103.94 293.72h0.99v1.05h-0.99zM118.84 293.72h1.99v1.05h-1.99zM104.94 294.71h0.99v1.05h-0.99zM118.84 294.71h0.99v1.05h-0.99zM103.94 295.71h1.99v1.05h-1.99zM117.85 295.71h1.99v1.05h-1.99zM104.94 296.71h0.99v1.05h-0.99zM118.84 296.71h1.99v1.05h-1.99zM103.94 297.71h0.99v1.05h-0.99zM117.85 297.71h1.99v1.05h-1.99zM103.94 298.71h1.99v1.05h-1.99zM118.84 298.71h0.99v1.05h-0.99zM102.95 299.71h0.99v1.05h-0.99zM117.85 299.71h0.99v1.05h-0.99zM103.94 300.70h0.99v1.05h-0.99zM117.85 300.70h1.99v1.05h-1.99zM102.95 301.70h0.99v1.05h-0.99zM117.85 301.70h1.99v1.05h-1.99z"/>
<path fill="#44bf70" d="M105.93 245.80h0.99v1.05h-0.99zM119.83 245.80h0.99v1.05h-0.99zM104.94 246.80h1.99v1.05h-1.99zM119.83 246.80h1.99v1.05h-1.99zM104.94 247.80h0.99v1.05h-0.99zM119.83 247.80h0.99v1.05h-0.99zM104.94 248.79h0.99v1.05h-0.99zM119.83 248.79h1.99v1.05h-1.99zM104.94 249.79h1.99v1.05h-1.99zM120.83 249.79h0.99v1.05h-0.99zM105.93 250.79h0.99v1.05h-0.99zM118.84 250.79h1.99v1.05h-1.99zM105.93 251.79h0.99v1.05h-0.99zM119.83 251.79h1.99v1.05h-1.99zM105.93 252.79h0.99v1.05h-0.99zM119.83 252.79h0.99v1.05h-0.99zM105.93 253.79h0.99v1.05h-0.99zM119.83 253.79h1.99v1.05h-1.99zM105.93 254.78h0.99v1.05h-0.99zM119.83 254.78h0.99v1.05h-0.99zM104.94 255.78h1.99v1.05h-1.99zM119.83 255.78h1.99v1.05h-1.99zM104.94 256.78h0.99v1.05h-0.99zM119.83 256.78h0.99v1.05h-0.99zM104.94 257.78h0.99v1.05h-0.99zM119.83 257.78h0.99v1.05h-0.99zM104.94 258.78h0.99v1.05h-0.99zM119.83 258.78h1.99v1.05h-1.99zM104.94 259.78h0.99v1.05h-0.99zM119.83 259.78h0.99v1.05h-0.99zM104.94 260.77h1.99v1.05h-1.99zM119.83 260.77h0.99v1.05h-0.99zM105.93 261.77h0.99v1.05h-0.99zM119.83 261.77h0.99v1.05h-0.99zM104.94 262.77h1.99v1.05h-1.99zM119.83 262.77h1.99v1.05h-1.99zM104.94 263.77h1.99v1.05h-1.99zM119.83 263.77h0.99v1.05h-0.99zM104.94 264.77h1.99v1.05h-1.99zM119.83 264.77h1.99v1.05h-1.99zM104.94 265.76h1.99v1.05h-1.99zM119.83 265.76h0.99v1.05h-0.99zM104.94 266.76h1.99v1.05h-1.99zM119.83 266.76h1.99v1.05h-1.99zM104.94 267.76h0.99v1.05h-0.99zM119.83 267.76h0.99v1.05h-0.99zM104.94 268.76h0.99v1.05h-0.99zM119.83 268.76h1.99v1.05h-1.99zM105.93 269.76h0.99v1.05h-0.99zM119.83 269.76h1.99v1.05h-1.99zM105.93 270.76h0.99v1.05h-0.99zM119.83 270.76h1.99v1.05h-1.99zM104.94 271.75h0.99v1.05h-0.99zM120.83 271.75h0.99v1.05h-0.99zM105.93 272.75h0.99v1.05h-0.99zM119.83 272.75h0.99v1.05h-0.99zM105.93 273.75h0.99v1.05h-0.99zM120.83 273.75h0.99v1.05h-0.99zM104.94 274.75h1.99v1.05h-1.99zM119.83 274.75h0.99v1.05h-0.99zM104.94 275.75h0.99v1.05h-0.99zM119.83 275.75h1.99v1.05h-1.99zM104.94 276.75h0.99v1.05h-0.99zM118.84 276.75h1.99v1.05h-1.99zM105.93 277.74h0.99v1.05h-0.99zM119.83 277.74h0.99v1.05h-0.99zM104.94 278.74h1.99v1.05h-1.99zM119.83 278.74h0.99v1.05h-0.99zM105.93 279.74h0.99v1.05h-0.99zM120.83 279.74h0.99v1.05h-0.99zM104.94 280.74h0.99v1.05h-0.99zM119.83 280.74h0.99v1.05h-0.99zM104.94 281.74h1.99v1.05h-1.99zM119.83 281.74h0.99v1.05h-0.99zM104.94 282.74h0.99v1.05h-0.99zM119.83 282.74h0.99v1.05h-0.99zM104.94 283.73h0.99v1.05h-0.99zM118.84 283.73h1.99v1.05h-1.99zM104.94 284.73h1.99v1.05h-1.99zM118.84 284.73h1.99v1.05h-1.99zM104.94 285.73h1.99v1.05h-1.99zM119.83 285.73h0.99v1.05h-0.99zM104.94 286.73h0.99v1.05h-0.99zM119.83 286.73h1.99v1.05h-1.99zM105.93 287.73h0.99v1.05h-0.99zM120.83 287.73h0.99v1.05h-0.99zM104.94 288.72h1.99v1.05h-1.99zM119.83 288.72h0.99v1.05h-0.99zM105.93 289.72h0.99v1.05h-0.99zM119.83 289.72h1.99v1.05h-1.99zM104.94 290.72h1.99v1.05h-1.99zM119.83 290.72h0.99v1.05h-0.99zM105.93 291.72h0.99v1.05h-0.99zM120.83 291.72h0.99v1.05h-0.99zM105.93 292.72h0.99v1.05h-0.99zM104.94 293.72h0.99v1.05h-0.99zM120.83 293.72h0.99v1.05h-0.99zM105.93 294.71h0.99v1.05h-0.99zM119.83 294.71h0.99v1.05h-0.99zM105.93 295.71h0.99v1.05h-0.99zM119.83 295.71h0.99v1.05h-0.99zM105.93 296.71h0.99v1.05h-0.99zM120.83 296.71h0.99v1.05h-0.99zM104.94 297.71h0.99v1.05h-0.99zM119.83 297.71h0.99v1.05h-0.99zM105.93 298.71h0.99v1.05h-0.99zM119.83 298.71h0.99v1.05h-0.99zM103.94 299.71h1.99v1.05h-1.99zM118.84 299.71h1.99v1.05h-1.99zM104.94 300.70h1.99v1.05h-1.99zM119.83 300.70h0.99v1.05h-0.99zM103.94 301.70h1.99v1.05h-1.99zM119.83 301.70h1.99v1.05h-1.99z"/>
<path fill="#7ad151" d="M106.92 245.80h0.99v1.05h-0.99zM120.83 245.80h1.99v1.05h-1.99zM121.82 246.80h0.99v1.05h-0.99zM105.93 247.80h1.99v1.05h-1.99zM120.83 247.80h1.99v1.05h-1.99zM105.93 248.79h1.99v1.05h-1.99zM121.82 248.79h0.99v1.05h-0.99zM106.92 249.79h0.99v1.05h-0.99zM121.82 249.79h0.99v1.05h-0.99zM106.92 250.79h0.99v1.05h-0.99zM120.83 250.79h1.99v1.05h-1.99zM106.92 251.79h0.99v1.05h-0.99zM121.82 251.79h0.99v1.05h-0.99zM106.92 252.79h0.99v1.05h-0.99zM120.83 252.79h1.99v1.05h-1.99zM106.92 253.79h0.99v1.05h-0.99zM121.82 253.79h0.99v1.05h-0.99zM106.92 254.78h0.99v1.05h-0.99zM120.83 254.78h1.99v1.05h-1.99zM106.92 255.78h0.99v1.05h-0.99zM121.82 255.78h0.99v1.05h-0.99zM105.93 256.78h1.99v1.05h-1.99zM120.83 256.78h1.99v1.05h-1.99zM105.93 257.78h1.99v1.05h-1.99zM120.83 257.78h1.99v1.05h-1.99zM105.93 258.78h1.99v1.05h-1.99zM121.82 258.78h0.99v1.05h-0.99zM105.93 259.78h1.99v1.05h-1.99zM120.83 259.78h1.99v1.05h-1.99zM106.92 260.77h0.99v1.05h-0.99zM120.83 260.77h1.99v1.05h-1.99zM106.92 261.77h0.99v1.05h-0.99zM120.83 261.77h1.99v1.05h-1.99zM106.92 262.77h0.99v1.05h-0.99zM121.82 262.77h0.99v1.05h-0.99zM106.92 263.77h0.99v1.05h-0.99zM120.83 263.77h1.99v1.05h-1.99zM106.92 264.77h0.99v1.05h-0.99zM121.82 264.77h0.99v1.05h-0.99zM106.92 265.76h0.99v1.05h-0.99zM120.83 265.76h1.99v1.05h-1.99zM106.92 266.76h0.99v1.05h-0.99zM121.82 266.76h0.99v1.05h-0.99zM105.93 267.76h1.99v1.05h-1.99zM120.83 267.76h1.99v1.05h-1.99zM105.93 268.76h1.99v1.05h-1.99zM121.82 268.76h0.99v1.05h-0.99zM106.92 269.76h0.99v1.05h-0.99zM121.82 269.76h0.99v1.05h-0.99zM106.92 270.76h0.99v1.05h-0.99zM121.82 270.76h0.99v1.05h-0.99zM105.93 271.75h1.99v1.05h-1.99zM121.82 271.75h0.99v1.05h-0.99zM106.92 272.75h0.99v1.05h-0.99zM120.83 272.75h1.99v1.05h-1.99zM106.92 273.75h0.99v1.05h-0.99zM121.82 273.75h0.99v1.05h-0.99zM106.92 274.75h0.99v1.05h-0.99zM120.83 274.75h1.99v1.05h-1.99zM105.93 275.75h1.99v1.05h-1.99zM121.82 275.75h0.99v1.05h-0.99zM105.93 276.75h1.99v1.05h-1.99zM120.83 276.75h1.99v1.05h-1.99zM106.92 277.74h0.99v1.05h-0.99zM120.83 277.74h1.99v1.05h-1.99zM106.92 278.74h0.99v1.05h-0.99zM120.83 278.74h1.99v1.05h-1.99zM106.92 279.74h0.99v1.05h-0.99zM121.82 279.74h0.99v1.05h-0.99zM105.93 280.74h1.99v1.05h-1.99zM120.83 280.74h1.99v1.05h-1.99zM106.92 281.74h0.99v1.05h-0.99zM120.83 281.74h1.99v1.05h-1.99zM105.93 282.74h1.99v1.05h-1.99zM120.83 282.74h1.99v1.05h-1.99zM105.93 283.73h1.99v1.05h-1.99zM120.83 283.73h1.99v1.05h-1.99zM106.92 284.73h0.99v1.05h-0.99zM120.83 284.73h0.99v1.05h-0.99zM106.92 285.73h0.99v1.05h-0.99zM120.83 285.73h1.99v1.05h-1.99zM105.93 286.73h1.99v1.05h-1.99zM121.82 286.73h0.99v1.05h-0.99zM106.92 287.73h0.99v1.05h-0.99zM121.82 287.73h0.99v1.05h-0.99zM106.92 288.72h0.99v1.05h-0.99zM120.83 288.72h1.99v1.05h-1.99zM106.92 289.72h1.99v1.05h-1.99zM121.82 289.72h0.99v1.05h-0.99zM106.92 290.72h0.99v1.05h-0.99zM120.83 290.72h1.99v1.05h-1.99zM106.92 291.72h0.99v1.05h-0.99zM121.82 291.72h0.99v1.05h-0.99zM106.92 292.72h0.99v1.05h-0.99zM105.93 293.72h1.99v1.05h-1.99zM121.82 293.72h0.99v1.05h-0.99zM106.92 294.71h0.99v1.05h-0.99zM120.83 294.71h1.99v1.05h-1.99zM106.92 295.71h0.99v1.05h-0.99zM120.83 295.71h1.99v1.05h-1.99zM106.92 296.71h0.99v1.05h-0.99zM121.82 296.71h0.99v1.05h-0.99zM105.93 297.71h1.99v1.05h-1.99zM120.83 297.71h1.99v1.05h-1.99zM106.92 298.71h0.99v1.05h-0.99zM120.83 298.71h1.99v1.05h-1.99zM105.93 299.71h1.99v1.05h-1.99zM120.83 299.71h0.99v1.05h-0.99zM106.92 300.70h0.99v1.05h-0.99zM120.83 300.70h1.99v1.05h-1.99zM105.93 301.70h0.99v1.05h-0.99zM121.82 301.70h0.99v1.05h-0.99z"/>
<path fill="#bddf26" d="M107.92 245.80h0.99v1.05h-0.99zM122.81 245.80h0.99v1.05h-0.99zM122.81 246.80h0.99v1.05h-0.99zM107.92 247.80h0.99v1.05h-0.99zM122.81 247.80h0.99v1.05h-0.99zM107.92 248.79h0.99v1.05h-0.99zM122.81 248.79h0.99v1.05h-0.99zM107.92 249.79h0.99v1.05h-0.99zM122.81 249.79h1.99v1.05h-1.99zM107.92 250.79h0.99v1.05h-0.99zM122.81 250.79h0.99v1.05h-0.99zM107.92 251.79h0.99v1.05h-0.99zM122.81 251.79h1.99v1.05h-1.99zM107.92 252.79h0.99v1.05h-0.99zM122.81 252.79h0.99v1.05h-0.99zM107.92 253.79h0.99v1.05h-0.99zM122.81 253.79h1.99v1.05h-1.99zM107.92 254.78h1.99v1.05h-1.99zM122.81 254.78h0.99v1.05h-0.99zM107.92 255.78h0.99v1.05h-0.99zM122.81 255.78h0.99v1.05h-0.99zM107.92 256.78h1.99v1.05h-1.99zM122.81 256.78h0.99v1.05h-0.99zM107.92 257.78h0.99v1.05h-0.99zM122.81 257.78h0.99v1.05h-0.99zM107.92 258.78h0.99v1.05h-0.99zM122.81 258.78h0.99v1.05h-0.99zM107.92 259.78h0.99v1.05h-0.99zM122.81 259.78h0.99v1.05h-0.99zM107.92 260.77h0.99v1.05h-0.99zM122.81 260.77h0.99v1.05h-0.99zM107.92 261.77h0.99v1.05h-0.99zM122.81 261.77h0.99v1.05h-0.99zM107.92 262.77h0.99v1.05h-0.99zM122.81 262.77h0.99v1.05h-0.99zM107.92 263.77h0.99v1.05h-0.99zM122.81 263.77h0.99v1.05h-0.99zM107.92 264.77h0.99v1.05h-0.99zM122.81 264.77h1.99v1.05h-1.99zM107.92 265.76h0.99v1.05h-0.99zM122.81 265.76h0.99v1.05h-0.99zM107.92 266.76h1.99v1.05h-1.99zM122.81 266.76h0.99v1.05h-0.99zM107.92 267.76h0.99v1.05h-0.99zM122.81 267.76h0.99v1.05h-0.99zM107.92 268.76h0.99v1.05h-0.99zM122.81 268.76h0.99v1.05h-0.99zM107.92 269.76h0.99v1.05h-0.99zM122.81 269.76h0.99v1.05h-0.99zM107.92 270.76h0.99v1.05h-0.99zM122.81 270.76h0.99v1.05h-0.99zM107.92 271.75h0.99v1.05h-0.99zM122.81 271.75h0.99v1.05h-0.99zM107.92 272.75h1.99v1.05h-1.99zM122.81 272.75h0.99v1.05h-0.99zM107.92 273.75h1.99v1.05h-1.99zM122.81 273.75h0.99v1.05h-0.99zM107.92 274.75h0.99v1.05h-0.99zM122.81 274.75h0.99v1.05h-0.99zM107.92 275.75h0.99v1.05h-0.99zM122.81 275.75h0.99v1.05h-0.99zM107.92 276.75h0.99v1.05h-0.99zM122.81 276.75h0.99v1.05h-0.99zM107.92 277.74h0.99v1.05h-0.99zM122.81 277.74h0.99v1.05h-0.99zM107.92 278.74h0.99v1.05h-0.99zM122.81 278.74h0.99v1.05h-0.99zM107.92 279.74h0.99v1.05h-0.99zM122.81 279.74h0.99v1.05h-0.99zM107.92 280.74h0.99v1.05h-0.99zM122.81 280.74h0.99v1.05h-0.99zM107.92 281.74h0.99v1.05h-0.99zM122.81 281.74h0.99v1.05h-0.99zM107.92 282.74h0.99v1.05h-0.99zM122.81 282.74h0.99v1.05h-0.99zM107.92 283.73h0.99v1.05h-0.99zM122.81 283.73h0.99v1.05h-0.99zM107.92 284.73h1.99v1.05h-1.99zM121.82 284.73h1.99v1.05h-1.99zM107.92 285.73h0.99v1.05h-0.99zM122.81 285.73h0.99v1.05h-0.99zM107.92 286.73h0.99v1.05h-0.99zM122.81 286.73h0.99v1.05h-0.99zM107.92 287.73h1.99v1.05h-1.99zM122.81 287.73h0.99v1.05h-0.99zM107.92 288.72h1.99v1.05h-1.99zM122.81 288.72h0.99v1.05h-0.99zM122.81 289.72h0.99v1.05h-0.99zM107.92 290.72h0.99v1.05h-0.99zM122.81 290.72h0.99v1.05h-0.99zM107.92 291.72h0.99v1.05h-0.99zM122.81 291.72h1.99v1.05h-1.99zM107.92 292.72h0.99v1.05h-0.99zM107.92 293.72h0.99v1.05h-0.99zM122.81 293.72h0.99v1.05h-0.99zM107.92 294.71h0.99v1.05h-0.99zM122.81 294.71h0.99v1.05h-0.99zM107.92 295.71h0.99v1.05h-0.99zM122.81 295.71h0.99v1.05h-0.99zM107.92 296.71h0.99v1.05h-0.99zM122.81 296.71h0.99v1.05h-0.99zM107.92 297.71h0.99v1.05h-0.99zM122.81 297.71h0.99v1.05h-0.99zM107.92 298.71h0.99v1.05h-0.99zM122.81 298.71h0.99v1.05h-0.99zM107.92 299.71h0.99v1.05h-0.99zM121.82 299.71h1.99v1.05h-1.99zM107.92 300.70h1.99v1.05h-1.99zM122.81 300.70h0.99v1.05h-0.99zM106.92 301.70h1.99v1.05h-1.99zM122.81 301.70h0.99v1.05h-0.99z"/>
<path fill="#fde725" d="M108.91 245.80h0.99v1.05h-0.99zM123.81 245.80h0.99v1.05h-0.99zM108.91 246.80h0.99v1.05h-0.99zM123.81 246.80h0.99v1.05h-0.99zM108.91 247.80h0.99v1.05h-0.99zM123.81 247.80h0.99v1.05h-0.99zM108.91 248.79h0.99v1.05h-0.99zM123.81 248.79h0.99v1.05h-0.99zM108.91 249.79h0.99v1.05h-0.99zM108.91 250.79h0.99v1.05h-0.99zM123.81 250.79h0.99v1.05h-0.99zM108.91 251.79h0.99v1.05h-0.99zM108.91 252.79h0.99v1.05h-0.99zM123.81 252.79h0.99v1.05h-0.99zM108.91 253.79h0.99v1.05h-0.99zM123.81 254.78h0.99v1.05h-0.99zM108.91 255.78h0.99v1.05h-0.99zM123.81 255.78h0.99v1.05h-0.99zM123.81 256.78h0.99v1.05h-0.99zM108.91 257.78h0.99v1.05h-0.99zM123.81 257.78h0.99v1.05h-0.99zM108.91 258.78h0.99v1.05h-0.99zM123.81 258.78h0.99v1.05h-0.99zM108.91 259.78h0.99v1.05h-0.99zM123.81 259.78h0.99v1.05h-0.99zM108.91 260.77h0.99v1.05h-0.99zM123.81 260.77h0.99v1.05h-0.99zM108.91 261.77h0.99v1.05h-0.99zM123.81 261.77h0.99v1.05h-0.99zM108.91 262.77h0.99v1.05h-0.99zM123.81 262.77h0.99v1.05h-0.99zM108.91 263.77h0.99v1.05h-0.99zM123.81 263.77h0.99v1.05h-0.99zM108.91 264.77h0.99v1.05h-0.99zM108.91 265.76h0.99v1.05h-0.99zM123.81 265.76h0.99v1.05h-0.99zM123.81 266.76h0.99v1.05h-0.99zM108.91 267.76h0.99v1.05h-0.99zM123.81 267.76h0.99v1.05h-0.99zM108.91 268.76h0.99v1.05h-0.99zM123.81 268.76h0.99v1.05h-0.99zM108.91 269.76h0.99v1.05h-0.99zM123.81 269.76h0.99v1.05h-0.99zM108.91 270.76h0.99v1.05h-0.99zM123.81 270.76h0.99v1.05h-0.99zM108.91 271.75h0.99v1.05h-0.99zM123.81 271.75h0.99v1.05h-0.99zM123.81 272.75h0.99v1.05h-0.99zM123.81 273.75h0.99v1.05h-0.99zM108.91 274.75h0.99v1.05h-0.99zM123.81 274.75h0.99v1.05h-0.99zM108.91 275.75h0.99v1.05h-0.99zM123.81 275.75h0.99v1.05h-0.99zM108.91 276.75h0.99v1.05h-0.99zM123.81 276.75h0.99v1.05h-0.99zM108.91 277.74h0.99v1.05h-0.99zM123.81 277.74h0.99v1.05h-0.99zM108.91 278.74h0.99v1.05h-0.99zM123.81 278.74h0.99v1.05h-0.99zM108.91 279.74h0.99v1.05h-0.99zM123.81 279.74h0.99v1.05h-0.99zM108.91 280.74h0.99v1.05h-0.99zM123.81 280.74h0.99v1.05h-0.99zM108.91 281.74h0.99v1.05h-0.99zM123.81 281.74h0.99v1.05h-0.99zM108.91 282.74h0.99v1.05h-0.99zM123.81 282.74h0.99v1.05h-0.99zM108.91 283.73h0.99v1.05h-0.99zM123.81 283.73h0.99v1.05h-0.99zM123.81 284.73h0.99v1.05h-0.99zM108.91 285.73h0.99v1.05h-0.99zM123.81 285.73h0.99v1.05h-0.99zM108.91 286.73h0.99v1.05h-0.99zM123.81 286.73h0.99v1.05h-0.99zM123.81 287.73h0.99v1.05h-0.99zM123.81 288.72h0.99v1.05h-0.99zM108.91 289.72h0.99v1.05h-0.99zM123.81 289.72h0.99v1.05h-0.99zM108.91 290.72h0.99v1.05h-0.99zM123.81 290.72h0.99v1.05h-0.99zM108.91 291.72h0.99v1.05h-0.99zM108.91 292.72h0.99v1.05h-0.99zM123.81 292.72h0.99v1.05h-0.99zM108.91 293.72h0.99v1.05h-0.99zM123.81 293.72h0.99v1.05h-0.99zM108.91 294.71h0.99v1.05h-0.99zM123.81 294.71h0.99v1.05h-0.99zM108.91 295.71h0.99v1.05h-0.99zM123.81 295.71h0.99v1.05h-0.99zM108.91 296.71h0.99v1.05h-0.99zM123.81 296.71h0.99v1.05h-0.99zM108.91 297.71h0.99v1.05h-0.99zM123.81 297.71h0.99v1.05h-0.99zM108.91 298.71h0.99v1.05h-0.99zM123.81 298.71h0.99v1.05h-0.99zM108.91 299.71h0.99v1.05h-0.99zM123.81 299.71h0.99v1.05h-0.99zM123.81 300.70h0.99v1.05h-0.99zM108.91 301.70h0.99v1.05h-0.99zM123.81 301.70h0.99v1.05h-0.99z"/>
<path fill="#ffffff" d="M106.92 246.80h1.99v1.05h-1.99zM116.86 292.72h6.95v1.05h-6.95z"/>
<path fill="#440154" d="M136.40 245.80h3.00v1.05h-3.00zM150.40 245.80h1.00v1.05h-1.00zM155.40 245.80h1.00v1.05h-1.00zM157.40 245.80h2.00v1.05h-2.00zM160.40 245.80h1.00v1.05h-1.00zM135.40 246.80h3.00v1.05h-3.00zM151.40 246.80h2.00v1.05h-2.00zM161.40 246.80h1.00v1.05h-1.00zM135.40 247.80h3.00v1.05h-3.00zM150.40 247.80h4.00v1.05h-4.00zM155.40 247.80h1.00v1.05h-1.00zM157.40 247.80h1.00v1.05h-1.00zM159.40 247.80h1.00v1.05h-1.00zM161.40 247.80h1.00v1.05h-1.00zM135.40 248.79h1.00v1.05h-1.00zM137.40 248.79h1.00v1.05h-1.00zM150.40 248.79h3.00v1.05h-3.00zM156.40 248.79h1.00v1.05h-1.00zM160.40 248.79h1.00v1.05h-1.00zM135.40 249.79h1.00v1.05h-1.00zM137.40 249.79h1.00v1.05h-1.00zM150.40 249.79h3.00v1.05h-3.00zM155.40 249.79h2.00v1.05h-2.00zM159.40 249.79h1.00v1.05h-1.00zM161.40 249.79h1.00v1.05h-1.00zM135.40 250.79h2.00v1.05h-2.00zM150.40 250.79h3.00v1.05h-3.00zM135.40 251.79h1.00v1.05h-1.00zM150.40 251.79h3.00v1.05h-3.00zM136.40 252.79h1.00v1.05h-1.00zM150.40 252.79h2.00v1.05h-2.00zM135.40 253.79h1.00v1.05h-1.00zM137.40 253.79h1.00v1.05h-1.00zM150.40 253.79h3.00v1.05h-3.00zM135.40 254.78h2.00v1.05h-2.00zM150.40 254.78h1.00v1.05h-1.00zM135.40 255.78h1.00v1.05h-1.00zM151.40 255.78h1.00v1.05h-1.00zM135.40 256.78h1.00v1.05h-1.00zM135.40 257.78h2.00v1.05h-2.00zM150.40 257.78h2.00v1.05h-2.00zM135.40 258.78h2.00v1.05h-2.00zM150.40 258.78h1.00v1.05h-1.00zM135.40 259.78h1.00v1.05h-1.00zM150.40 259.78h1.00v1.05h-1.00zM151.40 260.77h1.00v1.05h-1.00zM150.40 262.77h1.00v1.05h-1.00zM135.40 263.77h1.00v1.05h-1.00zM150.40 263.77h1.00v1.05h-1.00zM135.40 264.77h1.00v1.05h-1.00zM150.40 264.77h1.00v1.05h-1.00zM135.40 265.76h1.00v1.05h-1.00zM136.40 268.76h1.00v1.05h-1.00zM138.40 268.76h1.00v1.05h-1.00zM150.40 268.76h3.00v1.05h-3.00zM136.40 269.76h1.00v1.05h-1.00zM150.40 269.76h2.00v1.05h-2.00zM136.40 270.76h1.00v1.05h-1.00zM151.40 270.76h2.00v1.05h-2.00zM135.40 271.75h2.00v1.05h-2.00zM150.40 271.75h2.00v1.05h-2.00zM136.40 272.75h2.00v1.05h-2.00zM151.40 272.75h1.00v1.05h-1.00zM136.40 273.75h1.00v1.05h-1.00zM150.40 273.75h2.00v1.05h-2.00zM135.40 274.75h2.00v1.05h-2.00zM150.40 274.75h2.00v1.05h-2.00zM135.40 275.75h1.00v1.05h-1.00zM150.40 275.75h3.00v1.05h-3.00zM136.40 276.75h1.00v1.05h-1.00zM150.40 276.75h3.00v1.05h-3.00zM135.40 277.74h1.00v1.05h-1.00zM150.40 277.74h3.00v1.05h-3.00zM135.40 278.74h3.00v1.05h-3.00zM151.40 278.74h1.00v1.05h-1.00zM136.40 279.74h1.00v1.05h-1.00zM136.40 280.74h2.00v1.05h-2.00zM150.40 280.74h2.00v1.05h-2.00zM135.40 281.74h1.00v1.05h-1.00zM150.40 281.74h1.00v1.05h-1.00zM135.40 282.74h1.00v1.05h-1.00zM150.40 282.74h2.00v1.05h-2.00zM136.40 283.73h1.00v1.05h-1.00zM150.40 283.73h1.00v1.05h-1.00zM135.40 284.73h1.00v1.05h-1.00zM135.40 285.73h1.00v1.05h-1.00zM150.40 285.73h1.00v1.05h-1.00zM135.40 286.73h1.00v1.05h-1.00zM150.40 286.73h1.00v1.05h-1.00zM150.40 288.72h1.00v1.05h-1.00zM150.40 289.72h1.00v1.05h-1.00zM135.40 291.72h1.00v1.05h-1.00zM135.40 292.72h1.00v1.05h-1.00zM135.40 293.72h3.00v1.05h-3.00zM150.40 293.72h3.00v1.05h-3.00zM136.40 294.71h2.00v1.05h-2.00zM150.40 294.71h3.00v1.05h-3.00zM135.40 295.71h3.00v1.05h-3.00zM150.40 295.71h1.00v1.05h-1.00zM152.40 295.71h1.00v1.05h-1.00zM135.40 296.71h2.00v1.05h-2.00zM135.40 297.71h2.00v1.05h-2.00zM150.40 297.71h1.00v1.05h-1.00zM135.40 298.71h2.00v1.05h-2.00zM150.40 298.71h2.00v1.05h-2.00zM150.40 299.71h1.00v1.05h-1.00zM135.40 301.70h1.00v1.05h-1.00z"/>
<path fill="#482475" d="M135.40 245.80h1.00v1.05h-1.00zM139.40 245.80h1.00v1.05h-1.00zM151.40 245.80h4.00v1.05h-4.00zM156.40 245.80h1.00v1.05h-1.00zM159.40 245.80h1.00v1.05h-1.00zM161.40 245.80h1.00v1.05h-1.00zM138.40 246.80h1.00v1.05h-1.00zM150.40 246.80h1.00v1.05h-1.00zM153.40 246.80h8.00v1.05h-8.00zM138.40 247.80h1.00v1.05h-1.00zM154.40 247.80h1.00v1.05h-1.00zM156.40 247.80h1.00v1.05h-1.00zM158.40 247.80h1.00v1.05h-1.00zM160.40 247.80h1.00v1.05h-1.00zM136.40 248.79h1.00v1.05h-1.00zM138.40 248.79h1.00v1.05h-1.00zM153.40 248.79h3.00v1.05h-3.00zM157.40 248.79h3.00v1.05h-3.00zM161.40 248.79h1.00v1.05h-1.00zM136.40 249.79h1.00v1.05h-1.00zM138.40 249.79h1.00v1.05h-1.00zM153.40 249.79h2.00v1.05h-2.00zM157.40 249.79h2.00v1.05h-2.00zM160.40 249.79h1.00v1.05h-1.00zM137.40 250.79h2.00v1.05h-2.00zM153.40 250.79h1.00v1.05h-1.00zM136.40 251.79h2.00v1.05h-2.00zM153.40 251.79h1.00v1.05h-1.00zM135.40 252.79h1.00v1.05h-1.00zM137.40 252.79h2.00v1.05h-2.00zM152.40 252.79h1.00v1.05h-1.00zM136.40 253.79h1.00v1.05h-1.00zM138.40 253.79h1.00v1.05h-1.00zM153.40 253.79h1.00v1.05h-1.00zM137.40 254.78h1.00v1.05h-1.00zM151.40 254.78h1.00v1.05h-1.00zM136.40 255.78h2.00v1.05h-2.00zM150.40 255.78h1.00v1.05h-1.00zM152.40 255.78h1.00v1.05h-1.00zM136.40 256.78h2.00v1.05h-2.00zM150.40 256.78h3.00v1.05h-3.00zM137.40 257.78h2.00v1.05h-2.00zM152.40 257.78h1.00v1.05h-1.00zM137.40 258.78h1.00v1.05h-1.00zM151.40 258.78h2.00v1.05h-2.00zM136.40 259.78h2.00v1.05h-2.00zM151.40 259.78h1.00v1.05h-1.00zM135.40 260.77h1.00v1.05h-1.00zM150.40 260.77h1.00v1.05h-1.00zM152.40 260.77h1.00v1.05h-1.00zM135.40 261.77h2.00v1.05h-2.00zM150.40 261.77h2.00v1.05h-2.00zM135.40 262.77h1.00v1.05h-1.00zM151.40 262.77h1.00v1.05h-1.00zM136.40 263.77h2.00v1.05h-2.00zM151.40 263.77h2.00v1.05h-2.00zM136.40 264.77h2.00v1.05h-2.00zM151.40 264.77h1.00v1.05h-1.00zM136.40 265.76h1.00v1.05h-1.00zM150.40 265.76h2.00v1.05h-2.00zM135.40 266.76h2.00v1.05h-2.00zM150.40 266.76h2.00v1.05h-2.00zM135.40 267.76h2.00v1.05h-2.00zM150.40 267.76h2.00v1.05h-2.00zM135.40 268.76h1.00v1.05h-1.00zM137.40 268.76h1.00v1.05h-1.00zM139.40 268.76h1.00v1.05h-1.00zM153.40 268.76h1.00v1.05h-1.00zM135.40 269.76h1.00v1.05h-1.00zM137.40 269.76h2.00v1.05h-2.00zM152.40 269.76h1.00v1.05h-1.00zM135.40 270.76h1.00v1.05h-1.00zM137.40 270.76h1.00v1.05h-1.00zM150.40 270.76h1.00v1.05h-1.00zM153.40 270.76h1.00v1.05h-1.00zM137.40 271.75h2.00v1.05h-2.00zM152.40 271.75h2.00v1.05h-2.00zM135.40 272.75h1.00v1.05h-1.00zM138.40 272.75h1.00v1.05h-1.00zM150.40 272.75h1.00v1.05h-1.00zM152.40 272.75h2.00v1.05h-2.00zM135.40 273.75h1.00v1.05h-1.00zM137.40 273.75h1.00v1.05h-1.00zM152.40 273.75h2.00v1.05h-2.00zM137.40 274.75h2.00v1.05h-2.00zM152.40 274.75h1.00v1.05h-1.00zM136.40 275.75h3.00v1.05h-3.00zM153.40 275.75h1.00v1.05h-1.00zM135.40 276.75h1.00v1.05h-1.00zM137.40 276.75h2.00v1.05h-2.00zM153.40 276.75h1.00v1.05h-1.00zM136.40 277.74h1.00v1.05h-1.00zM153.40 277.74h1.00v1.05h-1.00zM138.40 278.74h1.00v1.05h-1.00zM150.40 278.74h1.00v1.05h-1.00zM152.40 278.74h1.00v1.05h-1.00zM135.40 279.74h1.00v1.05h-1.00zM137.40 279.74h1.00v1.05h-1.00zM150.40 279.74h2.00v1.05h-2.00zM135.40 280.74h1.00v1.05h-1.00zM138.40 280.74h1.00v1.05h-1.00zM152.40 280.74h1.00v1.05h-1.00zM136.40 281.74h1.00v1.05h-1.00zM151.40 281.74h2.00v1.05h-2.00zM136.40 282.74h1.00v1.05h-1.00zM152.40 282.74h1.00v1.05h-1.00zM135.40 283.73h1.00v1.05h-1.00zM137.40 283.73h1.00v1.05h-1.00zM151.40 283.73h1.00v1.05h-1.00zM136.40 284.73h1.00v1.05h-1.00zM150.40 284.73h2.00v1.05h-2.00zM136.40 285.73h2.00v1.05h-2.00zM151.40 285.73h2.00v1.05h-2.00zM136.40 286.73h1.00v1.05h-1.00zM151.40 286.73h1.00v1.05h-1.00zM135.40 287.73h2.00v1.05h-2.00zM150.40 287.73h2.00v1.05h-2.00zM135.40 288.72h1.00v1.05h-1.00zM151.40 288.72h1.00v1.05h-1.00zM135.40 289.72h1.00v1.05h-1.00zM151.40 289.72h1.00v1.05h-1.00zM135.40 290.72h2.00v1.05h-2.00zM150.40 290.72h1.00v1.05h-1.00zM136.40 291.72h1.00v1.05h-1.00zM150.40 291.72h2.00v1.05h-2.00zM136.40 292.72h1.00v1.05h-1.00zM150.40 292.72h2.00v1.05h-2.00zM138.40 293.72h1.00v1.05h-1.00zM153.40 293.72h1.00v1.05h-1.00zM135.40 294.71h1.00v1.05h-1.00zM138.40 294.71h2.00v1.05h-2.00zM153.40 294.71h1.00v1.05h-1.00zM138.40 295.71h1.00v1.05h-1.00zM151.40 295.71h1.00v1.05h-1.00zM153.40 295.71h1.00v1.05h-1.00zM137.40 296.71h2.00v1.05h-2.00zM150.40 296.71h2.00v1.05h-2.00zM137.40 297.71h1.00v1.05h-1.00zM151.40 297.71h2.00v1.05h-2.00zM152.40 298.71h1.00v1.05h-1.00zM135.40 299.71h2.00v1.05h-2.00zM151.40 299.71h2.00v1.05h-2.00zM135.40 300.70h2.00v1.05h-2.00zM150.40 300.70h3.00v1.05h-3.00zM136.40 301.70h2.00v1.05h-2.00zM150.40 301.70h2.00v1.05h-2.00z"/>
<path fill="#414487" d="M140.40 245.80h1.00v1.05h-1.00zM139.40 246.80h1.00v1.05h-1.00zM139.40 247.80h1.00v1.05h-1.00zM139.40 248.79h1.00v1.05h-1.00zM139.40 249.79h2.00v1.05h-2.00zM139.40 250.79h1.00v1.05h-1.00zM154.40 250.79h1.00v1.05h-1.00zM138.40 251.79h2.00v1.05h-2.00zM154.40 251.79h1.00v1.05h-1.00zM139.40 252.79h1.00v1.05h-1.00zM153.40 252.79h2.00v1.05h-2.00zM139.40 253.79h1.00v1.05h-1.00zM154.40 253.79h1.00v1.05h-1.00zM138.40 254.78h1.00v1.05h-1.00zM152.40 254.78h2.00v1.05h-2.00zM138.40 255.78h1.00v1.05h-1.00zM153.40 255.78h1.00v1.05h-1.00zM138.40 256.78h1.00v1.05h-1.00zM153.40 256.78h1.00v1.05h-1.00zM139.40 257.78h1.00v1.05h-1.00zM153.40 257.78h1.00v1.05h-1.00zM138.40 258.78h2.00v1.05h-2.00zM153.40 258.78h1.00v1.05h-1.00zM138.40 259.78h1.00v1.05h-1.00zM152.40 259.78h2.00v1.05h-2.00zM136.40 260.77h2.00v1.05h-2.00zM153.40 260.77h2.00v1.05h-2.00zM137.40 261.77h1.00v1.05h-1.00zM152.40 261.77h2.00v1.05h-2.00zM136.40 262.77h2.00v1.05h-2.00zM152.40 262.77h1.00v1.05h-1.00zM138.40 263.77h1.00v1.05h-1.00zM153.40 263.77h1.00v1.05h-1.00zM138.40 264.77h2.00v1.05h-2.00zM152.40 264.77h2.00v1.05h-2.00zM137.40 265.76h2.00v1.05h-2.00zM152.40 265.76h2.00v1.05h-2.00zM137.40 266.76h1.00v1.05h-1.00zM152.40 266.76h1.00v1.05h-1.00zM137.40 267.76h2.00v1.05h-2.00zM152.40 267.76h1.00v1.05h-1.00zM140.40 268.76h1.00v1.05h-1.00zM154.40 268.76h2.00v1.05h-2.00zM139.40 269.76h1.00v1.05h-1.00zM153.40 269.76h1.00v1.05h-1.00zM138.40 270.76h1.00v1.05h-1.00zM154.40 270.76h1.00v1.05h-1.00zM139.40 271.75h1.00v1.05h-1.00zM154.40 271.75h1.00v1.05h-1.00zM139.40 272.75h2.00v1.05h-2.00zM154.40 272.75h1.00v1.05h-1.00zM138.40 273.75h1.00v1.05h-1.00zM139.40 274.75h1.00v1.05h-1.00zM153.40 274.75h2.00v1.05h-2.00zM139.40 275.75h1.00v1.05h-1.00zM154.40 275.75h1.00v1.05h-1.00zM139.40 276.75h1.00v1.05h-1.00zM154.40 276.75h1.00v1.05h-1.00zM137.40 277.74h2.00v1.05h-2.00zM154.40 277.74h1.00v1.05h-1.00zM139.40 278.74h2.00v1.05h-2.00zM153.40 278.74h2.00v1.05h-2.00zM138.40 279.74h2.00v1.05h-2.00zM152.40 279.74h2.00v1.05h-2.00zM139.40 280.74h2.00v1.05h-2.00zM153.40 280.74h1.00v1.05h-1.00zM137.40 281.74h1.00v1.05h-1.00zM153.40 281.74h1.00v1.05h-1.00zM137.40 282.74h1.00v1.05h-1.00zM153.40 282.74h1.00v1.05h-1.00zM138.40 283.73h1.00v1.05h-1.00zM152.40 283.73h2.00v1.05h-2.00zM137.40 284.73h2.00v1.05h-2.00zM152.40 284.73h1.00v1.05h-1.00zM138.40 285.73h2.00v1.05h-2.00zM153.40 285.73h1.00v1.05h-1.00zM137.40 286.73h1.00v1.05h-1.00zM152.40 286.73h2.00v1.05h-2.00zM137.40 287.73h2.00v1.05h-2.00zM152.40 287.73h1.00v1.05h-1.00zM136.40 288.72h2.00v1.05h-2.00zM152.40 288.72h1.00v1.05h-1.00zM136.40 289.72h2.00v1.05h-2.00zM152.40 289.72h1.00v1.05h-1.00zM137.40 290.72h1.00v1.05h-1.00zM151.40 290.72h2.00v1.05h-2.00zM137.40 291.72h2.00v1.05h-2.00zM152.40 291.72h2.00v1.05h-2.00zM137.40 292.72h2.00v1.05h-2.00zM152.40 292.72h2.00v1.05h-2.00zM139.40 293.72h2.00v1.05h-2.00zM154.40 293.72h2.00v1.05h-2.00zM140.40 294.71h1.00v1.05h-1.00zM154.40 294.71h1.00v1.05h-1.00zM139.40 295.71h1.00v1.05h-1.00zM154.40 295.71h1.00v1.05h-1.00zM139.40 296.71h1.00v1.05h-1.00zM152.40 296.71h2.00v1.05h-2.00zM138.40 297.71h2.00v1.05h-2.00zM153.40 297.71h2.00v1.05h-2.00zM137.40 298.71h2.00v1.05h-2.00zM153.40 298.71h1.00v1.05h-1.00zM137.40 299.71h2.00v1.05h-2.00zM153.40 299.71h1.00v1.05h-1.00zM137.40 300.70h1.00v1.05h-1.00zM153.40 300.70h1.00v1.05h-1.00zM138.40 301.70h1.00v1.05h-1.00zM152.40 301.70h1.00v1.05h-1.00z"/>
<path fill="#355f8d" d="M141.40 245.80h2.00v1.05h-2.00zM140.40 246.80h1.00v1.05h-1.00zM140.40 247.80h1.00v1.05h-1.00zM140.40 248.79h1.00v1.05h-1.00zM141.40 249.79h1.00v1.05h-1.00zM140.40 250.79h2.00v1.05h-2.00zM155.40 250.79h1.00v1.05h-1.00zM140.40 251.79h1.00v1.05h-1.00zM155.40 251.79h1.00v1.05h-1.00zM140.40 252.79h1.00v1.05h-1.00zM155.40 252.79h1.00v1.05h-1.00zM140.40 253.79h2.00v1.05h-2.00zM155.40 253.79h1.00v1.05h-1.00zM139.40 254.78h2.00v1.05h-2.00zM154.40 254.78h1.00v1.05h-1.00zM139.40 255.78h1.00v1.05h-1.00zM154.40 255.78h1.00v1.05h-1.00zM139.40 256.78h2.00v1.05h-2.00zM154.40 256.78h2.00v1.05h-2.00zM140.40 257.78h2.00v1.05h-2.00zM154.40 257.78h2.00v1.05h-2.00zM140.40 258.78h1.00v1.05h-1.00zM154.40 258.78h1.00v1.05h-1.00zM139.40 259.78h2.00v1.05h-2.00zM154.40 259.78h1.00v1.05h-1.00zM138.40 260.77h1.00v1.05h-1.00zM155.40 260.77h1.00v1.05h-1.00zM138.40 261.77h2.00v1.05h-2.00zM154.40 261.77h1.00v1.05h-1.00zM138.40 262.77h1.00v1.05h-1.00zM153.40 262.77h2.00v1.05h-2.00zM139.40 263.77h2.00v1.05h-2.00zM154.40 263.77h1.00v1.05h-1.00zM140.40 264.77h1.00v1.05h-1.00zM154.40 264.77h1.00v1.05h-1.00zM139.40 265.76h1.00v1.05h-1.00zM154.40 265.76h1.00v1.05h-1.00zM138.40 266.76h2.00v1.05h-2.00zM153.40 266.76h1.00v1.05h-1.00zM139.40 267.76h1.00v1.05h-1.00zM153.40 267.76h2.00v1.05h-2.00zM141.40 268.76h1.00v1.05h-1.00zM156.40 268.76h1.00v1.05h-1.00zM140.40 269.76h2.00v1.05h-2.00zM154.40 269.76h1.00v1.05h-1.00zM139.40 270.76h2.00v1.05h-2.00zM155.40 270.76h1.00v1.05h-1.00zM155.40 271.75h2.00v1.05h-2.00zM141.40 272.75h1.00v1.05h-1.00zM155.40 272.75h1.00v1.05h-1.00zM139.40 273.75h1.00v1.05h-1.00zM154.40 273.75h2.00v1.05h-2.00zM140.40 274.75h1.00v1.05h-1.00zM155.40 274.75h1.00v1.05h-1.00zM140.40 275.75h2.00v1.05h-2.00zM155.40 275.75h2.00v1.05h-2.00zM140.40 276.75h2.00v1.05h-2.00zM155.40 276.75h2.00v1.05h-2.00zM139.40 277.74h1.00v1.05h-1.00zM155.40 277.74h2.00v1.05h-2.00zM141.40 278.74h1.00v1.05h-1.00zM155.40 278.74h1.00v1.05h-1.00zM140.40 279.74h1.00v1.05h-1.00zM154.40 279.74h1.00v1.05h-1.00zM141.40 280.74h1.00v1.05h-1.00zM154.40 280.74h2.00v1.05h-2.00zM138.40 281.74h2.00v1.05h-2.00zM154.40 281.74h2.00v1.05h-2.00zM138.40 282.74h2.00v1.05h-2.00zM154.40 282.74h1.00v1.05h-1.00zM139.40 283.73h2.00v1.05h-2.00zM154.40 283.73h2.00v1.05h-2.00zM139.40 284.73h2.00v1.05h-2.00zM153.40 284.73h1.00v1.05h-1.00zM140.40 285.73h1.00v1.05h-1.00zM154.40 285.73h1.00v1.05h-1.00zM138.40 286.73h2.00v1.05h-2.00zM154.40 286.73h1.00v1.05h-1.00zM139.40 287.73h1.00v1.05h-1.00zM153.40 287.73h1.00v1.05h-1.00zM138.40 288.72h2.00v1.05h-2.00zM153.40 288.72h2.00v1.05h-2.00zM138.40 289.72h1.00v1.05h-1.00zM153.40 289.72h2.00v1.05h-2.00zM138.40 290.72h1.00v1.05h-1.00zM153.40 290.72h2.00v1.05h-2.00zM139.40 291.72h1.00v1.05h-1.00zM154.40 291.72h1.00v1.05h-1.00zM139.40 292.72h1.00v1.05h-1.00zM154.40 292.72h1.00v1.05h-1.00zM141.40 293.72h1.00v1.05h-1.00zM141.40 294.71h1.00v1.05h-1.00zM155.40 294.71h2.00v1.05h-2.00zM140.40 295.71h1.00v1.05h-1.00zM155.40 295.71h1.00v1.05h-1.00zM140.40 296.71h1.00v1.05h-1.00zM154.40 296.71h1.00v1.05h-1.00zM140.40 297.71h1.00v1.05h-1.00zM155.40 297.71h1.00v1.05h-1.00zM139.40 298.71h1.00v1.05h-1.00zM154.40 298.71h1.00v1.05h-1.00zM139.40 299.71h2.00v1.05h-2.00zM154.40 299.71h1.00v1.05h-1.00zM138.40 300.70h2.00v1.05h-2.00zM154.40 300.70h1.00v1.05h-1.00zM139.40 301.70h2.00v1.05h-2.00zM153.40 301.70h2.00v1.05h-2.00z"/>
<path fill="#2a788e" d="M143.40 245.80h1.00v1.05h-1.00zM141.40 246.80h1.00v1.05h-1.00zM141.40 247.80h1.00v1.05h-1.00zM141.40 248.79h2.00v1.05h-2.00zM142.40 249.79h1.00v1.05h-1.00zM142.40 250.79h1.00v1.05h-1.00zM156.40 250.79h2.00v1.05h-2.00zM141.40 251.79h1.00v1.05h-1.00zM156.40 251.79h2.00v1.05h-2.00zM141.40 252.79h2.00v1.05h-2.00zM156.40 252.79h1.00v1.05h-1.00zM142.40 253.79h1.00v1.05h-1.00zM156.40 253.79h1.00v1.05h-1.00zM141.40 254.78h1.00v1.05h-1.00zM155.40 254.78h1.00v1.05h-1.00zM140.40 255.78h2.00v1.05h-2.00zM155.40 255.78h2.00v1.05h-2.00zM141.40 256.78h1.00v1.05h-1.00zM156.40 256.78h1.00v1.05h-1.00zM142.40 257.78h1.00v1.05h-1.00zM156.40 257.78h1.00v1.05h-1.00zM141.40 258.78h1.00v1.05h-1.00zM155.40 258.78h2.00v1.05h-2.00zM141.40 259.78h1.00v1.05h-1.00zM155.40 259.78h2.00v1.05h-2.00zM139.40 260.77h2.00v1.05h-2.00zM156.40 260.77h1.00v1.05h-1.00zM140.40 261.77h2.00v1.05h-2.00zM155.40 261.77h1.00v1.05h-1.00zM139.40 262.77h2.00v1.05h-2.00zM155.40 262.77h1.00v1.05h-1.00zM141.40 263.77h1.00v1.05h-1.00zM155.40 263.77h2.00v1.05h-2.00zM141.40 264.77h1.00v1.05h-1.00zM155.40 264.77h2.00v1.05h-2.00zM140.40 265.76h2.00v1.05h-2.00zM155.40 265.76h2.00v1.05h-2.00zM140.40 266.76h1.00v1.05h-1.00zM154.40 266.76h2.00v1.05h-2.00zM140.40 267.76h2.00v1.05h-2.00zM155.40 267.76h1.00v1.05h-1.00zM142.40 268.76h2.00v1.05h-2.00zM157.40 268.76h1.00v1.05h-1.00zM142.40 269.76h1.00v1.05h-1.00zM155.40 269.76h1.00v1.05h-1.00zM141.40 270.76h1.00v1.05h-1.00zM156.40 270.76h1.00v1.05h-1.00zM157.40 271.75h1.00v1.05h-1.00zM142.40 272.75h1.00v1.05h-1.00zM156.40 272.75h1.00v1.05h-1.00zM140.40 273.75h2.00v1.05h-2.00zM156.40 273.75h1.00v1.05h-1.00zM141.40 274.75h2.00v1.05h-2.00zM156.40 274.75h1.00v1.05h-1.00zM142.40 275.75h1.00v1.05h-1.00zM157.40 275.75h1.00v1.05h-1.00zM142.40 276.75h1.00v1.05h-1.00zM157.40 276.75h1.00v1.05h-1.00zM140.40 277.74h1.00v1.05h-1.00zM157.40 277.74h1.00v1.05h-1.00zM142.40 278.74h1.00v1.05h-1.00zM156.40 278.74h1.00v1.05h-1.00zM141.40 279.74h2.00v1.05h-2.00zM155.40 279.74h2.00v1.05h-2.00zM142.40 280.74h1.00v1.05h-1.00zM156.40 280.74h1.00v1.05h-1.00zM140.40 281.74h2.00v1.05h-2.00zM156.40 281.74h1.00v1.05h-1.00zM140.40 282.74h1.00v1.05h-1.00zM155.40 282.74h1.00v1.05h-1.00zM141.40 283.73h1.00v1.05h-1.00zM156.40 283.73h1.00v1.05h-1.00zM141.40 284.73h1.00v1.05h-1.00zM154.40 284.73h2.00v1.05h-2.00zM141.40 285.73h1.00v1.05h-1.00zM155.40 285.73h2.00v1.05h-2.00zM140.40 286.73h1.00v1.05h-1.00zM155.40 286.73h2.00v1.05h-2.00zM140.40 287.73h2.00v1.05h-2.00zM154.40 287.73h2.00v1.05h-2.00zM140.40 288.72h1.00v1.05h-1.00zM155.40 288.72h1.00v1.05h-1.00zM139.40 289.72h1.00v1.05h-1.00zM155.40 289.72h1.00v1.05h-1.00zM139.40 290.72h2.00v1.05h-2.00zM155.40 290.72h1.00v1.05h-1.00zM140.40 291.72h1.00v1.05h-1.00zM155.40 291.72h2.00v1.05h-2.00zM140.40 292.72h2.00v1.05h-2.00zM155.40 292.72h2.00v1.05h-2.00zM142.40 293.72h1.00v1.05h-1.00zM156.40 293.72h2.00v1.05h-2.00zM142.40 294.71h1.00v1.05h-1.00zM157.40 294.71h1.00v1.05h-1.00zM141.40 295.71h2.00v1.05h-2.00zM156.40 295.71h1.00v1.05h-1.00zM141.40 296.71h2.00v1.05h-2.00zM155.40 296.71h1.00v1.05h-1.00zM141.40 297.71h1.00v1.05h-1.00zM156.40 297.71h1.00v1.05h-1.00zM140.40 298.71h2.00v1.05h-2.00zM155.40 298.71h2.00v1.05h-2.00zM141.40 299.71h1.00v1.05h-1.00zM155.40 299.71h2.00v1.05h-2.00zM140.40 300.70h2.00v1.05h-2.00zM155.40 300.70h1.00v1.05h-1.00zM141.40 301.70h1.00v1.05h-1.00zM155.40 301.70h1.00v1.05h-1.00z"/>
<path fill="#21918c" d="M144.40 245.80h1.00v1.05h-1.00zM142.40 246.80h2.00v1.05h-2.00zM142.40 247.80h2.00v1.05h-2.00zM143.40 248.79h1.00v1.05h-1.00zM143.40 249.79h2.00v1.05h-2.00zM143.40 250.79h1.00v1.05h-1.00zM158.40 250.79h1.00v1.05h-1.00zM142.40 251.79h2.00v1.05h-2.00zM158.40 251.79h1.00v1.05h-1.00zM143.40 252.79h1.00v1.05h-1.00zM157.40 252.79h2.00v1.05h-2.00zM143.40 253.79h2.00v1.05h-2.00zM157.40 253.79h1.00v1.05h-1.00zM142.40 254.78h1.00v1.05h-1.00zM156.40 254.78h2.00v1.05h-2.00zM142.40 255.78h1.00v1.05h-1.00zM157.40 255.78h1.00v1.05h-1.00zM142.40 256.78h2.00v1.05h-2.00zM157.40 256.78h1.00v1.05h-1.00zM143.40 257.78h1.00v1.05h-1.00zM157.40 257.78h1.00v1.05h-1.00zM142.40 258.78h2.00v1.05h-2.00zM157.40 258.78h1.00v1.05h-1.00zM142.40 259.78h2.00v1.05h-2.00zM157.40 259.78h1.00v1.05h-1.00zM141.40 260.77h1.00v1.05h-1.00zM157.40 260.77h1.00v1.05h-1.00zM142.40 261.77h1.00v1.05h-1.00zM156.40 261.77h2.00v1.05h-2.00zM141.40 262.77h1.00v1.05h-1.00zM156.40 262.77h2.00v1.05h-2.00zM142.40 263.77h2.00v1.05h-2.00zM157.40 263.77h1.00v1.05h-1.00zM142.40 264.77h2.00v1.05h-2.00zM157.40 264.77h1.00v1.05h-1.00zM142.40 265.76h1.00v1.05h-1.00zM157.40 265.76h1.00v1.05h-1.00zM141.40 266.76h2.00v1.05h-2.00zM156.40 266.76h1.00v1.05h-1.00zM142.40 267.76h1.00v1.05h-1.00zM156.40 267.76h2.00v1.05h-2.00zM144.40 268.76h1.00v1.05h-1.00zM158.40 268.76h1.00v1.05h-1.00zM143.40 269.76h2.00v1.05h-2.00zM156.40 269.76h2.00v1.05h-2.00zM142.40 270.76h2.00v1.05h-2.00zM157.40 270.76h2.00v1.05h-2.00zM158.40 271.75h1.00v1.05h-1.00zM143.40 272.75h2.00v1.05h-2.00zM157.40 272.75h1.00v1.05h-1.00zM142.40 273.75h1.00v1.05h-1.00zM157.40 273.75h1.00v1.05h-1.00zM143.40 274.75h1.00v1.05h-1.00zM157.40 274.75h2.00v1.05h-2.00zM143.40 275.75h1.00v1.05h-1.00zM158.40 275.75h1.00v1.05h-1.00zM143.40 276.75h1.00v1.05h-1.00zM158.40 276.75h1.00v1.05h-1.00zM141.40 277.74h2.00v1.05h-2.00zM158.40 277.74h1.00v1.05h-1.00zM143.40 278.74h1.00v1.05h-1.00zM157.40 278.74h2.00v1.05h-2.00zM143.40 279.74h1.00v1.05h-1.00zM157.40 279.74h1.00v1.05h-1.00zM143.40 280.74h2.00v1.05h-2.00zM157.40 280.74h1.00v1.05h-1.00zM142.40 281.74h1.00v1.05h-1.00zM157.40 281.74h2.00v1.05h-2.00zM141.40 282.74h1.00v1.05h-1.00zM156.40 282.74h2.00v1.05h-2.00zM142.40 283.73h2.00v1.05h-2.00zM157.40 283.73h1.00v1.05h-1.00zM142.40 284.73h2.00v1.05h-2.00zM156.40 284.73h1.00v1.05h-1.00zM142.40 285.73h2.00v1.05h-2.00zM157.40 285.73h1.00v1.05h-1.00zM141.40 286.73h2.00v1.05h-2.00zM157.40 286.73h1.00v1.05h-1.00zM142.40 287.73h1.00v1.05h-1.00zM156.40 287.73h1.00v1.05h-1.00zM141.40 288.72h2.00v1.05h-2.00zM156.40 288.72h1.00v1.05h-1.00zM140.40 289.72h2.00v1.05h-2.00zM156.40 289.72h2.00v1.05h-2.00zM141.40 290.72h1.00v1.05h-1.00zM156.40 290.72h1.00v1.05h-1.00zM141.40 291.72h2.00v1.05h-2.00zM157.40 291.72h1.00v1.05h-1.00zM142.40 292.72h2.00v1.05h-2.00zM157.40 292.72h1.00v1.05h-1.00zM143.40 293.72h2.00v1.05h-2.00zM158.40 293.72h1.00v1.05h-1.00zM143.40 294.71h2.00v1.05h-2.00zM158.40 294.71h1.00v1.05h-1.00zM143.40 295.71h1.00v1.05h-1.00zM157.40 295.71h2.00v1.05h-2.00zM143.40 296.71h1.00v1.05h-1.00zM156.40 296.71h1.00v1.05h-1.00zM142.40 297.71h2.00v1.05h-2.00zM157.40 297.71h1.00v1.05h-1.00zM142.40 298.71h1.00v1.05h-1.00zM157.40 298.71h1.00v1.05h-1.00zM142.40 299.71h2.00v1.05h-2.00zM157.40 299.71h1.00v1.05h-1.00zM142.40 300.70h1.00v1.05h-1.00zM156.40 300.70h2.00v1.05h-2.00zM142.40 301.70h2.00v1.05h-2.00zM156.40 301.70h2.00v1.05h-2.00z"/>
<path fill="#22a884" d="M145.40 245.80h1.00v1.05h-1.00zM144.40 246.80h1.00v1.05h-1.00zM144.40 247.80h1.00v1.05h-1.00zM144.40 248.79h1.00v1.05h-1.00zM145.40 249.79h1.00v1.05h-1.00zM144.40 250.79h2.00v1.05h-2.00zM159.40 250.79h1.00v1.05h-1.00zM144.40 251.79h1.00v1.05h-1.00zM159.40 251.79h1.00v1.05h-1.00zM144.40 252.79h1.00v1.05h-1.00zM159.40 252.79h1.00v1.05h-1.00zM145.40 253.79h1.00v1.05h-1.00zM158.40 253.79h1.00v1.05h-1.00zM143.40 254.78h2.00v1.05h-2.00zM158.40 254.78h1.00v1.05h-1.00zM143.40 255.78h2.00v1.05h-2.00zM158.40 255.78h1.00v1.05h-1.00zM144.40 256.78h1.00v1.05h-1.00zM158.40 256.78h2.00v1.05h-2.00zM144.40 257.78h2.00v1.05h-2.00zM158.40 257.78h2.00v1.05h-2.00zM144.40 258.78h1.00v1.05h-1.00zM158.40 258.78h1.00v1.05h-1.00zM144.40 259.78h1.00v1.05h-1.00zM158.40 259.78h2.00v1.05h-2.00zM142.40 260.77h2.00v1.05h-2.00zM158.40 260.77h2.00v1.05h-2.00zM143.40 261.77h2.00v1.05h-2.00zM158.40 261.77h1.00v1.05h-1.00zM142.40 262.77h2.00v1.05h-2.00zM158.40 262.77h1.00v1.05h-1.00zM144.40 263.77h1.00v1.05h-1.00zM158.40 263.77h2.00v1.05h-2.00zM144.40 264.77h1.00v1.05h-1.00zM158.40 264.77h1.00v1.05h-1.00zM143.40 265.76h2.00v1.05h-2.00zM158.40 265.76h1.00v1.05h-1.00zM143.40 266.76h2.00v1.05h-2.00zM157.40 266.76h2.00v1.05h-2.00zM143.40 267.76h2.00v1.05h-2.00zM158.40 267.76h1.00v1.05h-1.00zM145.40 268.76h1.00v1.05h-1.00zM159.40 268.76h1.00v1.05h-1.00zM145.40 269.76h1.00v1.05h-1.00zM158.40 269.76h1.00v1.05h-1.00zM144.40 270.76h1.00v1.05h-1.00zM159.40 270.76h1.00v1.05h-1.00zM159.40 271.75h1.00v1.05h-1.00zM145.40 272.75h1.00v1.05h-1.00zM158.40 272.75h1.00v1.05h-1.00zM143.40 273.75h2.00v1.05h-2.00zM158.40 273.75h2.00v1.05h-2.00zM144.40 274.75h2.00v1.05h-2.00zM159.40 274.75h1.00v1.05h-1.00zM144.40 275.75h2.00v1.05h-2.00zM159.40 275.75h1.00v1.05h-1.00zM144.40 276.75h2.00v1.05h-2.00zM159.40 276.75h1.00v1.05h-1.00zM143.40 277.74h1.00v1.05h-1.00zM159.40 277.74h1.00v1.05h-1.00zM144.40 278.74h2.00v1.05h-2.00zM159.40 278.74h1.00v1.05h-1.00zM144.40 279.74h1.00v1.05h-1.00zM158.40 279.74h1.00v1.05h-1.00zM145.40 280.74h1.00v1.05h-1.00zM158.40 280.74h2.00v1.05h-2.00zM143.40 281.74h2.00v1.05h-2.00zM159.40 281.74h1.00v1.05h-1.00zM142.40 282.74h2.00v1.05h-2.00zM158.40 282.74h1.00v1.05h-1.00zM144.40 283.73h1.00v1.05h-1.00zM158.40 283.73h2.00v1.05h-2.00zM144.40 284.73h1.00v1.05h-1.00zM157.40 284.73h2.00v1.05h-2.00zM144.40 285.73h1.00v1.05h-1.00zM158.40 285.73h1.00v1.05h-1.00zM143.40 286.73h1.00v1.05h-1.00zM158.40 286.73h1.00v1.05h-1.00zM143.40 287.73h2.00v1.05h-2.00zM157.40 287.73h2.00v1.05h-2.00zM143.40 288.72h2.00v1.05h-2.00zM157.40 288.72h2.00v1.05h-2.00zM142.40 289.72h2.00v1.05h-2.00zM158.40 289.72h1.00v1.05h-1.00zM142.40 290.72h2.00v1.05h-2.00zM157.40 290.72h2.00v1.05h-2.00zM143.40 291.72h1.00v1.05h-1.00zM158.40 291.72h1.00v1.05h-1.00zM144.40 292.72h1.00v1.05h-1.00zM158.40 292.72h2.00v1.05h-2.00zM145.40 293.72h1.00v1.05h-1.00zM159.40 293.72h1.00v1.05h-1.00zM145.40 294.71h1.00v1.05h-1.00zM159.40 294.71h1.00v1.05h-1.00zM144.40 295.71h1.00v1.05h-1.00zM159.40 295.71h1.00v1.05h-1.00zM144.40 296.71h1.00v1.05h-1.00zM157.40 296.71h2.00v1.05h-2.00zM144.40 297.71h1.00v1.05h-1.00zM158.40 297.71h2.00v1.05h-2.00zM143.40 298.71h1.00v1.05h-1.00zM158.40 298.71h1.00v1.05h-1.00zM144.40 299.71h1.00v1.05h-1.00zM158.40 299.71h1.00v1.05h-1.00zM143.40 300.70h2.00v1.05h-2.00zM158.40 300.70h1.00v1.05h-1.00zM144.40 301.70h1.00v1.05h-1.00zM158.40 301.70h1.00v1.05h-1.00z"/>
<path fill="#44bf70" d="M146.40 245.80h1.00v1.05h-1.00zM145.40 246.80h1.00v1.05h-1.00zM145.40 247.80h2.00v1.05h-2.00zM145.40 248.79h1.00v1.05h-1.00zM146.40 249.79h1.00v1.05h-1.00zM146.40 250.79h1.00v1.05h-1.00zM160.40 250.79h1.00v1.05h-1.00zM145.40 251.79h2.00v1.05h-2.00zM160.40 251.79h1.00v1.05h-1.00zM145.40 252.79h1.00v1.05h-1.00zM160.40 252.79h1.00v1.05h-1.00zM146.40 253.79h1.00v1.05h-1.00zM159.40 253.79h2.00v1.05h-2.00zM145.40 254.78h1.00v1.05h-1.00zM159.40 254.78h2.00v1.05h-2.00zM145.40 255.78h1.00v1.05h-1.00zM159.40 255.78h2.00v1.05h-2.00zM145.40 256.78h2.00v1.05h-2.00zM160.40 256.78h1.00v1.05h-1.00zM146.40 257.78h1.00v1.05h-1.00zM160.40 257.78h1.00v1.05h-1.00zM145.40 258.78h1.00v1.05h-1.00zM159.40 258.78h2.00v1.05h-2.00zM145.40 259.78h2.00v1.05h-2.00zM160.40 259.78h1.00v1.05h-1.00zM144.40 260.77h2.00v1.05h-2.00zM160.40 260.77h1.00v1.05h-1.00zM145.40 261.77h1.00v1.05h-1.00zM159.40 261.77h2.00v1.05h-2.00zM144.40 262.77h2.00v1.05h-2.00zM159.40 262.77h1.00v1.05h-1.00zM145.40 263.77h2.00v1.05h-2.00zM160.40 263.77h1.00v1.05h-1.00zM145.40 264.77h2.00v1.05h-2.00zM159.40 264.77h2.00v1.05h-2.00zM145.40 265.76h1.00v1.05h-1.00zM159.40 265.76h1.00v1.05h-1.00zM145.40 266.76h1.00v1.05h-1.00zM159.40 266.76h1.00v1.05h-1.00zM145.40 267.76h1.00v1.05h-1.00zM159.40 267.76h1.00v1.05h-1.00zM146.40 268.76h1.00v1.05h-1.00zM160.40 268.76h1.00v1.05h-1.00zM146.40 269.76h1.00v1.05h-1.00zM159.40 269.76h1.00v1.05h-1.00zM145.40 270.76h1.00v1.05h-1.00zM160.40 270.76h1.00v1.05h-1.00zM146.40 271.75h1.00v1.05h-1.00zM160.40 271.75h1.00v1.05h-1.00zM146.40 272.75h1.00v1.05h-1.00zM159.40 272.75h2.00v1.05h-2.00zM145.40 273.75h1.00v1.05h-1.00zM160.40 273.75h1.00v1.05h-1.00zM146.40 274.75h1.00v1.05h-1.00zM160.40 274.75h1.00v1.05h-1.00zM146.40 275.75h1.00v1.05h-1.00zM160.40 275.75h1.00v1.05h-1.00zM146.40 276.75h1.00v1.05h-1.00zM160.40 276.75h1.00v1.05h-1.00zM144.40 277.74h2.00v1.05h-2.00zM160.40 277.74h1.00v1.05h-1.00zM146.40 278.74h1.00v1.05h-1.00zM160.40 278.74h1.00v1.05h-1.00zM145.40 279.74h2.00v1.05h-2.00zM159.40 279.74h2.00v1.05h-2.00zM146.40 280.74h1.00v1.05h-1.00zM160.40 280.74h1.00v1.05h-1.00zM145.40 281.74h1.00v1.05h-1.00zM160.40 281.74h1.00v1.05h-1.00zM144.40 282.74h2.00v1.05h-2.00zM159.40 282.74h1.00v1.05h-1.00zM145.40 283.73h1.00v1.05h-1.00zM160.40 283.73h1.00v1.05h-1.00zM145.40 284.73h2.00v1.05h-2.00zM159.40 284.73h1.00v1.05h-1.00zM145.40 285.73h1.00v1.05h-1.00zM159.40 285.73h2.00v1.05h-2.00zM144.40 286.73h2.00v1.05h-2.00zM159.40 286.73h1.00v1.05h-1.00zM145.40 287.73h1.00v1.05h-1.00zM159.40 287.73h1.00v1.05h-1.00zM145.40 288.72h1.00v1.05h-1.00zM159.40 288.72h2.00v1.05h-2.00zM144.40 289.72h1.00v1.05h-1.00zM159.40 289.72h1.00v1.05h-1.00zM144.40 290.72h2.00v1.05h-2.00zM159.40 290.72h1.00v1.05h-1.00zM144.40 291.72h2.00v1.05h-2.00zM159.40 291.72h2.00v1.05h-2.00zM145.40 292.72h1.00v1.05h-1.00zM160.40 292.72h1.00v1.05h-1.00zM146.40 293.72h1.00v1.05h-1.00zM160.40 293.72h1.00v1.05h-1.00zM146.40 294.71h1.00v1.05h-1.00zM160.40 294.71h1.00v1.05h-1.00zM145.40 295.71h2.00v1.05h-2.00zM160.40 295.71h1.00v1.05h-1.00zM145.40 296.71h2.00v1.05h-2.00zM159.40 296.71h1.00v1.05h-1.00zM145.40 297.71h2.00v1.05h-2.00zM160.40 297.71h1.00v1.05h-1.00zM144.40 298.71h2.00v1.05h-2.00zM159.40 298.71h1.00v1.05h-1.00zM145.40 299.71h2.00v1.05h-2.00zM159.40 299.71h1.00v1.05h-1.00zM145.40 300.70h1.00v1.05h-1.00zM159.40 300.70h2.00v1.05h-2.00zM145.40 301.70h1.00v1.05h-1.00zM159.40 301.70h2.00v1.05h-2.00z"/>
<path fill="#7ad151" d="M147.40 245.80h1.00v1.05h-1.00zM146.40 246.80h2.00v1.05h-2.00zM147.40 247.80h1.00v1.05h-1.00zM146.40 248.79h2.00v1.05h-2.00zM147.40 249.79h1.00v1.05h-1.00zM147.40 250.79h1.00v1.05h-1.00zM161.40 250.79h1.00v1.05h-1.00zM147.40 251.79h1.00v1.05h-1.00zM161.40 251.79h1.00v1.05h-1.00zM146.40 252.79h2.00v1.05h-2.00zM161.40 252.79h1.00v1.05h-1.00zM147.40 253.79h1.00v1.05h-1.00zM161.40 253.79h1.00v1.05h-1.00zM146.40 254.78h2.00v1.05h-2.00zM161.40 254.78h1.00v1.05h-1.00zM146.40 255.78h2.00v1.05h-2.00zM161.40 255.78h1.00v1.05h-1.00zM147.40 256.78h1.00v1.05h-1.00zM161.40 256.78h1.00v1.05h-1.00zM147.40 257.78h1.00v1.05h-1.00zM161.40 257.78h1.00v1.05h-1.00zM146.40 258.78h2.00v1.05h-2.00zM161.40 258.78h1.00v1.05h-1.00zM147.40 259.78h1.00v1.05h-1.00zM161.40 259.78h1.00v1.05h-1.00zM146.40 260.77h1.00v1.05h-1.00zM161.40 260.77h1.00v1.05h-1.00zM146.40 261.77h2.00v1.05h-2.00zM161.40 261.77h1.00v1.05h-1.00zM146.40 262.77h1.00v1.05h-1.00zM160.40 262.77h2.00v1.05h-2.00zM147.40 263.77h1.00v1.05h-1.00zM161.40 263.77h1.00v1.05h-1.00zM147.40 264.77h1.00v1.05h-1.00zM161.40 264.77h1.00v1.05h-1.00zM146.40 265.76h2.00v1.05h-2.00zM160.40 265.76h2.00v1.05h-2.00zM146.40 266.76h2.00v1.05h-2.00zM160.40 266.76h2.00v1.05h-2.00zM146.40 267.76h2.00v1.05h-2.00zM160.40 267.76h2.00v1.05h-2.00zM147.40 268.76h1.00v1.05h-1.00zM161.40 268.76h1.00v1.05h-1.00zM147.40 269.76h1.00v1.05h-1.00zM160.40 269.76h2.00v1.05h-2.00zM146.40 270.76h2.00v1.05h-2.00zM161.40 270.76h1.00v1.05h-1.00zM147.40 271.75h1.00v1.05h-1.00zM161.40 271.75h1.00v1.05h-1.00zM147.40 272.75h1.00v1.05h-1.00zM161.40 272.75h1.00v1.05h-1.00zM146.40 273.75h2.00v1.05h-2.00zM161.40 273.75h1.00v1.05h-1.00zM147.40 274.75h1.00v1.05h-1.00zM161.40 274.75h1.00v1.05h-1.00zM147.40 275.75h1.00v1.05h-1.00zM161.40 275.75h1.00v1.05h-1.00zM147.40 276.75h1.00v1.05h-1.00zM161.40 276.75h1.00v1.05h-1.00zM146.40 277.74h2.00v1.05h-2.00zM161.40 277.74h2.00v1.05h-2.00zM147.40 278.74h1.00v1.05h-1.00zM161.40 278.74h1.00v1.05h-1.00zM147.40 279.74h1.00v1.05h-1.00zM161.40 279.74h1.00v1.05h-1.00zM147.40 280.74h1.00v1.05h-1.00zM161.40 280.74h1.00v1.05h-1.00zM146.40 281.74h2.00v1.05h-2.00zM161.40 281.74h1.00v1.05h-1.00zM146.40 282.74h2.00v1.05h-2.00zM160.40 282.74h2.00v1.05h-2.00zM146.40 283.73h2.00v1.05h-2.00zM161.40 283.73h1.00v1.05h-1.00zM147.40 284.73h1.00v1.05h-1.00zM160.40 284.73h2.00v1.05h-2.00zM146.40 285.73h2.00v1.05h-2.00zM161.40 285.73h1.00v1.05h-1.00zM146.40 286.73h1.00v1.05h-1.00zM160.40 286.73h2.00v1.05h-2.00zM146.40 287.73h2.00v1.05h-2.00zM160.40 287.73h2.00v1.05h-2.00zM146.40 288.72h2.00v1.05h-2.00zM161.40 288.72h1.00v1.05h-1.00zM145.40 289.72h2.00v1.05h-2.00zM160.40 289.72h2.00v1.05h-2.00zM146.40 290.72h2.00v1.05h-2.00zM160.40 290.72h2.00v1.05h-2.00zM146.40 291.72h2.00v1.05h-2.00zM161.40 291.72h1.00v1.05h-1.00zM146.40 292.72h2.00v1.05h-2.00zM161.40 292.72h1.00v1.05h-1.00zM147.40 293.72h1.00v1.05h-1.00zM161.40 293.72h1.00v1.05h-1.00zM147.40 294.71h1.00v1.05h-1.00zM161.40 294.71h1.00v1.05h-1.00zM147.40 295.71h1.00v1.05h-1.00zM161.40 295.71h1.00v1.05h-1.00zM147.40 296.71h1.00v1.05h-1.00zM160.40 296.71h2.00v1.05h-2.00zM147.40 297.71h1.00v1.05h-1.00zM161.40 297.71h1.00v1.05h-1.00zM146.40 298.71h2.00v1.05h-2.00zM160.40 298.71h2.00v1.05h-2.00zM147.40 299.71h1.00v1.05h-1.00zM160.40 299.71h2.00v1.05h-2.00zM146.40 300.70h2.00v1.05h-2.00zM161.40 300.70h1.00v1.05h-1.00zM146.40 301.70h2.00v1.05h-2.00zM161.40 301.70h1.00v1.05h-1.00z"/>
<path fill="#bddf26" d="M148.40 245.80h1.00v1.05h-1.00zM162.40 245.80h1.00v1.05h-1.00zM148.40 246.80h1.00v1.05h-1.00zM162.40 246.80h1.00v1.05h-1.00zM148.40 247.80h2.00v1.05h-2.00zM162.40 247.80h1.00v1.05h-1.00zM148.40 248.79h1.00v1.05h-1.00zM162.40 248.79h1.00v1.05h-1.00zM148.40 249.79h1.00v1.05h-1.00zM162.40 249.79h2.00v1.05h-2.00zM148.40 250.79h1.00v1.05h-1.00zM162.40 250.79h1.00v1.05h-1.00zM148.40 251.79h1.00v1.05h-1.00zM162.40 251.79h1.00v1.05h-1.00zM148.40 252.79h2.00v1.05h-2.00zM162.40 252.79h2.00v1.05h-2.00zM148.40 253.79h1.00v1.05h-1.00zM162.40 253.79h1.00v1.05h-1.00zM148.40 254.78h1.00v1.05h-1.00zM162.40 254.78h1.00v1.05h-1.00zM148.40 255.78h1.00v1.05h-1.00zM162.40 255.78h1.00v1.05h-1.00zM148.40 256.78h1.00v1.05h-1.00zM162.40 256.78h2.00v1.05h-2.00zM148.40 257.78h1.00v1.05h-1.00zM162.40 257.78h2.00v1.05h-2.00zM148.40 258.78h1.00v1.05h-1.00zM162.40 258.78h2.00v1.05h-2.00zM148.40 259.78h1.00v1.05h-1.00zM162.40 259.78h1.00v1.05h-1.00zM147.40 260.77h2.00v1.05h-2.00zM162.40 260.77h1.00v1.05h-1.00zM148.40 261.77h1.00v1.05h-1.00zM162.40 261.77h1.00v1.05h-1.00zM147.40 262.77h2.00v1.05h-2.00zM162.40 262.77h1.00v1.05h-1.00zM148.40 263.77h1.00v1.05h-1.00zM162.40 263.77h1.00v1.05h-1.00zM148.40 264.77h1.00v1.05h-1.00zM162.40 264.77h1.00v1.05h-1.00zM148.40 265.76h1.00v1.05h-1.00zM162.40 265.76h1.00v1.05h-1.00zM148.40 266.76h1.00v1.05h-1.00zM162.40 266.76h1.00v1.05h-1.00zM148.40 267.76h1.00v1.05h-1.00zM162.40 267.76h1.00v1.05h-1.00zM148.40 268.76h2.00v1.05h-2.00zM162.40 268.76h2.00v1.05h-2.00zM148.40 269.76h1.00v1.05h-1.00zM162.40 269.76h1.00v1.05h-1.00zM148.40 270.76h1.00v1.05h-1.00zM162.40 270.76h1.00v1.05h-1.00zM148.40 271.75h1.00v1.05h-1.00zM162.40 271.75h1.00v1.05h-1.00zM148.40 272.75h1.00v1.05h-1.00zM162.40 272.75h1.00v1.05h-1.00zM148.40 273.75h1.00v1.05h-1.00zM162.40 273.75h1.00v1.05h-1.00zM148.40 274.75h1.00v1.05h-1.00zM162.40 274.75h2.00v1.05h-2.00zM148.40 275.75h1.00v1.05h-1.00zM162.40 275.75h2.00v1.05h-2.00zM148.40 276.75h1.00v1.05h-1.00zM162.40 276.75h2.00v1.05h-2.00zM148.40 277.74h1.00v1.05h-1.00zM148.40 278.74h2.00v1.05h-2.00zM162.40 278.74h1.00v1.05h-1.00zM148.40 279.74h1.00v1.05h-1.00zM162.40 279.74h1.00v1.05h-1.00zM148.40 280.74h2.00v1.05h-2.00zM162.40 280.74h1.00v1.05h-1.00zM148.40 281.74h1.00v1.05h-1.00zM162.40 281.74h1.00v1.05h-1.00zM148.40 282.74h1.00v1.05h-1.00zM162.40 282.74h1.00v1.05h-1.00zM148.40 283.73h1.00v1.05h-1.00zM162.40 283.73h1.00v1.05h-1.00zM148.40 284.73h1.00v1.05h-1.00zM162.40 284.73h1.00v1.05h-1.00zM148.40 285.73h1.00v1.05h-1.00zM162.40 285.73h1.00v1.05h-1.00zM147.40 286.73h2.00v1.05h-2.00zM162.40 286.73h2.00v1.05h-2.00zM148.40 287.73h1.00v1.05h-1.00zM162.40 287.73h1.00v1.05h-1.00zM148.40 288.72h1.00v1.05h-1.00zM162.40 288.72h1.00v1.05h-1.00zM147.40 289.72h2.00v1.05h-2.00zM162.40 289.72h1.00v1.05h-1.00zM148.40 290.72h1.00v1.05h-1.00zM162.40 290.72h1.00v1.05h-1.00zM148.40 291.72h1.00v1.05h-1.00zM162.40 291.72h1.00v1.05h-1.00zM148.40 292.72h1.00v1.05h-1.00zM162.40 292.72h1.00v1.05h-1.00zM148.40 293.72h1.00v1.05h-1.00zM162.40 293.72h1.00v1.05h-1.00zM148.40 294.71h1.00v1.05h-1.00zM162.40 294.71h2.00v1.05h-2.00zM148.40 295.71h1.00v1.05h-1.00zM162.40 295.71h2.00v1.05h-2.00zM148.40 296.71h1.00v1.05h-1.00zM162.40 296.71h1.00v1.05h-1.00zM148.40 297.71h1.00v1.05h-1.00zM162.40 297.71h1.00v1.05h-1.00zM148.40 298.71h1.00v1.05h-1.00zM162.40 298.71h1.00v1.05h-1.00zM148.40 299.71h1.00v1.05h-1.00zM162.40 299.71h1.00v1.05h-1.00zM148.40 300.70h1.00v1.05h-1.00zM162.40 300.70h1.00v1.05h-1.00zM148.40 301.70h1.00v1.05h-1.00zM162.40 301.70h1.00v1.05h-1.00z"/>
<path fill="#fde725" d="M149.40 245.80h1.00v1.05h-1.00zM163.40 245.80h1.00v1.05h-1.00zM149.40 246.80h1.00v1.05h-1.00zM163.40 246.80h1.00v1.05h-1.00zM163.40 247.80h1.00v1.05h-1.00zM149.40 248.79h1.00v1.05h-1.00zM163.40 248.79h1.00v1.05h-1.00zM149.40 249.79h1.00v1.05h-1.00zM149.40 250.79h1.00v1.05h-1.00zM163.40 250.79h1.00v1.05h-1.00zM149.40 251.79h1.00v1.05h-1.00zM163.40 251.79h1.00v1.05h-1.00zM149.40 253.79h1.00v1.05h-1.00zM163.40 253.79h1.00v1.05h-1.00zM149.40 254.78h1.00v1.05h-1.00zM163.40 254.78h1.00v1.05h-1.00zM149.40 255.78h1.00v1.05h-1.00zM163.40 255.78h1.00v1.05h-1.00zM149.40 256.78h1.00v1.05h-1.00zM149.40 257.78h1.00v1.05h-1.00zM149.40 258.78h1.00v1.05h-1.00zM149.40 259.78h1.00v1.05h-1.00zM163.40 259.78h1.00v1.05h-1.00zM149.40 260.77h1.00v1.05h-1.00zM163.40 260.77h1.00v1.05h-1.00zM149.40 261.77h1.00v1.05h-1.00zM163.40 261.77h1.00v1.05h-1.00zM149.40 262.77h1.00v1.05h-1.00zM163.40 262.77h1.00v1.05h-1.00zM149.40 263.77h1.00v1.05h-1.00zM163.40 263.77h1.00v1.05h-1.00zM149.40 264.77h1.00v1.05h-1.00zM163.40 264.77h1.00v1.05h-1.00zM149.40 265.76h1.00v1.05h-1.00zM163.40 265.76h1.00v1.05h-1.00zM149.40 266.76h1.00v1.05h-1.00zM163.40 266.76h1.00v1.05h-1.00zM149.40 267.76h1.00v1.05h-1.00zM163.40 267.76h1.00v1.05h-1.00zM149.40 269.76h1.00v1.05h-1.00zM163.40 269.76h1.00v1.05h-1.00zM149.40 270.76h1.00v1.05h-1.00zM163.40 270.76h1.00v1.05h-1.00zM149.40 271.75h1.00v1.05h-1.00zM163.40 271.75h1.00v1.05h-1.00zM149.40 272.75h1.00v1.05h-1.00zM163.40 272.75h1.00v1.05h-1.00zM149.40 273.75h1.00v1.05h-1.00zM163.40 273.75h1.00v1.05h-1.00zM149.40 274.75h1.00v1.05h-1.00zM149.40 275.75h1.00v1.05h-1.00zM149.40 276.75h1.00v1.05h-1.00zM149.40 277.74h1.00v1.05h-1.00zM163.40 277.74h1.00v1.05h-1.00zM163.40 278.74h1.00v1.05h-1.00zM149.40 279.74h1.00v1.05h-1.00zM163.40 279.74h1.00v1.05h-1.00zM163.40 280.74h1.00v1.05h-1.00zM149.40 281.74h1.00v1.05h-1.00zM163.40 281.74h1.00v1.05h-1.00zM149.40 282.74h1.00v1.05h-1.00zM163.40 282.74h1.00v1.05h-1.00zM149.40 283.73h1.00v1.05h-1.00zM163.40 283.73h1.00v1.05h-1.00zM149.40 284.73h1.00v1.05h-1.00zM163.40 284.73h1.00v1.05h-1.00zM149.40 285.73h1.00v1.05h-1.00zM163.40 285.73h1.00v1.05h-1.00zM149.40 286.73h1.00v1.05h-1.00zM149.40 287.73h1.00v1.05h-1.00zM163.40 287.73h1.00v1.05h-1.00zM149.40 288.72h1.00v1.05h-1.00zM163.40 288.72h1.00v1.05h-1.00zM149.40 289.72h1.00v1.05h-1.00zM163.40 289.72h1.00v1.05h-1.00zM149.40 290.72h1.00v1.05h-1.00zM163.40 290.72h1.00v1.05h-1.00zM149.40 291.72h1.00v1.05h-1.00zM163.40 291.72h1.00v1.05h-1.00zM149.40 292.72h1.00v1.05h-1.00zM163.40 292.72h1.00v1.05h-1.00zM149.40 293.72h1.00v1.05h-1.00zM163.40 293.72h1.00v1.05h-1.00zM149.40 294.71h1.00v1.05h-1.00zM149.40 295.71h1.00v1.05h-1.00zM149.40 296.71h1.00v1.05h-1.00zM163.40 296.71h1.00v1.05h-1.00zM149.40 297.71h1.00v1.05h-1.00zM163.40 297.71h1.00v1.05h-1.00zM149.40 298.71h1.00v1.05h-1.00zM163.40 298.71h1.00v1.05h-1.00zM149.40 299.71h1.00v1.05h-1.00zM163.40 299.71h1.00v1.05h-1.00zM149.40 300.70h1.00v1.05h-1.00zM163.40 300.70h1.00v1.05h-1.00zM149.40 301.70h1.00v1.05h-1.00zM163.40 301.70h1.00v1.05h-1.00z"/>
<path fill="#ffffff" d="M140.40 271.75h6.00v1.05h-6.00z"/>
<rect x="91.10" y="245.80" width="4.90" height="24.30" fill="#fff" stroke="none" stroke-width="1" />
<text x="93.55" y="260.69" font-size="7.6" text-anchor="middle" font-weight="normal" fill="#000" >3</text>
<rect x="91.10" y="270.10" width="4.90" height="17.80" fill="#8a8a8a" stroke="none" stroke-width="1" />
<text x="93.55" y="281.74" font-size="7.6" text-anchor="middle" font-weight="normal" fill="#fff" >2</text>
<rect x="91.10" y="287.90" width="4.90" height="14.80" fill="#000" stroke="none" stroke-width="1" />
<text x="93.55" y="298.04" font-size="7.6" text-anchor="middle" font-weight="normal" fill="#fff" >1</text>
<rect x="130.30" y="245.80" width="5.10" height="22.90" fill="#fff" stroke="none" stroke-width="1" />
<text x="132.85" y="259.99" font-size="7.6" text-anchor="middle" font-weight="normal" fill="#000" >3</text>
<rect x="130.30" y="268.70" width="5.10" height="24.80" fill="#8a8a8a" stroke="none" stroke-width="1" />
<text x="132.85" y="283.84" font-size="7.6" text-anchor="middle" font-weight="normal" fill="#fff" >2</text>
<rect x="130.30" y="293.50" width="5.10" height="9.20" fill="#000" stroke="none" stroke-width="1" />
<text x="132.85" y="300.84" font-size="7.6" text-anchor="middle" font-weight="normal" fill="#fff" >1</text>
<line x1="96.00" y1="270.10" x2="124.80" y2="270.10" stroke="#333" stroke-width="0.8" />
<line x1="96.00" y1="287.90" x2="124.80" y2="287.90" stroke="#333" stroke-width="0.8" />
<line x1="135.40" y1="268.70" x2="164.40" y2="268.70" stroke="#333" stroke-width="0.8" />
<line x1="135.40" y1="293.50" x2="164.40" y2="293.50" stroke="#333" stroke-width="0.8" />
<line x1="110.10" y1="245.80" x2="110.10" y2="302.70" stroke="#333" stroke-width="0.8" />
<line x1="150.00" y1="245.80" x2="150.00" y2="302.70" stroke="#333" stroke-width="0.8" />
<rect x="91.10" y="245.80" width="33.70" height="56.90" fill="none" stroke="#222" stroke-width="0.8" />
<rect x="130.30" y="245.80" width="34.10" height="56.90" fill="none" stroke="#222" stroke-width="0.8" />
<line x1="97.00" y1="307.40" x2="106.70" y2="307.40" stroke="#000" stroke-width="1.5" />
<polygon points="106.20,304.90 110.00,307.40 106.20,309.90" fill="#000" stroke="none" stroke-width="1" />
<line x1="111.50" y1="307.40" x2="121.20" y2="307.40" stroke="#000" stroke-width="1.5" />
<polygon points="120.70,304.90 124.50,307.40 120.70,309.90" fill="#000" stroke="none" stroke-width="1" />
<line x1="136.50" y1="307.40" x2="146.20" y2="307.40" stroke="#000" stroke-width="1.5" />
<polygon points="145.70,304.90 149.50,307.40 145.70,309.90" fill="#000" stroke="none" stroke-width="1" />
<line x1="151.00" y1="307.40" x2="160.70" y2="307.40" stroke="#000" stroke-width="1.5" />
<polygon points="160.20,304.90 164.00,307.40 160.20,309.90" fill="#000" stroke="none" stroke-width="1" />
<text x="127.00" y="317.02" font-size="7" text-anchor="middle" font-weight="normal" fill="#111" >Time post division</text>
<text x="0" y="2.10" font-size="7" text-anchor="middle" font-weight="normal" fill="#111" transform="translate(86.70,275.00) rotate(-90)" >Paired daughter ID</text>
<rect x="60.30" y="262.30" width="7.40" height="27.90" fill="url(#vir)" stroke="#222" stroke-width="0.8" />
<text x="63.90" y="258.92" font-size="7" text-anchor="middle" font-weight="normal" fill="#111" >high</text>
<text x="63.90" y="300.02" font-size="7" text-anchor="middle" font-weight="normal" fill="#111" >low</text>
<text x="0" y="2.10" font-size="7" text-anchor="middle" font-weight="normal" fill="#111" transform="translate(40.60,275.20) rotate(-90)" >Normalized</text>
<text x="0" y="2.10" font-size="7" text-anchor="middle" font-weight="normal" fill="#111" transform="translate(49.20,275.20) rotate(-90)" >CD71 production</text>
<path d="M109.00 335.20L109.00 319.10A16.1 16.1 0 0 1 124.54 330.99Z" fill="#000" stroke="none" stroke-width="1" />
<path d="M109.00 335.20L124.54 330.99A16.1 16.1 0 0 1 101.76 349.58Z" fill="#6e6e6e" stroke="none" stroke-width="1" />
<path d="M109.00 335.20L101.76 349.58A16.1 16.1 0 0 1 109.00 319.10Z" fill="#fff" stroke="none" stroke-width="1" />
<circle cx="109.00" cy="335.20" r="16.10" fill="none" stroke="#555" stroke-width="0.6" />
<path d="M148.60 335.20L148.60 319.10A16.1 16.1 0 0 1 158.06 322.17Z" fill="#000" stroke="none" stroke-width="1" />
<path d="M148.60 335.20L158.06 322.17A16.1 16.1 0 0 1 154.53 350.17Z" fill="#6e6e6e" stroke="none" stroke-width="1" />
<path d="M148.60 335.20L154.53 350.17A16.1 16.1 0 1 1 148.60 319.10Z" fill="#fff" stroke="none" stroke-width="1" />
<circle cx="148.60" cy="335.20" r="16.10" fill="none" stroke="#555" stroke-width="0.6" />
<text x="114.60" y="331.00" font-size="7.5" text-anchor="middle" font-weight="normal" fill="#fff" >21</text>
<text x="115.00" y="345.70" font-size="7.5" text-anchor="middle" font-weight="normal" fill="#fff" >37</text>
<text x="101.30" y="336.20" font-size="7.5" text-anchor="middle" font-weight="normal" fill="#111" >43</text>
<text x="151.30" y="328.30" font-size="7.5" text-anchor="middle" font-weight="normal" fill="#fff" >10</text>
<text x="156.50" y="340.70" font-size="7.5" text-anchor="middle" font-weight="normal" fill="#fff" >34</text>
<text x="140.80" y="340.70" font-size="7.5" text-anchor="middle" font-weight="normal" fill="#111" >56</text>
<text x="129.30" y="360.22" font-size="7" text-anchor="middle" font-weight="normal" fill="#111" >Paired daughter cell fates</text>
<circle cx="9.00" cy="315.10" r="2.00" fill="#fff" stroke="#000" stroke-width="0.9" />
<text x="11.80" y="317.62" font-size="7" text-anchor="start" font-weight="normal" fill="#111" >:</text>
<line x1="18.60" y1="317.90" x2="18.60" y2="313.30" stroke="#000" stroke-width="0.7" />
<polygon points="17.50,313.70 19.70,313.70 18.60,311.90" fill="#000" stroke="none" stroke-width="1" />
<circle cx="9.00" cy="321.30" r="2.10" fill="#000" stroke="none" stroke-width="1" />
<text x="11.80" y="323.82" font-size="7" text-anchor="start" font-weight="normal" fill="#111" >:</text>
<line x1="16.10" y1="321.30" x2="20.60" y2="321.30" stroke="#000" stroke-width="0.7" />
<polygon points="20.20,320.10 20.20,322.50 22.00,321.30" fill="#000" stroke="none" stroke-width="1" />
<line x1="34.40" y1="312.00" x2="34.40" y2="315.75" stroke="#000" stroke-width="1.2" />
<line x1="29.80" y1="315.75" x2="39.00" y2="315.75" stroke="#000" stroke-width="1.2" />
<line x1="29.80" y1="315.15" x2="29.80" y2="319.50" stroke="#000" stroke-width="1.2" />
<line x1="39.00" y1="315.15" x2="39.00" y2="319.50" stroke="#000" stroke-width="1.2" />
<circle cx="34.40" cy="310.20" r="2.10" fill="#fff" stroke="#000" stroke-width="1.0" />
<circle cx="29.80" cy="321.30" r="2.10" fill="#fff" stroke="#3535f0" stroke-width="1.15" />
<circle cx="39.00" cy="321.30" r="2.10" fill="#fff" stroke="#2ec02e" stroke-width="1.15" />
<rect x="26.80" y="325.50" width="15.40" height="2.30" fill="#000" stroke="none" stroke-width="1" />
<line x1="54.90" y1="312.00" x2="54.90" y2="315.75" stroke="#000" stroke-width="1.2" />
<line x1="50.30" y1="315.75" x2="59.50" y2="315.75" stroke="#000" stroke-width="1.2" />
<line x1="50.30" y1="315.15" x2="50.30" y2="319.50" stroke="#000" stroke-width="1.2" />
<line x1="59.50" y1="315.15" x2="59.50" y2="319.50" stroke="#000" stroke-width="1.2" />
<circle cx="54.90" cy="310.20" r="2.10" fill="#fff" stroke="#000" stroke-width="1.0" />
<circle cx="50.30" cy="321.30" r="2.10" fill="#fff" stroke="#3535f0" stroke-width="1.15" />
<circle cx="59.50" cy="321.30" r="2.10" fill="#000" stroke="#2ec02e" stroke-width="1.15" />
<rect x="47.30" y="325.50" width="15.40" height="2.30" fill="#7a7a7a" stroke="none" stroke-width="1" />
<line x1="75.60" y1="312.00" x2="75.60" y2="315.75" stroke="#000" stroke-width="1.2" />
<line x1="71.00" y1="315.75" x2="80.20" y2="315.75" stroke="#000" stroke-width="1.2" />
<line x1="71.00" y1="315.15" x2="71.00" y2="319.50" stroke="#000" stroke-width="1.2" />
<line x1="80.20" y1="315.15" x2="80.20" y2="319.50" stroke="#000" stroke-width="1.2" />
<circle cx="75.60" cy="310.20" r="2.10" fill="#fff" stroke="#000" stroke-width="1.0" />
<circle cx="71.00" cy="321.30" r="2.10" fill="#0d0d4a" stroke="#3535f0" stroke-width="1.15" />
<circle cx="80.20" cy="321.30" r="2.10" fill="#fff" stroke="#2ec02e" stroke-width="1.15" />
<rect x="68.20" y="325.60" width="15.00" height="2.00" fill="#fff" stroke="#aaa" stroke-width="0.6" rx="0.8"/>
<polyline points="25.00,348.16 26.82,345.10 28.64,343.09 30.46,341.36 32.28,339.79 34.10,338.34 35.92,336.96 37.74,335.66 39.56,334.41 41.38,333.20 43.20,332.03" fill="none" stroke="#7070f0" stroke-width="2.4" stroke-linejoin="round" />
<polyline points="25.00,348.16 26.82,344.85 28.64,342.59 30.46,340.61 32.28,338.79 34.10,337.09 35.92,335.46 37.74,333.91 39.56,332.41 41.38,330.95 43.20,329.53" fill="none" stroke="#22cc22" stroke-width="3.0" stroke-linejoin="round" />
<polyline points="25.00,348.16 26.82,344.88 28.64,342.65 30.46,340.70 32.28,338.91 34.10,337.24 35.92,335.64 37.74,334.12 39.56,332.65 41.38,331.22 43.20,329.83" fill="none" stroke="#2a5a5a" stroke-width="0.8" stroke-linejoin="round" />
<line x1="25.00" y1="328.50" x2="25.00" y2="349.20" stroke="#222" stroke-width="1.2" />
<line x1="25.00" y1="348.90" x2="43.20" y2="348.90" stroke="#555" stroke-width="1.2" />
<polyline points="45.30,348.16 47.15,344.65 49.00,342.19 50.85,340.01 52.70,337.99 54.55,336.09 56.40,334.26 58.25,332.51 60.10,330.81 61.95,329.15 63.80,327.53" fill="none" stroke="#7070f0" stroke-width="2.4" stroke-linejoin="round" />
<polyline points="45.30,348.16 47.15,344.85 49.00,342.59 50.85,340.61 52.70,338.79 54.55,337.09 56.40,335.46 58.25,333.91 60.10,332.41 61.95,330.95 63.80,329.53" fill="none" stroke="#22cc22" stroke-width="3.0" stroke-linejoin="round" />
<polyline points="45.30,348.16 47.15,344.88 49.00,342.65 50.85,340.70 52.70,338.91 54.55,337.24 56.40,335.64 58.25,334.12 60.10,332.65 61.95,331.22 63.80,329.83" fill="none" stroke="#2a5a5a" stroke-width="0.8" stroke-linejoin="round" />
<line x1="45.30" y1="328.50" x2="45.30" y2="349.20" stroke="#222" stroke-width="1.2" />
<line x1="45.30" y1="348.90" x2="63.80" y2="348.90" stroke="#555" stroke-width="1.2" />
<polyline points="66.20,348.16 68.06,345.25 69.92,343.39 71.78,341.81 73.64,340.39 75.50,339.09 77.36,337.86 79.22,336.71 81.08,335.61 82.94,334.55 84.80,333.53" fill="none" stroke="#7070f0" stroke-width="2.4" stroke-linejoin="round" />
<polyline points="66.20,348.16 68.06,344.85 69.92,342.59 71.78,340.61 73.64,338.79 75.50,337.09 77.36,335.46 79.22,333.91 81.08,332.41 82.94,330.95 84.80,329.53" fill="none" stroke="#22cc22" stroke-width="3.0" stroke-linejoin="round" />
<polyline points="66.20,348.16 68.06,344.88 69.92,342.65 71.78,340.70 73.64,338.91 75.50,337.24 77.36,335.64 79.22,334.12 81.08,332.65 82.94,331.22 84.80,329.83" fill="none" stroke="#2a5a5a" stroke-width="0.8" stroke-linejoin="round" />
<line x1="66.20" y1="328.50" x2="66.20" y2="349.20" stroke="#222" stroke-width="1.2" />
<line x1="66.20" y1="348.90" x2="84.80" y2="348.90" stroke="#555" stroke-width="1.2" />
<text x="0" y="2.10" font-size="7" text-anchor="middle" font-weight="normal" fill="#111" transform="translate(17.40,344.00) rotate(-90)" >CD71</text>
<line x1="21.90" y1="351.20" x2="21.90" y2="344.20" stroke="#000" stroke-width="1.3" />
<polygon points="20.20,344.70 23.60,344.70 21.90,342.70" fill="#000" stroke="none" stroke-width="1" />
<line x1="21.30" y1="351.20" x2="29.40" y2="351.20" stroke="#000" stroke-width="1.3" />
<polygon points="28.90,349.50 28.90,352.90 30.90,351.20" fill="#000" stroke="none" stroke-width="1" />
<text x="22.30" y="359.02" font-size="7" text-anchor="start" font-weight="normal" fill="#111" >Time</text>
<text x="197.70" y="222.45" font-size="12" font-weight="bold" fill="#000">F</text>
<text x="261.20" y="215.52" font-size="7" text-anchor="middle" font-weight="normal" fill="#111" >CD71-AF488</text>
<text x="208.70" y="225.22" font-size="7" text-anchor="start" font-weight="normal" fill="#111" >p-values:</text>
<text x="249.60" y="225.22" font-size="7" text-anchor="middle" font-weight="normal" fill="#111" >0.545</text>
<text x="272.60" y="225.22" font-size="7" text-anchor="middle" font-weight="normal" fill="#111" >0.622</text>
<line x1="242.90" y1="234.80" x2="261.50" y2="234.80" stroke="#000" stroke-width="0.9" />
<text x="252.20" y="233.64" font-size="6.5" text-anchor="middle" font-weight="normal" fill="#111" >ns</text>
<line x1="264.00" y1="234.80" x2="281.30" y2="234.80" stroke="#000" stroke-width="0.9" />
<text x="272.65" y="233.64" font-size="6.5" text-anchor="middle" font-weight="normal" fill="#111" >ns</text>
<line x1="239.00" y1="239.80" x2="239.00" y2="312.50" stroke="#000" stroke-width="1.6" />
<line x1="238.20" y1="311.50" x2="287.50" y2="311.50" stroke="#000" stroke-width="1.8" />
<line x1="236.20" y1="248.50" x2="239.00" y2="248.50" stroke="#000" stroke-width="1.0" />
<text x="235.60" y="251.02" font-size="7" text-anchor="end" font-weight="normal" fill="#111" >80</text>
<line x1="236.20" y1="276.00" x2="239.00" y2="276.00" stroke="#000" stroke-width="1.0" />
<text x="235.60" y="278.52" font-size="7" text-anchor="end" font-weight="normal" fill="#111" >40</text>
<line x1="236.20" y1="304.60" x2="239.00" y2="304.60" stroke="#000" stroke-width="1.0" />
<text x="235.60" y="307.12" font-size="7" text-anchor="end" font-weight="normal" fill="#111" >0</text>
<line x1="246.15" y1="253.70" x2="246.15" y2="270.60" stroke="#000" stroke-width="0.9" />
<line x1="246.15" y1="281.70" x2="246.15" y2="296.50" stroke="#000" stroke-width="0.9" />
<line x1="243.55" y1="253.70" x2="248.75" y2="253.70" stroke="#000" stroke-width="0.9" />
<line x1="243.55" y1="296.50" x2="248.75" y2="296.50" stroke="#000" stroke-width="0.9" />
<rect x="241.30" y="270.60" width="9.70" height="11.10" fill="#5a5a5a" stroke="#000" stroke-width="0.9" />
<line x1="241.80" y1="273.30" x2="250.50" y2="273.30" stroke="#bbb" stroke-width="0.5" />
<line x1="241.80" y1="278.85" x2="250.50" y2="278.85" stroke="#bbb" stroke-width="0.5" />
<line x1="241.30" y1="276.00" x2="251.00" y2="276.00" stroke="#000" stroke-width="0.9" />
<circle cx="246.00" cy="244.20" r="1.45" fill="#000" stroke="none" stroke-width="1" />
<circle cx="242.00" cy="248.80" r="1.45" fill="#000" stroke="none" stroke-width="1" />
<circle cx="247.70" cy="248.80" r="1.45" fill="#000" stroke="none" stroke-width="1" />
<circle cx="251.00" cy="248.80" r="1.45" fill="#000" stroke="none" stroke-width="1" />
<circle cx="246.00" cy="305.80" r="1.45" fill="#000" stroke="none" stroke-width="1" />
<line x1="257.50" y1="253.70" x2="257.50" y2="270.60" stroke="#000" stroke-width="0.9" />
<line x1="257.50" y1="282.00" x2="257.50" y2="300.80" stroke="#000" stroke-width="0.9" />
<line x1="254.90" y1="253.70" x2="260.10" y2="253.70" stroke="#000" stroke-width="0.9" />
<line x1="254.90" y1="300.80" x2="260.10" y2="300.80" stroke="#000" stroke-width="0.9" />
<rect x="252.50" y="270.60" width="10.00" height="11.40" fill="#fff" stroke="#000" stroke-width="0.9" />
<line x1="252.50" y1="278.80" x2="262.50" y2="278.80" stroke="#000" stroke-width="0.9" />
<circle cx="257.50" cy="244.20" r="1.45" fill="#000" stroke="none" stroke-width="1" />
<circle cx="257.50" cy="246.50" r="1.45" fill="#000" stroke="none" stroke-width="1" />
<circle cx="257.50" cy="305.80" r="1.45" fill="#000" stroke="none" stroke-width="1" />
<line x1="269.20" y1="252.30" x2="269.20" y2="273.50" stroke="#000" stroke-width="0.9" />
<line x1="269.20" y1="286.00" x2="269.20" y2="299.40" stroke="#000" stroke-width="0.9" />
<line x1="266.60" y1="252.30" x2="271.80" y2="252.30" stroke="#000" stroke-width="0.9" />
<line x1="266.60" y1="299.40" x2="271.80" y2="299.40" stroke="#000" stroke-width="0.9" />
<rect x="264.40" y="273.50" width="9.60" height="12.50" fill="#a0a0a0" stroke="#000" stroke-width="0.9" />
<line x1="264.90" y1="276.35" x2="273.50" y2="276.35" stroke="#ccc" stroke-width="0.5" />
<line x1="264.90" y1="282.60" x2="273.50" y2="282.60" stroke="#ccc" stroke-width="0.5" />
<line x1="264.40" y1="279.20" x2="274.00" y2="279.20" stroke="#000" stroke-width="0.9" />
<line x1="280.30" y1="259.40" x2="280.30" y2="276.30" stroke="#000" stroke-width="0.9" />
<line x1="280.30" y1="286.00" x2="280.30" y2="301.30" stroke="#000" stroke-width="0.9" />
<line x1="277.70" y1="259.40" x2="282.90" y2="259.40" stroke="#000" stroke-width="0.9" />
<line x1="277.70" y1="301.30" x2="282.90" y2="301.30" stroke="#000" stroke-width="0.9" />
<rect x="275.40" y="276.30" width="9.80" height="9.70" fill="#a0a0a0" stroke="#000" stroke-width="0.9" />
<line x1="275.90" y1="279.65" x2="284.70" y2="279.65" stroke="#ccc" stroke-width="0.5" />
<line x1="275.90" y1="284.50" x2="284.70" y2="284.50" stroke="#ccc" stroke-width="0.5" />
<line x1="275.40" y1="283.00" x2="285.20" y2="283.00" stroke="#000" stroke-width="0.9" />
<circle cx="280.40" cy="244.20" r="1.45" fill="#000" stroke="none" stroke-width="1" />
<circle cx="280.40" cy="252.70" r="1.45" fill="#000" stroke="none" stroke-width="1" />
<circle cx="280.40" cy="255.00" r="1.45" fill="#000" stroke="none" stroke-width="1" />
<circle cx="280.40" cy="305.30" r="1.45" fill="#000" stroke="none" stroke-width="1" />
<circle cx="280.40" cy="309.50" r="1.45" fill="#000" stroke="none" stroke-width="1" />
<circle cx="246.70" cy="319.30" r="5.00" fill="#000" stroke="#000" stroke-width="0.8" />
<circle cx="257.10" cy="319.30" r="5.00" fill="#fff" stroke="#000" stroke-width="0.8" />
<circle cx="270.20" cy="319.30" r="5.00" fill="#a8a8a8" stroke="#000" stroke-width="0.8" />
<circle cx="280.40" cy="319.30" r="5.00" fill="#a8a8a8" stroke="#000" stroke-width="0.8" />
<text x="0" y="2.10" font-size="7" text-anchor="middle" font-weight="normal" fill="#111" transform="translate(213.50,275.40) rotate(-90)" >Production [au]</text>
<text x="305.40" y="223.35" font-size="12" font-weight="bold" fill="#000">G</text>
<text x="375.40" y="215.52" font-size="7" text-anchor="middle" font-weight="normal" fill="#111" >TMRM</text>
<text x="361.50" y="225.22" font-size="7" text-anchor="middle" font-weight="normal" fill="#111" >0.005</text>
<text x="386.10" y="225.22" font-size="7" text-anchor="middle" font-weight="normal" fill="#111" >0.306</text>
<line x1="354.80" y1="235.20" x2="372.70" y2="235.20" stroke="#000" stroke-width="0.9" />
<text x="363.75" y="234.04" font-size="6.5" text-anchor="middle" font-weight="normal" fill="#111" >**</text>
<line x1="376.30" y1="235.20" x2="394.20" y2="235.20" stroke="#000" stroke-width="0.9" />
<text x="385.25" y="234.04" font-size="6.5" text-anchor="middle" font-weight="normal" fill="#111" >ns</text>
<text x="335.6" y="237.3" font-size="7" fill="#1a1a1a">x10<tspan font-size="4.5" dy="-2.6">3</tspan></text>
<line x1="350.80" y1="239.80" x2="350.80" y2="312.90" stroke="#000" stroke-width="1.6" />
<line x1="350.00" y1="311.90" x2="398.80" y2="311.90" stroke="#000" stroke-width="1.8" />
<line x1="348.00" y1="248.80" x2="350.80" y2="248.80" stroke="#000" stroke-width="1.0" />
<text x="347.40" y="251.32" font-size="7" text-anchor="end" font-weight="normal" fill="#111" >4</text>
<line x1="348.00" y1="280.20" x2="350.80" y2="280.20" stroke="#000" stroke-width="1.0" />
<text x="347.40" y="282.72" font-size="7" text-anchor="end" font-weight="normal" fill="#111" >2</text>
<line x1="348.00" y1="311.90" x2="350.80" y2="311.90" stroke="#000" stroke-width="1.0" />
<text x="347.40" y="314.42" font-size="7" text-anchor="end" font-weight="normal" fill="#111" >0</text>
<line x1="357.85" y1="270.00" x2="357.85" y2="286.30" stroke="#000" stroke-width="0.9" />
<line x1="357.85" y1="296.90" x2="357.85" y2="306.50" stroke="#000" stroke-width="0.9" />
<line x1="355.25" y1="270.00" x2="360.45" y2="270.00" stroke="#000" stroke-width="0.9" />
<line x1="355.25" y1="306.50" x2="360.45" y2="306.50" stroke="#000" stroke-width="0.9" />
<rect x="353.00" y="286.30" width="9.70" height="10.60" fill="#5a5a5a" stroke="#000" stroke-width="0.9" />
<line x1="353.50" y1="289.00" x2="362.20" y2="289.00" stroke="#bbb" stroke-width="0.5" />
<line x1="353.50" y1="294.30" x2="362.20" y2="294.30" stroke="#bbb" stroke-width="0.5" />
<line x1="353.00" y1="291.70" x2="362.70" y2="291.70" stroke="#000" stroke-width="0.9" />
<circle cx="355.50" cy="264.20" r="1.45" fill="#000" stroke="none" stroke-width="1" />
<circle cx="355.50" cy="266.50" r="1.45" fill="#000" stroke="none" stroke-width="1" />
<circle cx="360.00" cy="264.50" r="1.45" fill="#000" stroke="none" stroke-width="1" />
<line x1="369.00" y1="278.80" x2="369.00" y2="293.00" stroke="#000" stroke-width="0.9" />
<line x1="369.00" y1="303.30" x2="369.00" y2="307.00" stroke="#000" stroke-width="0.9" />
<line x1="366.40" y1="278.80" x2="371.60" y2="278.80" stroke="#000" stroke-width="0.9" />
<line x1="366.40" y1="307.00" x2="371.60" y2="307.00" stroke="#000" stroke-width="0.9" />
<rect x="364.20" y="293.00" width="9.60" height="10.30" fill="#fff" stroke="#000" stroke-width="0.9" />
<line x1="364.20" y1="298.00" x2="373.80" y2="298.00" stroke="#000" stroke-width="0.9" />
<circle cx="369.00" cy="251.50" r="1.45" fill="#000" stroke="none" stroke-width="1" />
<circle cx="369.00" cy="274.40" r="1.45" fill="#000" stroke="none" stroke-width="1" />
<line x1="381.00" y1="270.00" x2="381.00" y2="286.30" stroke="#000" stroke-width="0.9" />
<line x1="381.00" y1="298.00" x2="381.00" y2="305.20" stroke="#000" stroke-width="0.9" />
<line x1="378.40" y1="270.00" x2="383.60" y2="270.00" stroke="#000" stroke-width="0.9" />
<line x1="378.40" y1="305.20" x2="383.60" y2="305.20" stroke="#000" stroke-width="0.9" />
<rect x="376.20" y="286.30" width="9.60" height="11.70" fill="#a0a0a0" stroke="#000" stroke-width="0.9" />
<line x1="376.70" y1="289.50" x2="385.30" y2="289.50" stroke="#ccc" stroke-width="0.5" />
<line x1="376.70" y1="295.35" x2="385.30" y2="295.35" stroke="#ccc" stroke-width="0.5" />
<line x1="376.20" y1="292.70" x2="385.80" y2="292.70" stroke="#000" stroke-width="0.9" />
<circle cx="381.00" cy="242.50" r="1.45" fill="#000" stroke="none" stroke-width="1" />
<circle cx="381.00" cy="259.60" r="1.45" fill="#000" stroke="none" stroke-width="1" />
<line x1="392.50" y1="269.00" x2="392.50" y2="285.60" stroke="#000" stroke-width="0.9" />
<line x1="392.50" y1="296.20" x2="392.50" y2="308.50" stroke="#000" stroke-width="0.9" />
<line x1="389.90" y1="269.00" x2="395.10" y2="269.00" stroke="#000" stroke-width="0.9" />
<line x1="389.90" y1="308.50" x2="395.10" y2="308.50" stroke="#000" stroke-width="0.9" />
<rect x="387.70" y="285.60" width="9.60" height="10.60" fill="#a0a0a0" stroke="#000" stroke-width="0.9" />
<line x1="388.20" y1="288.95" x2="396.80" y2="288.95" stroke="#ccc" stroke-width="0.5" />
<line x1="388.20" y1="294.25" x2="396.80" y2="294.25" stroke="#ccc" stroke-width="0.5" />
<line x1="387.70" y1="292.30" x2="397.30" y2="292.30" stroke="#000" stroke-width="0.9" />
<circle cx="392.50" cy="260.40" r="1.45" fill="#000" stroke="none" stroke-width="1" />
<circle cx="357.00" cy="319.60" r="5.00" fill="#000" stroke="#000" stroke-width="0.8" />
<circle cx="367.00" cy="319.60" r="5.00" fill="#fff" stroke="#000" stroke-width="0.8" />
<circle cx="380.00" cy="319.60" r="5.00" fill="#a8a8a8" stroke="#000" stroke-width="0.8" />
<circle cx="390.00" cy="319.60" r="5.00" fill="#a8a8a8" stroke="#000" stroke-width="0.8" />
<text x="0" y="2.10" font-size="7" text-anchor="middle" font-weight="normal" fill="#111" transform="translate(324.20,276.90) rotate(-90)" >Area under the curve [au]</text>
<text x="422.50" y="223.35" font-size="12" font-weight="bold" fill="#000">H</text>
<text x="480.50" y="215.52" font-size="7" text-anchor="middle" font-weight="normal" fill="#111" >Cell cycle time</text>
<text x="471.10" y="225.22" font-size="7" text-anchor="middle" font-weight="normal" fill="#111" >0.440</text>
<text x="490.40" y="225.22" font-size="7" text-anchor="middle" font-weight="normal" fill="#111" >0.928</text>
<line x1="462.90" y1="235.20" x2="481.20" y2="235.20" stroke="#000" stroke-width="0.9" />
<text x="472.05" y="234.04" font-size="6.5" text-anchor="middle" font-weight="normal" fill="#111" >ns</text>
<line x1="484.00" y1="235.20" x2="502.30" y2="235.20" stroke="#000" stroke-width="0.9" />
<text x="493.15" y="234.04" font-size="6.5" text-anchor="middle" font-weight="normal" fill="#111" >ns</text>
<line x1="459.40" y1="240.00" x2="459.40" y2="313.00" stroke="#000" stroke-width="1.6" />
<line x1="458.60" y1="312.00" x2="507.50" y2="312.00" stroke="#000" stroke-width="1.8" />
<line x1="456.60" y1="243.70" x2="459.40" y2="243.70" stroke="#000" stroke-width="1.0" />
<text x="456.00" y="246.22" font-size="7" text-anchor="end" font-weight="normal" fill="#111" >4</text>
<line x1="456.60" y1="277.30" x2="459.40" y2="277.30" stroke="#000" stroke-width="1.0" />
<text x="456.00" y="279.82" font-size="7" text-anchor="end" font-weight="normal" fill="#111" >2</text>
<line x1="456.60" y1="312.00" x2="459.40" y2="312.00" stroke="#000" stroke-width="1.0" />
<text x="456.00" y="314.52" font-size="7" text-anchor="end" font-weight="normal" fill="#111" >0</text>
<line x1="466.45" y1="274.40" x2="466.45" y2="289.20" stroke="#000" stroke-width="0.9" />
<line x1="466.45" y1="298.50" x2="466.45" y2="302.00" stroke="#000" stroke-width="0.9" />
<line x1="463.85" y1="274.40" x2="469.05" y2="274.40" stroke="#000" stroke-width="0.9" />
<line x1="463.85" y1="302.00" x2="469.05" y2="302.00" stroke="#000" stroke-width="0.9" />
<rect x="461.90" y="289.20" width="9.10" height="9.30" fill="#5a5a5a" stroke="#000" stroke-width="0.9" />
<line x1="462.40" y1="291.90" x2="470.50" y2="291.90" stroke="#bbb" stroke-width="0.5" />
<line x1="462.40" y1="296.55" x2="470.50" y2="296.55" stroke="#bbb" stroke-width="0.5" />
<line x1="461.90" y1="294.60" x2="471.00" y2="294.60" stroke="#000" stroke-width="0.9" />
<circle cx="466.50" cy="254.40" r="1.45" fill="#000" stroke="none" stroke-width="1" />
<circle cx="466.50" cy="269.20" r="1.45" fill="#000" stroke="none" stroke-width="1" />
<line x1="477.40" y1="280.80" x2="477.40" y2="291.70" stroke="#000" stroke-width="0.9" />
<line x1="477.40" y1="298.00" x2="477.40" y2="301.70" stroke="#000" stroke-width="0.9" />
<line x1="474.80" y1="280.80" x2="480.00" y2="280.80" stroke="#000" stroke-width="0.9" />
<line x1="474.80" y1="301.70" x2="480.00" y2="301.70" stroke="#000" stroke-width="0.9" />
<rect x="472.90" y="291.70" width="9.00" height="6.30" fill="#fff" stroke="#000" stroke-width="0.9" />
<line x1="472.90" y1="295.60" x2="481.90" y2="295.60" stroke="#000" stroke-width="0.9" />
<circle cx="477.40" cy="254.00" r="1.45" fill="#000" stroke="none" stroke-width="1" />
<circle cx="477.40" cy="273.50" r="1.45" fill="#000" stroke="none" stroke-width="1" />
<circle cx="477.40" cy="276.50" r="1.45" fill="#000" stroke="none" stroke-width="1" />
<line x1="489.05" y1="272.50" x2="489.05" y2="288.50" stroke="#000" stroke-width="0.9" />
<line x1="489.05" y1="298.00" x2="489.05" y2="303.30" stroke="#000" stroke-width="0.9" />
<line x1="486.45" y1="272.50" x2="491.65" y2="272.50" stroke="#000" stroke-width="0.9" />
<line x1="486.45" y1="303.30" x2="491.65" y2="303.30" stroke="#000" stroke-width="0.9" />
<rect x="484.40" y="288.50" width="9.30" height="9.50" fill="#a0a0a0" stroke="#000" stroke-width="0.9" />
<line x1="484.90" y1="291.10" x2="493.20" y2="291.10" stroke="#ccc" stroke-width="0.5" />
<line x1="484.90" y1="295.85" x2="493.20" y2="295.85" stroke="#ccc" stroke-width="0.5" />
<line x1="484.40" y1="293.70" x2="493.70" y2="293.70" stroke="#000" stroke-width="0.9" />
<circle cx="485.00" cy="259.60" r="1.45" fill="#000" stroke="none" stroke-width="1" />
<circle cx="489.00" cy="259.60" r="1.45" fill="#000" stroke="none" stroke-width="1" />
<circle cx="494.00" cy="259.60" r="1.45" fill="#000" stroke="none" stroke-width="1" />
<circle cx="487.00" cy="265.40" r="1.45" fill="#000" stroke="none" stroke-width="1" />
<circle cx="494.00" cy="265.40" r="1.45" fill="#000" stroke="none" stroke-width="1" />
<circle cx="485.00" cy="270.00" r="1.45" fill="#000" stroke="none" stroke-width="1" />
<circle cx="490.00" cy="270.00" r="1.45" fill="#000" stroke="none" stroke-width="1" />
<line x1="500.60" y1="272.00" x2="500.60" y2="287.30" stroke="#000" stroke-width="0.9" />
<line x1="500.60" y1="298.00" x2="500.60" y2="302.70" stroke="#000" stroke-width="0.9" />
<line x1="498.00" y1="272.00" x2="503.20" y2="272.00" stroke="#000" stroke-width="0.9" />
<line x1="498.00" y1="302.70" x2="503.20" y2="302.70" stroke="#000" stroke-width="0.9" />
<rect x="496.00" y="287.30" width="9.20" height="10.70" fill="#a0a0a0" stroke="#000" stroke-width="0.9" />
<line x1="496.50" y1="290.50" x2="504.70" y2="290.50" stroke="#ccc" stroke-width="0.5" />
<line x1="496.50" y1="295.85" x2="504.70" y2="295.85" stroke="#ccc" stroke-width="0.5" />
<line x1="496.00" y1="293.70" x2="505.20" y2="293.70" stroke="#000" stroke-width="0.9" />
<circle cx="499.00" cy="259.60" r="1.45" fill="#000" stroke="none" stroke-width="1" />
<circle cx="503.00" cy="259.60" r="1.45" fill="#000" stroke="none" stroke-width="1" />
<circle cx="500.00" cy="264.20" r="1.45" fill="#000" stroke="none" stroke-width="1" />
<circle cx="466.20" cy="319.30" r="5.00" fill="#000" stroke="#000" stroke-width="0.8" />
<circle cx="476.20" cy="319.30" r="5.00" fill="#fff" stroke="#000" stroke-width="0.8" />
<circle cx="490.20" cy="319.30" r="5.00" fill="#a8a8a8" stroke="#000" stroke-width="0.8" />
<circle cx="499.80" cy="319.30" r="5.00" fill="#a8a8a8" stroke="#000" stroke-width="0.8" />
<text x="0" y="2.10" font-size="7" text-anchor="middle" font-weight="normal" fill="#111" transform="translate(438.70,280.20) rotate(-90)" >Cell cycle time [days]</text>
<rect x="276.30" y="331.40" width="191.70" height="11.70" fill="#fff" stroke="#222" stroke-width="0.9" />
<text x="281.50" y="340.12" font-size="7" text-anchor="start" font-weight="normal" fill="#111" >TMRM inheritance:</text>
<circle cx="348.80" cy="337.40" r="3.70" fill="#000" stroke="none" stroke-width="1" />
<text x="355.60" y="340.12" font-size="7" text-anchor="middle" font-weight="bold" fill="#111" >&gt;</text>
<circle cx="363.80" cy="337.40" r="3.70" fill="#fff" stroke="#000" stroke-width="0.8" />
<text x="370.50" y="340.12" font-size="7" text-anchor="start" font-weight="normal" fill="#111" >Asymmetric</text>
<circle cx="418.00" cy="337.40" r="3.70" fill="#a8a8a8" stroke="#000" stroke-width="0.8" />
<circle cx="425.50" cy="337.40" r="3.70" fill="#a8a8a8" stroke="#000" stroke-width="0.8" />
<text x="432.00" y="340.12" font-size="7" text-anchor="start" font-weight="normal" fill="#111" >Symmetric</text>
<text x="50.3" y="383.9" font-size="11" font-weight="bold" fill="#000">I</text>
<line x1="75.00" y1="380.60" x2="257.20" y2="380.60" stroke="#444" stroke-width="0.8" />
<text x="178.10" y="378.82" font-size="7" text-anchor="middle" font-weight="normal" fill="#111" >Division Modes</text>
<text x="84.50" y="395.52" font-size="7" text-anchor="start" font-weight="normal" fill="#111" >p-values:</text>
<text x="182.80" y="394.52" font-size="7" text-anchor="middle" font-weight="normal" fill="#111" >0.020</text>
<text x="182.80" y="403.16" font-size="6" text-anchor="middle" font-weight="normal" fill="#111" >*</text>
<path d="M129.5 404.5V397.2H230.7V424.5" fill="none" stroke="#000" stroke-width="0.9" />
<line x1="117.80" y1="404.60" x2="117.80" y2="484.60" stroke="#000" stroke-width="1.3" />
<line x1="117.20" y1="483.60" x2="263.80" y2="483.60" stroke="#000" stroke-width="1.6" />
<line x1="115.20" y1="416.20" x2="117.80" y2="416.20" stroke="#000" stroke-width="1.0" />
<text x="114.40" y="418.65" font-size="6.8" text-anchor="end" font-weight="normal" fill="#111" >30</text>
<line x1="115.20" y1="438.90" x2="117.80" y2="438.90" stroke="#000" stroke-width="1.0" />
<text x="114.40" y="441.35" font-size="6.8" text-anchor="end" font-weight="normal" fill="#111" >20</text>
<line x1="115.20" y1="461.30" x2="117.80" y2="461.30" stroke="#000" stroke-width="1.0" />
<text x="114.40" y="463.75" font-size="6.8" text-anchor="end" font-weight="normal" fill="#111" >10</text>
<line x1="115.20" y1="483.60" x2="117.80" y2="483.60" stroke="#000" stroke-width="1.0" />
<text x="114.40" y="486.05" font-size="6.8" text-anchor="end" font-weight="normal" fill="#111" >0</text>
<line x1="129.55" y1="483.60" x2="129.55" y2="485.80" stroke="#000" stroke-width="0.9" />
<line x1="149.95" y1="483.60" x2="149.95" y2="485.80" stroke="#000" stroke-width="0.9" />
<line x1="170.30" y1="483.60" x2="170.30" y2="485.80" stroke="#000" stroke-width="0.9" />
<line x1="190.65" y1="483.60" x2="190.65" y2="485.80" stroke="#000" stroke-width="0.9" />
<line x1="211.15" y1="483.60" x2="211.15" y2="485.80" stroke="#000" stroke-width="0.9" />
<line x1="231.50" y1="483.60" x2="231.50" y2="485.80" stroke="#000" stroke-width="0.9" />
<line x1="251.65" y1="483.60" x2="251.65" y2="485.80" stroke="#000" stroke-width="0.9" />
<line x1="129.55" y1="414.10" x2="129.55" y2="409.60" stroke="#000" stroke-width="1.0" />
<line x1="125.55" y1="409.60" x2="133.55" y2="409.60" stroke="#000" stroke-width="1.2" />
<rect x="121.60" y="414.70" width="15.90" height="68.90" fill="#000" stroke="#000" stroke-width="1.3" />
<text x="129.55" y="493.07" font-size="6.3" text-anchor="middle" font-weight="normal" fill="#111" >AAA</text>
<line x1="149.95" y1="474.90" x2="149.95" y2="472.00" stroke="#000" stroke-width="1.0" />
<line x1="145.95" y1="472.00" x2="153.95" y2="472.00" stroke="#000" stroke-width="1.2" />
<rect x="141.80" y="475.50" width="16.30" height="8.10" fill="#fff" stroke="#000" stroke-width="1.3" />
<text x="149.95" y="493.07" font-size="6.3" text-anchor="middle" font-weight="normal" fill="#111" >ASA</text>
<line x1="170.30" y1="447.70" x2="170.30" y2="442.70" stroke="#000" stroke-width="1.0" />
<line x1="166.30" y1="442.70" x2="174.30" y2="442.70" stroke="#000" stroke-width="1.2" />
<rect x="162.50" y="448.30" width="15.60" height="35.30" fill="#fff" stroke="#000" stroke-width="1.3" />
<text x="170.30" y="493.07" font-size="6.3" text-anchor="middle" font-weight="normal" fill="#111" >ASS</text>
<line x1="190.65" y1="463.80" x2="190.65" y2="460.50" stroke="#000" stroke-width="1.0" />
<line x1="186.65" y1="460.50" x2="194.65" y2="460.50" stroke="#000" stroke-width="1.2" />
<rect x="182.60" y="464.40" width="16.10" height="19.20" fill="#fff" stroke="#000" stroke-width="1.3" />
<text x="190.65" y="493.07" font-size="6.3" text-anchor="middle" font-weight="normal" fill="#111" >AAS</text>
<line x1="211.15" y1="464.30" x2="211.15" y2="458.80" stroke="#000" stroke-width="1.0" />
<line x1="207.15" y1="458.80" x2="215.15" y2="458.80" stroke="#000" stroke-width="1.2" />
<rect x="203.20" y="464.90" width="15.90" height="18.70" fill="#fff" stroke="#000" stroke-width="1.3" />
<text x="211.15" y="493.07" font-size="6.3" text-anchor="middle" font-weight="normal" fill="#111" >SSA</text>
<line x1="231.50" y1="434.00" x2="231.50" y2="430.20" stroke="#000" stroke-width="1.0" />
<line x1="227.50" y1="430.20" x2="235.50" y2="430.20" stroke="#000" stroke-width="1.2" />
<rect x="223.50" y="434.60" width="16.00" height="49.00" fill="#fff" stroke="#000" stroke-width="1.3" />
<text x="231.50" y="493.07" font-size="6.3" text-anchor="middle" font-weight="normal" fill="#111" >SAS</text>
<line x1="251.65" y1="465.50" x2="251.65" y2="461.30" stroke="#000" stroke-width="1.0" />
<line x1="247.65" y1="461.30" x2="255.65" y2="461.30" stroke="#000" stroke-width="1.2" />
<rect x="244.10" y="466.10" width="15.10" height="17.50" fill="#fff" stroke="#000" stroke-width="1.3" />
<text x="251.65" y="493.07" font-size="6.3" text-anchor="middle" font-weight="normal" fill="#111" >SSS</text>
<text x="0" y="2.10" font-size="7" text-anchor="middle" font-weight="normal" fill="#111" transform="translate(95.60,449.00) rotate(-90)" >Frequency [%]</text>
<circle cx="123.70" cy="499.10" r="4.75" fill="#000" stroke="#000" stroke-width="0.8" />
<circle cx="133.40" cy="499.10" r="4.75" fill="#fff" stroke="#000" stroke-width="0.8" />
<circle cx="144.10" cy="499.10" r="4.75" fill="#000" stroke="#000" stroke-width="0.8" />
<circle cx="153.80" cy="499.10" r="4.75" fill="#fff" stroke="#000" stroke-width="0.8" />
<circle cx="164.45" cy="499.10" r="4.75" fill="#000" stroke="#000" stroke-width="0.8" />
<circle cx="174.15" cy="499.10" r="4.75" fill="#fff" stroke="#000" stroke-width="0.8" />
<circle cx="184.80" cy="499.10" r="4.75" fill="#000" stroke="#000" stroke-width="0.8" />
<circle cx="194.50" cy="499.10" r="4.75" fill="#fff" stroke="#000" stroke-width="0.8" />
<circle cx="205.30" cy="499.10" r="4.75" fill="#a8a8a8" stroke="#000" stroke-width="0.8" />
<circle cx="215.00" cy="499.10" r="4.75" fill="#a8a8a8" stroke="#000" stroke-width="0.8" />
<circle cx="225.65" cy="499.10" r="4.75" fill="#a8a8a8" stroke="#000" stroke-width="0.8" />
<circle cx="235.35" cy="499.10" r="4.75" fill="#a8a8a8" stroke="#000" stroke-width="0.8" />
<circle cx="245.80" cy="499.10" r="4.75" fill="#a8a8a8" stroke="#000" stroke-width="0.8" />
<circle cx="255.50" cy="499.10" r="4.75" fill="#a8a8a8" stroke="#000" stroke-width="0.8" />
<circle cx="123.70" cy="509.10" r="4.75" fill="#fff" stroke="#000" stroke-width="0.8" />
<circle cx="133.40" cy="509.10" r="4.75" fill="#000" stroke="#000" stroke-width="0.8" />
<circle cx="144.10" cy="509.10" r="4.75" fill="#a8a8a8" stroke="#000" stroke-width="0.8" />
<circle cx="153.80" cy="509.10" r="4.75" fill="#a8a8a8" stroke="#000" stroke-width="0.8" />
<circle cx="164.45" cy="509.10" r="4.75" fill="#a8a8a8" stroke="#000" stroke-width="0.8" />
<circle cx="174.15" cy="509.10" r="4.75" fill="#a8a8a8" stroke="#000" stroke-width="0.8" />
<circle cx="184.80" cy="509.10" r="4.75" fill="#000" stroke="#000" stroke-width="0.8" />
<circle cx="194.50" cy="509.10" r="4.75" fill="#fff" stroke="#000" stroke-width="0.8" />
<circle cx="205.30" cy="509.10" r="4.75" fill="#a8a8a8" stroke="#000" stroke-width="0.8" />
<circle cx="215.00" cy="509.10" r="4.75" fill="#a8a8a8" stroke="#000" stroke-width="0.8" />
<circle cx="225.65" cy="509.10" r="4.75" fill="#000" stroke="#000" stroke-width="0.8" />
<circle cx="235.35" cy="509.10" r="4.75" fill="#fff" stroke="#000" stroke-width="0.8" />
<circle cx="245.80" cy="509.10" r="4.75" fill="#a8a8a8" stroke="#000" stroke-width="0.8" />
<circle cx="255.50" cy="509.10" r="4.75" fill="#a8a8a8" stroke="#000" stroke-width="0.8" />
<circle cx="123.70" cy="519.90" r="4.75" fill="#000" stroke="#000" stroke-width="0.8" />
<circle cx="133.40" cy="519.90" r="4.75" fill="#fff" stroke="#000" stroke-width="0.8" />
<circle cx="144.10" cy="519.90" r="4.75" fill="#fff" stroke="#000" stroke-width="0.8" />
<circle cx="153.80" cy="519.90" r="4.75" fill="#000" stroke="#000" stroke-width="0.8" />
<circle cx="164.45" cy="519.90" r="4.75" fill="#a8a8a8" stroke="#000" stroke-width="0.8" />
<circle cx="174.15" cy="519.90" r="4.75" fill="#a8a8a8" stroke="#000" stroke-width="0.8" />
<circle cx="184.80" cy="519.90" r="4.75" fill="#a8a8a8" stroke="#000" stroke-width="0.8" />
<circle cx="194.50" cy="519.90" r="4.75" fill="#a8a8a8" stroke="#000" stroke-width="0.8" />
<circle cx="205.30" cy="519.90" r="4.75" fill="#000" stroke="#000" stroke-width="0.8" />
<circle cx="215.00" cy="519.90" r="4.75" fill="#fff" stroke="#000" stroke-width="0.8" />
<circle cx="225.65" cy="519.90" r="4.75" fill="#a8a8a8" stroke="#000" stroke-width="0.8" />
<circle cx="235.35" cy="519.90" r="4.75" fill="#a8a8a8" stroke="#000" stroke-width="0.8" />
<circle cx="245.80" cy="519.90" r="4.75" fill="#a8a8a8" stroke="#000" stroke-width="0.8" />
<circle cx="255.50" cy="519.90" r="4.75" fill="#a8a8a8" stroke="#000" stroke-width="0.8" />
<text x="117.30" y="500.13" font-size="6.75" text-anchor="end" font-weight="normal" fill="#111" >TMRM AUC:</text>
<text x="117.30" y="511.63" font-size="6.75" text-anchor="end" font-weight="normal" fill="#111" >LysoBrite inheritance:</text>
<text x="117.30" y="521.33" font-size="6.75" text-anchor="end" font-weight="normal" fill="#111" >TMRM inheritance:</text>
<text x="117.30" y="532.13" font-size="6.75" text-anchor="end" font-weight="normal" fill="#111" >Clusters (see Supplemental Figure 7):</text>
<text x="129.00" y="532.45" font-size="6.8" text-anchor="middle" font-weight="normal" fill="#111" >1/2/4/6</text>
<text x="148.30" y="532.45" font-size="6.8" text-anchor="middle" font-weight="normal" fill="#111" >3</text>
<text x="168.60" y="532.45" font-size="6.8" text-anchor="middle" font-weight="normal" fill="#111" >5</text>
<text x="187.50" y="532.45" font-size="6.8" text-anchor="middle" font-weight="normal" fill="#111" >7/10</text>
<text x="211.30" y="532.45" font-size="6.8" text-anchor="middle" font-weight="normal" fill="#111" >8/11/13</text>
<text x="231.80" y="532.45" font-size="6.8" text-anchor="middle" font-weight="normal" fill="#111" >9</text>
<text x="249.60" y="532.45" font-size="6.8" text-anchor="middle" font-weight="normal" fill="#111" >12</text>
<text x="367.2" y="384.4" font-size="11" font-weight="bold" fill="#000">J</text>
<line x1="388.00" y1="380.60" x2="478.80" y2="380.60" stroke="#444" stroke-width="0.8" />
<text x="433.50" y="378.82" font-size="7" text-anchor="middle" font-weight="normal" fill="#111" >Asymmetric TMRM AUC</text>
<text x="427.00" y="394.52" font-size="7" text-anchor="middle" font-weight="normal" fill="#111" >0.002</text>
<text x="427.00" y="404.16" font-size="6" text-anchor="middle" font-weight="normal" fill="#111" >*</text>
<path d="M405.5 404.5V396.8H447.5V436.4" fill="none" stroke="#000" stroke-width="0.9" />
<line x1="393.20" y1="404.60" x2="393.20" y2="484.60" stroke="#000" stroke-width="1.3" />
<line x1="392.60" y1="483.60" x2="479.60" y2="483.60" stroke="#000" stroke-width="1.6" />
<line x1="390.60" y1="412.10" x2="393.20" y2="412.10" stroke="#000" stroke-width="1.0" />
<text x="389.80" y="414.55" font-size="6.8" text-anchor="end" font-weight="normal" fill="#111" >50</text>
<line x1="390.60" y1="448.00" x2="393.20" y2="448.00" stroke="#000" stroke-width="1.0" />
<text x="389.80" y="450.45" font-size="6.8" text-anchor="end" font-weight="normal" fill="#111" >25</text>
<line x1="390.60" y1="483.60" x2="393.20" y2="483.60" stroke="#000" stroke-width="1.0" />
<text x="389.80" y="486.05" font-size="6.8" text-anchor="end" font-weight="normal" fill="#111" >0</text>
<line x1="405.45" y1="483.60" x2="405.45" y2="485.80" stroke="#000" stroke-width="0.9" />
<line x1="426.00" y1="483.60" x2="426.00" y2="485.80" stroke="#000" stroke-width="0.9" />
<line x1="446.85" y1="483.60" x2="446.85" y2="485.80" stroke="#000" stroke-width="0.9" />
<line x1="467.35" y1="483.60" x2="467.35" y2="485.80" stroke="#000" stroke-width="0.9" />
<line x1="405.45" y1="410.00" x2="405.45" y2="406.60" stroke="#000" stroke-width="1.0" />
<line x1="401.45" y1="406.60" x2="409.45" y2="406.60" stroke="#000" stroke-width="1.2" />
<rect x="397.30" y="410.60" width="16.30" height="73.00" fill="#000" stroke="#000" stroke-width="1.3" />
<text x="405.45" y="493.07" font-size="6.3" text-anchor="middle" font-weight="normal" fill="#111" >AAA</text>
<line x1="426.00" y1="474.50" x2="426.00" y2="472.00" stroke="#000" stroke-width="1.0" />
<line x1="422.00" y1="472.00" x2="430.00" y2="472.00" stroke="#000" stroke-width="1.2" />
<rect x="418.00" y="475.10" width="16.00" height="8.50" fill="#fff" stroke="#000" stroke-width="1.3" />
<text x="426.00" y="493.07" font-size="6.3" text-anchor="middle" font-weight="normal" fill="#111" >ASA</text>
<line x1="446.85" y1="445.50" x2="446.85" y2="441.00" stroke="#000" stroke-width="1.0" />
<line x1="442.85" y1="441.00" x2="450.85" y2="441.00" stroke="#000" stroke-width="1.2" />
<rect x="438.70" y="446.10" width="16.30" height="37.50" fill="#fff" stroke="#000" stroke-width="1.3" />
<text x="446.85" y="493.07" font-size="6.3" text-anchor="middle" font-weight="normal" fill="#111" >ASS</text>
<line x1="467.35" y1="462.20" x2="467.35" y2="458.60" stroke="#000" stroke-width="1.0" />
<line x1="463.35" y1="458.60" x2="471.35" y2="458.60" stroke="#000" stroke-width="1.2" />
<rect x="459.20" y="462.80" width="16.30" height="20.80" fill="#fff" stroke="#000" stroke-width="1.3" />
<text x="467.35" y="493.07" font-size="6.3" text-anchor="middle" font-weight="normal" fill="#111" >AAS</text>
<circle cx="401.20" cy="498.90" r="4.75" fill="#000" stroke="#000" stroke-width="0.8" />
<circle cx="410.90" cy="498.90" r="4.75" fill="#fff" stroke="#000" stroke-width="0.8" />
<circle cx="421.75" cy="498.90" r="4.75" fill="#000" stroke="#000" stroke-width="0.8" />
<circle cx="431.45" cy="498.90" r="4.75" fill="#fff" stroke="#000" stroke-width="0.8" />
<circle cx="442.60" cy="498.90" r="4.75" fill="#000" stroke="#000" stroke-width="0.8" />
<circle cx="452.30" cy="498.90" r="4.75" fill="#fff" stroke="#000" stroke-width="0.8" />
<circle cx="463.10" cy="498.90" r="4.75" fill="#000" stroke="#000" stroke-width="0.8" />
<circle cx="472.80" cy="498.90" r="4.75" fill="#fff" stroke="#000" stroke-width="0.8" />
<circle cx="401.20" cy="508.90" r="4.75" fill="#fff" stroke="#000" stroke-width="0.8" />
<circle cx="410.90" cy="508.90" r="4.75" fill="#000" stroke="#000" stroke-width="0.8" />
<circle cx="421.75" cy="508.90" r="4.75" fill="#a8a8a8" stroke="#000" stroke-width="0.8" />
<circle cx="431.45" cy="508.90" r="4.75" fill="#a8a8a8" stroke="#000" stroke-width="0.8" />
<circle cx="442.60" cy="508.90" r="4.75" fill="#a8a8a8" stroke="#000" stroke-width="0.8" />
<circle cx="452.30" cy="508.90" r="4.75" fill="#a8a8a8" stroke="#000" stroke-width="0.8" />
<circle cx="463.10" cy="508.90" r="4.75" fill="#000" stroke="#000" stroke-width="0.8" />
<circle cx="472.80" cy="508.90" r="4.75" fill="#fff" stroke="#000" stroke-width="0.8" />
<circle cx="401.20" cy="519.40" r="4.75" fill="#000" stroke="#000" stroke-width="0.8" />
<circle cx="410.90" cy="519.40" r="4.75" fill="#fff" stroke="#000" stroke-width="0.8" />
<circle cx="421.75" cy="519.40" r="4.75" fill="#fff" stroke="#000" stroke-width="0.8" />
<circle cx="431.45" cy="519.40" r="4.75" fill="#000" stroke="#000" stroke-width="0.8" />
<circle cx="442.60" cy="519.40" r="4.75" fill="#a8a8a8" stroke="#000" stroke-width="0.8" />
<circle cx="452.30" cy="519.40" r="4.75" fill="#a8a8a8" stroke="#000" stroke-width="0.8" />
<circle cx="463.10" cy="519.40" r="4.75" fill="#a8a8a8" stroke="#000" stroke-width="0.8" />
<circle cx="472.80" cy="519.40" r="4.75" fill="#a8a8a8" stroke="#000" stroke-width="0.8" />
<text x="395.50" y="500.23" font-size="6.75" text-anchor="end" font-weight="normal" fill="#111" >TMRM AUC:</text>
<text x="395.50" y="511.73" font-size="6.75" text-anchor="end" font-weight="normal" fill="#111" >LysoBrite inheritance:</text>
<text x="395.50" y="521.33" font-size="6.75" text-anchor="end" font-weight="normal" fill="#111" >TMRM inheritance:</text>
<text x="395.50" y="532.03" font-size="6.75" text-anchor="end" font-weight="normal" fill="#111" >Clusters (see Supplemental Figure 7):</text>
<text x="405.50" y="532.45" font-size="6.8" text-anchor="middle" font-weight="normal" fill="#111" >1/2/4/6</text>
<text x="426.00" y="532.45" font-size="6.8" text-anchor="middle" font-weight="normal" fill="#111" >3</text>
<text x="447.00" y="532.45" font-size="6.8" text-anchor="middle" font-weight="normal" fill="#111" >5</text>
<text x="467.30" y="532.45" font-size="6.8" text-anchor="middle" font-weight="normal" fill="#111" >7/10</text>
</svg></body></html>
